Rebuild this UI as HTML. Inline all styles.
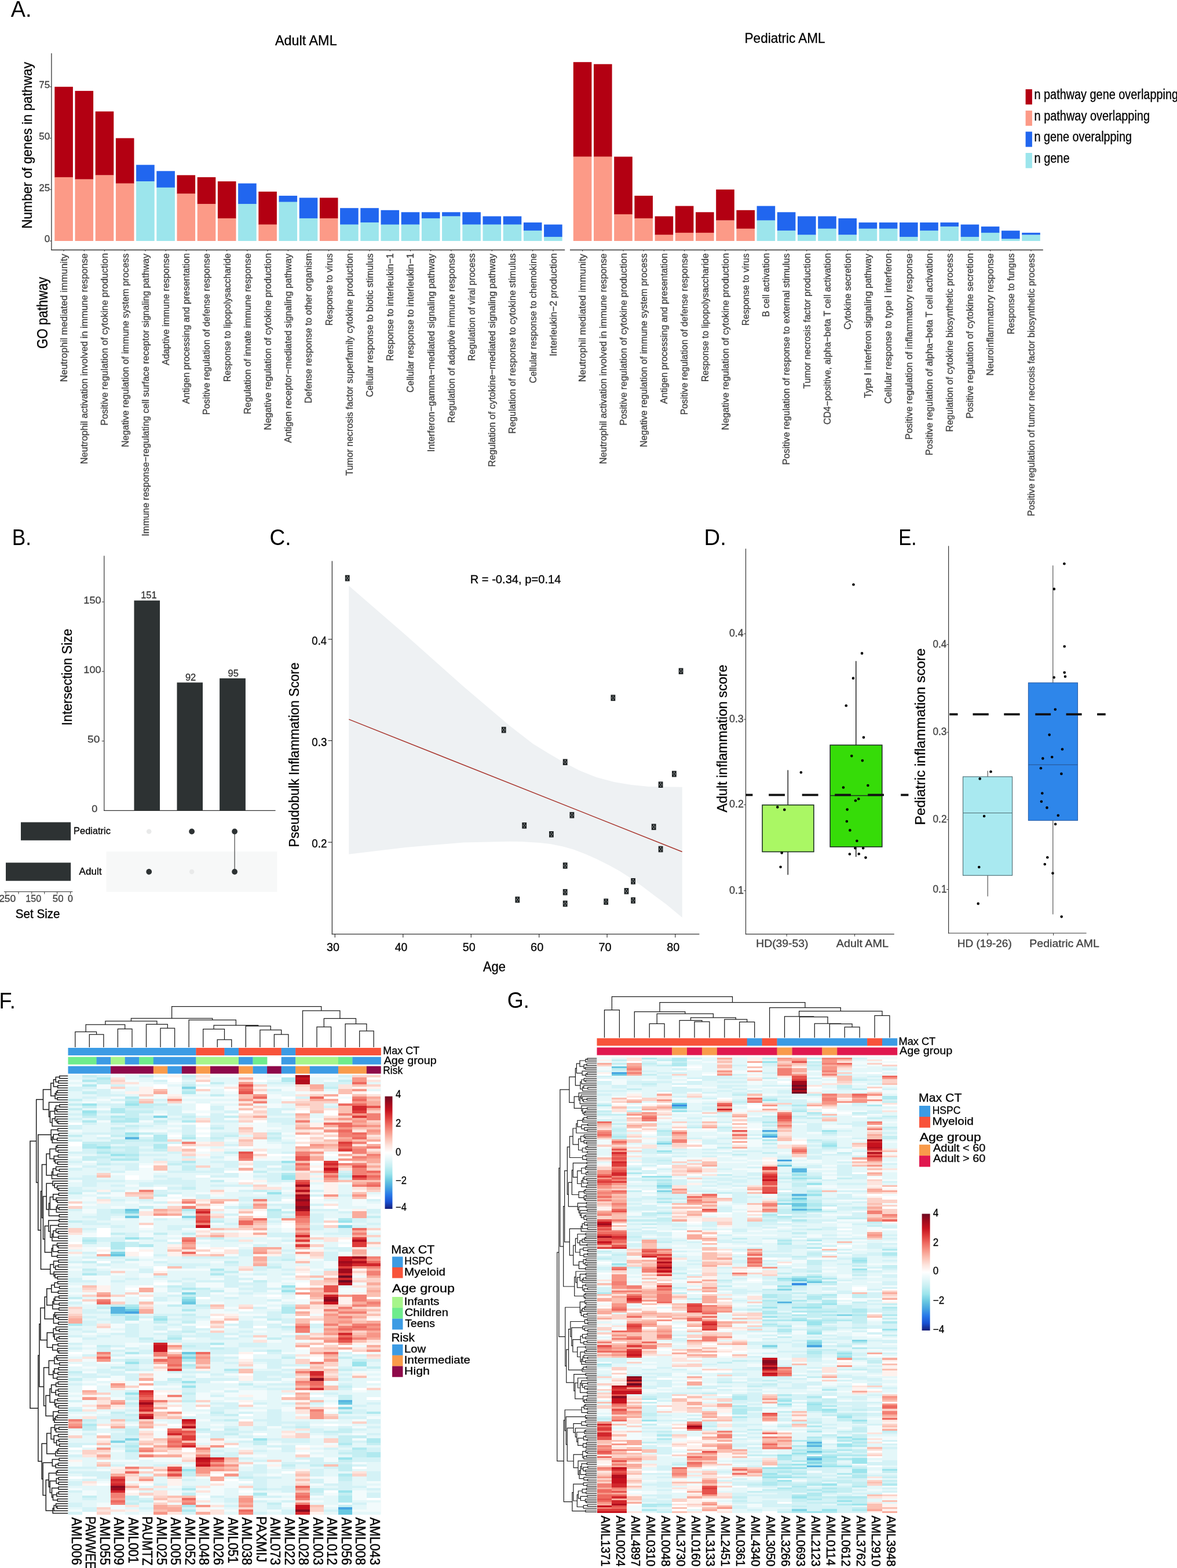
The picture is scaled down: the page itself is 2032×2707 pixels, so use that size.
<!DOCTYPE html>
<html lang="en"><head><meta charset="utf-8"><title>Figure</title>
<style>
html,body{margin:0;padding:0;background:#fff;}
body{width:2032px;height:2707px;overflow:hidden;}
svg{display:block;font-family:"Liberation Sans",sans-serif;}
</style></head><body>
<svg width="2032" height="2707" viewBox="0 0 2032 2707">
<rect x="0" y="0" width="2032" height="2707" fill="#fff"/>
<text x="18.70" y="29" font-size="38" fill="#000" textLength="35.69" lengthAdjust="spacingAndGlyphs">A.</text>
<text x="474.90" y="77.9" font-size="24" fill="#000" textLength="106.78" lengthAdjust="spacingAndGlyphs" stroke="#000" stroke-width="0.3">Adult AML</text>
<text x="1285.60" y="73.6" font-size="24" fill="#000" textLength="138.97" lengthAdjust="spacingAndGlyphs" stroke="#000" stroke-width="0.3">Pediatric AML</text>
<line x1="88.9" y1="91.9" x2="88.9" y2="432.1" stroke="#333333" stroke-width="1.3"/>
<line x1="88.3" y1="431.5" x2="975.2" y2="431.5" stroke="#333333" stroke-width="1.3"/>
<line x1="984" y1="431.5" x2="1800.8" y2="431.5" stroke="#333333" stroke-width="1.3"/>
<line x1="86" y1="149.8" x2="88.9" y2="149.8" stroke="#333333" stroke-width="1"/>
<text x="67.29" y="152.2" font-size="17" fill="#414141" stroke="#414141" stroke-width="0.3">75</text>
<line x1="86" y1="238.5" x2="88.9" y2="238.5" stroke="#333333" stroke-width="1"/>
<text x="67.29" y="240.9" font-size="17" fill="#414141" stroke="#414141" stroke-width="0.3">50</text>
<line x1="86" y1="327.2" x2="88.9" y2="327.2" stroke="#333333" stroke-width="1"/>
<text x="67.29" y="329.6" font-size="17" fill="#414141" stroke="#414141" stroke-width="0.3">25</text>
<line x1="86" y1="416" x2="88.9" y2="416" stroke="#333333" stroke-width="1"/>
<text x="76.75" y="418.4" font-size="17" fill="#414141" stroke="#414141" stroke-width="0.3">0</text>
<text transform="translate(55.1 393) rotate(-90)" x="-1.81" y="0" font-size="24" fill="#000" textLength="287.80" lengthAdjust="spacingAndGlyphs" stroke="#000" stroke-width="0.3">Number of genes in pathway</text>
<text transform="translate(82.1 601) rotate(-90)" x="-1.12" y="0" font-size="25" fill="#000" textLength="124.07" lengthAdjust="spacingAndGlyphs" stroke="#000" stroke-width="0.3">GO pathway</text>
<rect x="94.3" y="149.8" width="31.6" height="156.5" fill="#B30012"/>
<rect x="94.3" y="305.9" width="31.6" height="110.1" fill="#FC9A87"/>
<line x1="110.1" y1="431.5" x2="110.1" y2="433.9" stroke="#333333" stroke-width="1"/>
<text transform="translate(115.9 658.1) rotate(-90)" x="-1.34" y="0" font-size="16.5" fill="#414141" textLength="221.41" lengthAdjust="spacingAndGlyphs" stroke="#414141" stroke-width="0.3">Neutrophil mediated immunity</text>
<rect x="129.5" y="156.9" width="31.6" height="152.9" fill="#B30012"/>
<rect x="129.5" y="309.5" width="31.6" height="106.5" fill="#FC9A87"/>
<line x1="145.3" y1="431.5" x2="145.3" y2="433.9" stroke="#333333" stroke-width="1"/>
<text transform="translate(151.1 800) rotate(-90)" x="-1.31" y="0" font-size="16.5" fill="#414141" textLength="363.96" lengthAdjust="spacingAndGlyphs" stroke="#414141" stroke-width="0.3">Neutrophil activation involved in immune response</text>
<rect x="164.7" y="192.4" width="31.6" height="110.3" fill="#B30012"/>
<rect x="164.7" y="302.4" width="31.6" height="113.6" fill="#FC9A87"/>
<line x1="180.5" y1="431.5" x2="180.5" y2="433.9" stroke="#333333" stroke-width="1"/>
<text transform="translate(186.3 733.2) rotate(-90)" x="-1.31" y="0" font-size="16.5" fill="#414141" textLength="297.54" lengthAdjust="spacingAndGlyphs" stroke="#414141" stroke-width="0.3">Positive regulation of cytokine production</text>
<rect x="199.9" y="238.5" width="31.6" height="78.4" fill="#B30012"/>
<rect x="199.9" y="316.6" width="31.6" height="99.4" fill="#FC9A87"/>
<line x1="215.7" y1="431.5" x2="215.7" y2="433.9" stroke="#333333" stroke-width="1"/>
<text transform="translate(221.5 770.8) rotate(-90)" x="-1.29" y="0" font-size="16.5" fill="#414141" textLength="334.61" lengthAdjust="spacingAndGlyphs" stroke="#414141" stroke-width="0.3">Negative regulation of immune system process</text>
<rect x="235.1" y="284.6" width="31.6" height="28.7" fill="#2166EF"/>
<rect x="235.1" y="313.1" width="31.6" height="102.9" fill="#9CE5EC"/>
<line x1="250.9" y1="431.5" x2="250.9" y2="433.9" stroke="#333333" stroke-width="1"/>
<text transform="translate(256.7 924.2) rotate(-90)" x="-1.44" y="0" font-size="16.5" fill="#414141" textLength="487.64" lengthAdjust="spacingAndGlyphs" stroke="#414141" stroke-width="0.3">Immune response−regulating cell surface receptor signaling pathway</text>
<rect x="270.3" y="295.3" width="31.6" height="28.7" fill="#2166EF"/>
<rect x="270.3" y="323.7" width="31.6" height="92.3" fill="#9CE5EC"/>
<line x1="286.1" y1="431.5" x2="286.1" y2="433.9" stroke="#333333" stroke-width="1"/>
<text transform="translate(291.9 630.5) rotate(-90)" x="-0.00" y="0" font-size="16.5" fill="#414141" textLength="193.19" lengthAdjust="spacingAndGlyphs" stroke="#414141" stroke-width="0.3">Adaptive immune response</text>
<rect x="305.5" y="302.4" width="31.6" height="32.3" fill="#B30012"/>
<rect x="305.5" y="334.4" width="31.6" height="81.6" fill="#FC9A87"/>
<line x1="321.3" y1="431.5" x2="321.3" y2="433.9" stroke="#333333" stroke-width="1"/>
<text transform="translate(327.1 697.2) rotate(-90)" x="-0.00" y="0" font-size="16.5" fill="#414141" textLength="260.14" lengthAdjust="spacingAndGlyphs" stroke="#414141" stroke-width="0.3">Antigen processing and presentation</text>
<rect x="340.7" y="305.9" width="31.6" height="46.5" fill="#B30012"/>
<rect x="340.7" y="352.1" width="31.6" height="63.9" fill="#FC9A87"/>
<line x1="356.5" y1="431.5" x2="356.5" y2="433.9" stroke="#333333" stroke-width="1"/>
<text transform="translate(362.3 715.1) rotate(-90)" x="-1.27" y="0" font-size="16.5" fill="#414141" textLength="279.04" lengthAdjust="spacingAndGlyphs" stroke="#414141" stroke-width="0.3">Positive regulation of defense response</text>
<rect x="375.9" y="313.1" width="31.6" height="64.2" fill="#B30012"/>
<rect x="375.9" y="376.9" width="31.6" height="39.1" fill="#FC9A87"/>
<line x1="391.7" y1="431.5" x2="391.7" y2="433.9" stroke="#333333" stroke-width="1"/>
<text transform="translate(397.5 658.1) rotate(-90)" x="-1.26" y="0" font-size="16.5" fill="#414141" textLength="221.99" lengthAdjust="spacingAndGlyphs" stroke="#414141" stroke-width="0.3">Response to lipopolysaccharide</text>
<rect x="411.1" y="316.6" width="31.6" height="35.8" fill="#2166EF"/>
<rect x="411.1" y="352.1" width="31.6" height="63.9" fill="#9CE5EC"/>
<line x1="426.9" y1="431.5" x2="426.9" y2="433.9" stroke="#333333" stroke-width="1"/>
<text transform="translate(432.7 713.8) rotate(-90)" x="-1.30" y="0" font-size="16.5" fill="#414141" textLength="277.78" lengthAdjust="spacingAndGlyphs" stroke="#414141" stroke-width="0.3">Regulation of innate immune response</text>
<rect x="446.3" y="330.8" width="31.6" height="57.1" fill="#B30012"/>
<rect x="446.3" y="387.6" width="31.6" height="28.4" fill="#FC9A87"/>
<line x1="462.1" y1="431.5" x2="462.1" y2="433.9" stroke="#333333" stroke-width="1"/>
<text transform="translate(467.9 741.1) rotate(-90)" x="-1.31" y="0" font-size="16.5" fill="#414141" textLength="305.44" lengthAdjust="spacingAndGlyphs" stroke="#414141" stroke-width="0.3">Negative regulation of cytokine production</text>
<rect x="481.5" y="337.9" width="31.6" height="11" fill="#2166EF"/>
<rect x="481.5" y="348.6" width="31.6" height="67.4" fill="#9CE5EC"/>
<line x1="497.3" y1="431.5" x2="497.3" y2="433.9" stroke="#333333" stroke-width="1"/>
<text transform="translate(503.1 764.6) rotate(-90)" x="-0.00" y="0" font-size="16.5" fill="#414141" textLength="326.58" lengthAdjust="spacingAndGlyphs" stroke="#414141" stroke-width="0.3">Antigen receptor−mediated signaling pathway</text>
<rect x="516.7" y="341.4" width="31.6" height="35.8" fill="#2166EF"/>
<rect x="516.7" y="376.9" width="31.6" height="39.1" fill="#9CE5EC"/>
<line x1="532.5" y1="431.5" x2="532.5" y2="433.9" stroke="#333333" stroke-width="1"/>
<text transform="translate(538.3 695) rotate(-90)" x="-1.28" y="0" font-size="16.5" fill="#414141" textLength="259.26" lengthAdjust="spacingAndGlyphs" stroke="#414141" stroke-width="0.3">Defense response to other organism</text>
<rect x="551.9" y="341.4" width="31.6" height="35.8" fill="#B30012"/>
<rect x="551.9" y="376.9" width="31.6" height="39.1" fill="#FC9A87"/>
<line x1="567.7" y1="431.5" x2="567.7" y2="433.9" stroke="#333333" stroke-width="1"/>
<text transform="translate(573.5 560.9) rotate(-90)" x="-1.25" y="0" font-size="16.5" fill="#414141" textLength="124.68" lengthAdjust="spacingAndGlyphs" stroke="#414141" stroke-width="0.3">Response to virus</text>
<rect x="587.1" y="359.2" width="31.6" height="28.7" fill="#2166EF"/>
<rect x="587.1" y="387.6" width="31.6" height="28.4" fill="#9CE5EC"/>
<line x1="602.9" y1="431.5" x2="602.9" y2="433.9" stroke="#333333" stroke-width="1"/>
<text transform="translate(608.7 821) rotate(-90)" x="-0.32" y="0" font-size="16.5" fill="#414141" textLength="384.33" lengthAdjust="spacingAndGlyphs" stroke="#414141" stroke-width="0.3">Tumor necrosis factor superfamily cytokine production</text>
<rect x="622.3" y="359.2" width="31.6" height="25.2" fill="#2166EF"/>
<rect x="622.3" y="384.1" width="31.6" height="31.9" fill="#9CE5EC"/>
<line x1="638.1" y1="431.5" x2="638.1" y2="433.9" stroke="#333333" stroke-width="1"/>
<text transform="translate(643.9 684.7) rotate(-90)" x="-0.80" y="0" font-size="16.5" fill="#414141" textLength="248.09" lengthAdjust="spacingAndGlyphs" stroke="#414141" stroke-width="0.3">Cellular response to biotic stimulus</text>
<rect x="657.5" y="362.8" width="31.6" height="25.2" fill="#2166EF"/>
<rect x="657.5" y="387.6" width="31.6" height="28.4" fill="#9CE5EC"/>
<line x1="673.3" y1="431.5" x2="673.3" y2="433.9" stroke="#333333" stroke-width="1"/>
<text transform="translate(679.1 622) rotate(-90)" x="-1.28" y="0" font-size="16.5" fill="#414141" textLength="186.02" lengthAdjust="spacingAndGlyphs" stroke="#414141" stroke-width="0.3">Response to interleukin−1</text>
<rect x="692.7" y="366.3" width="31.6" height="21.6" fill="#2166EF"/>
<rect x="692.7" y="387.6" width="31.6" height="28.4" fill="#9CE5EC"/>
<line x1="708.5" y1="431.5" x2="708.5" y2="433.9" stroke="#333333" stroke-width="1"/>
<text transform="translate(714.3 676.9) rotate(-90)" x="-0.81" y="0" font-size="16.5" fill="#414141" textLength="240.44" lengthAdjust="spacingAndGlyphs" stroke="#414141" stroke-width="0.3">Cellular response to interleukin−1</text>
<rect x="727.9" y="366.3" width="31.6" height="10.9" fill="#2166EF"/>
<rect x="727.9" y="376.9" width="31.6" height="39.1" fill="#9CE5EC"/>
<line x1="743.7" y1="431.5" x2="743.7" y2="433.9" stroke="#333333" stroke-width="1"/>
<text transform="translate(749.5 778.7) rotate(-90)" x="-1.46" y="0" font-size="16.5" fill="#414141" textLength="342.15" lengthAdjust="spacingAndGlyphs" stroke="#414141" stroke-width="0.3">Interferon−gamma−mediated signaling pathway</text>
<rect x="763.1" y="366.3" width="31.6" height="7.4" fill="#2166EF"/>
<rect x="763.1" y="373.4" width="31.6" height="42.6" fill="#9CE5EC"/>
<line x1="778.9" y1="431.5" x2="778.9" y2="433.9" stroke="#333333" stroke-width="1"/>
<text transform="translate(784.7 728.6) rotate(-90)" x="-1.29" y="0" font-size="16.5" fill="#414141" textLength="292.58" lengthAdjust="spacingAndGlyphs" stroke="#414141" stroke-width="0.3">Regulation of adaptive immune response</text>
<rect x="798.3" y="366.3" width="31.6" height="21.6" fill="#2166EF"/>
<rect x="798.3" y="387.6" width="31.6" height="28.4" fill="#9CE5EC"/>
<line x1="814.1" y1="431.5" x2="814.1" y2="433.9" stroke="#333333" stroke-width="1"/>
<text transform="translate(819.9 622) rotate(-90)" x="-1.26" y="0" font-size="16.5" fill="#414141" textLength="185.80" lengthAdjust="spacingAndGlyphs" stroke="#414141" stroke-width="0.3">Regulation of viral process</text>
<rect x="833.5" y="373.4" width="31.6" height="14.5" fill="#2166EF"/>
<rect x="833.5" y="387.6" width="31.6" height="28.4" fill="#9CE5EC"/>
<line x1="849.3" y1="431.5" x2="849.3" y2="433.9" stroke="#333333" stroke-width="1"/>
<text transform="translate(855.1 804.7) rotate(-90)" x="-1.29" y="0" font-size="16.5" fill="#414141" textLength="368.00" lengthAdjust="spacingAndGlyphs" stroke="#414141" stroke-width="0.3">Regulation of cytokine−mediated signaling pathway</text>
<rect x="868.7" y="373.4" width="31.6" height="14.5" fill="#2166EF"/>
<rect x="868.7" y="387.6" width="31.6" height="28.4" fill="#9CE5EC"/>
<line x1="884.5" y1="431.5" x2="884.5" y2="433.9" stroke="#333333" stroke-width="1"/>
<text transform="translate(890.3 747.4) rotate(-90)" x="-1.29" y="0" font-size="16.5" fill="#414141" textLength="311.23" lengthAdjust="spacingAndGlyphs" stroke="#414141" stroke-width="0.3">Regulation of response to cytokine stimulus</text>
<rect x="903.9" y="384.1" width="31.6" height="14.5" fill="#2166EF"/>
<rect x="903.9" y="398.2" width="31.6" height="17.8" fill="#9CE5EC"/>
<line x1="919.7" y1="431.5" x2="919.7" y2="433.9" stroke="#333333" stroke-width="1"/>
<text transform="translate(925.5 660.6) rotate(-90)" x="-0.80" y="0" font-size="16.5" fill="#414141" textLength="224.08" lengthAdjust="spacingAndGlyphs" stroke="#414141" stroke-width="0.3">Cellular response to chemokine</text>
<rect x="939.1" y="387.6" width="31.6" height="21.6" fill="#2166EF"/>
<rect x="939.1" y="408.9" width="31.6" height="7.1" fill="#9CE5EC"/>
<line x1="954.9" y1="431.5" x2="954.9" y2="433.9" stroke="#333333" stroke-width="1"/>
<text transform="translate(960.7 613.6) rotate(-90)" x="-1.50" y="0" font-size="16.5" fill="#414141" textLength="178.13" lengthAdjust="spacingAndGlyphs" stroke="#414141" stroke-width="0.3">Interleukin−2 production</text>
<rect x="989.8" y="107.2" width="31.6" height="163.6" fill="#B30012"/>
<rect x="989.8" y="270.5" width="31.6" height="145.5" fill="#FC9A87"/>
<line x1="1005.6" y1="431.5" x2="1005.6" y2="433.9" stroke="#333333" stroke-width="1"/>
<text transform="translate(1011.4 658.1) rotate(-90)" x="-1.34" y="0" font-size="16.5" fill="#414141" textLength="221.41" lengthAdjust="spacingAndGlyphs" stroke="#414141" stroke-width="0.3">Neutrophil mediated immunity</text>
<rect x="1025" y="110.7" width="31.6" height="160.1" fill="#B30012"/>
<rect x="1025" y="270.5" width="31.6" height="145.5" fill="#FC9A87"/>
<line x1="1040.8" y1="431.5" x2="1040.8" y2="433.9" stroke="#333333" stroke-width="1"/>
<text transform="translate(1046.6 800) rotate(-90)" x="-1.31" y="0" font-size="16.5" fill="#414141" textLength="363.96" lengthAdjust="spacingAndGlyphs" stroke="#414141" stroke-width="0.3">Neutrophil activation involved in immune response</text>
<rect x="1060.2" y="270.5" width="31.6" height="99.7" fill="#B30012"/>
<rect x="1060.2" y="369.9" width="31.6" height="46.1" fill="#FC9A87"/>
<line x1="1076" y1="431.5" x2="1076" y2="433.9" stroke="#333333" stroke-width="1"/>
<text transform="translate(1081.8 733.2) rotate(-90)" x="-1.31" y="0" font-size="16.5" fill="#414141" textLength="297.54" lengthAdjust="spacingAndGlyphs" stroke="#414141" stroke-width="0.3">Positive regulation of cytokine production</text>
<rect x="1095.4" y="337.9" width="31.6" height="39.4" fill="#B30012"/>
<rect x="1095.4" y="376.9" width="31.6" height="39.1" fill="#FC9A87"/>
<line x1="1111.2" y1="431.5" x2="1111.2" y2="433.9" stroke="#333333" stroke-width="1"/>
<text transform="translate(1117 770.8) rotate(-90)" x="-1.29" y="0" font-size="16.5" fill="#414141" textLength="334.61" lengthAdjust="spacingAndGlyphs" stroke="#414141" stroke-width="0.3">Negative regulation of immune system process</text>
<rect x="1130.6" y="373.4" width="31.6" height="32.3" fill="#B30012"/>
<rect x="1130.6" y="405.4" width="31.6" height="10.6" fill="#FC9A87"/>
<line x1="1146.4" y1="431.5" x2="1146.4" y2="433.9" stroke="#333333" stroke-width="1"/>
<text transform="translate(1152.2 697.2) rotate(-90)" x="-0.00" y="0" font-size="16.5" fill="#414141" textLength="260.14" lengthAdjust="spacingAndGlyphs" stroke="#414141" stroke-width="0.3">Antigen processing and presentation</text>
<rect x="1165.8" y="355.6" width="31.6" height="46.5" fill="#B30012"/>
<rect x="1165.8" y="401.8" width="31.6" height="14.2" fill="#FC9A87"/>
<line x1="1181.6" y1="431.5" x2="1181.6" y2="433.9" stroke="#333333" stroke-width="1"/>
<text transform="translate(1187.4 715.1) rotate(-90)" x="-1.27" y="0" font-size="16.5" fill="#414141" textLength="279.04" lengthAdjust="spacingAndGlyphs" stroke="#414141" stroke-width="0.3">Positive regulation of defense response</text>
<rect x="1201" y="366.3" width="31.6" height="35.8" fill="#B30012"/>
<rect x="1201" y="401.8" width="31.6" height="14.2" fill="#FC9A87"/>
<line x1="1216.8" y1="431.5" x2="1216.8" y2="433.9" stroke="#333333" stroke-width="1"/>
<text transform="translate(1222.6 658.1) rotate(-90)" x="-1.26" y="0" font-size="16.5" fill="#414141" textLength="221.99" lengthAdjust="spacingAndGlyphs" stroke="#414141" stroke-width="0.3">Response to lipopolysaccharide</text>
<rect x="1236.2" y="327.2" width="31.6" height="53.5" fill="#B30012"/>
<rect x="1236.2" y="380.5" width="31.6" height="35.5" fill="#FC9A87"/>
<line x1="1252" y1="431.5" x2="1252" y2="433.9" stroke="#333333" stroke-width="1"/>
<text transform="translate(1257.8 741.1) rotate(-90)" x="-1.31" y="0" font-size="16.5" fill="#414141" textLength="305.44" lengthAdjust="spacingAndGlyphs" stroke="#414141" stroke-width="0.3">Negative regulation of cytokine production</text>
<rect x="1271.4" y="362.8" width="31.6" height="32.2" fill="#B30012"/>
<rect x="1271.4" y="394.7" width="31.6" height="21.3" fill="#FC9A87"/>
<line x1="1287.2" y1="431.5" x2="1287.2" y2="433.9" stroke="#333333" stroke-width="1"/>
<text transform="translate(1293 560.9) rotate(-90)" x="-1.25" y="0" font-size="16.5" fill="#414141" textLength="124.68" lengthAdjust="spacingAndGlyphs" stroke="#414141" stroke-width="0.3">Response to virus</text>
<rect x="1306.6" y="355.6" width="31.6" height="25.2" fill="#2166EF"/>
<rect x="1306.6" y="380.5" width="31.6" height="35.5" fill="#9CE5EC"/>
<line x1="1322.4" y1="431.5" x2="1322.4" y2="433.9" stroke="#333333" stroke-width="1"/>
<text transform="translate(1328.2 545.9) rotate(-90)" x="-1.27" y="0" font-size="16.5" fill="#414141" textLength="110.17" lengthAdjust="spacingAndGlyphs" stroke="#414141" stroke-width="0.3">B cell activation</text>
<rect x="1341.8" y="366.3" width="31.6" height="32.2" fill="#2166EF"/>
<rect x="1341.8" y="398.2" width="31.6" height="17.8" fill="#9CE5EC"/>
<line x1="1357.6" y1="431.5" x2="1357.6" y2="433.9" stroke="#333333" stroke-width="1"/>
<text transform="translate(1363.4 801.2) rotate(-90)" x="-1.29" y="0" font-size="16.5" fill="#414141" textLength="365.03" lengthAdjust="spacingAndGlyphs" stroke="#414141" stroke-width="0.3">Positive regulation of response to external stimulus</text>
<rect x="1377" y="373.4" width="31.6" height="32.3" fill="#2166EF"/>
<rect x="1377" y="405.4" width="31.6" height="10.6" fill="#9CE5EC"/>
<line x1="1392.8" y1="431.5" x2="1392.8" y2="433.9" stroke="#333333" stroke-width="1"/>
<text transform="translate(1398.6 670.6) rotate(-90)" x="-0.32" y="0" font-size="16.5" fill="#414141" textLength="233.89" lengthAdjust="spacingAndGlyphs" stroke="#414141" stroke-width="0.3">Tumor necrosis factor production</text>
<rect x="1412.2" y="373.4" width="31.6" height="21.6" fill="#2166EF"/>
<rect x="1412.2" y="394.7" width="31.6" height="21.3" fill="#9CE5EC"/>
<line x1="1428" y1="431.5" x2="1428" y2="433.9" stroke="#333333" stroke-width="1"/>
<text transform="translate(1433.8 732.3) rotate(-90)" x="-0.79" y="0" font-size="16.5" fill="#414141" textLength="296.07" lengthAdjust="spacingAndGlyphs" stroke="#414141" stroke-width="0.3">CD4−positive, alpha−beta T cell activation</text>
<rect x="1447.4" y="376.9" width="31.6" height="28.7" fill="#2166EF"/>
<rect x="1447.4" y="405.4" width="31.6" height="10.6" fill="#9CE5EC"/>
<line x1="1463.2" y1="431.5" x2="1463.2" y2="433.9" stroke="#333333" stroke-width="1"/>
<text transform="translate(1469 568.2) rotate(-90)" x="-0.80" y="0" font-size="16.5" fill="#414141" textLength="131.98" lengthAdjust="spacingAndGlyphs" stroke="#414141" stroke-width="0.3">Cytokine secretion</text>
<rect x="1482.6" y="384.1" width="31.6" height="10.9" fill="#2166EF"/>
<rect x="1482.6" y="394.7" width="31.6" height="21.3" fill="#9CE5EC"/>
<line x1="1498.4" y1="431.5" x2="1498.4" y2="433.9" stroke="#333333" stroke-width="1"/>
<text transform="translate(1504.2 686.9) rotate(-90)" x="-0.32" y="0" font-size="16.5" fill="#414141" textLength="249.21" lengthAdjust="spacingAndGlyphs" stroke="#414141" stroke-width="0.3">Type I interferon signaling pathway</text>
<rect x="1517.8" y="384.1" width="31.6" height="10.9" fill="#2166EF"/>
<rect x="1517.8" y="394.7" width="31.6" height="21.3" fill="#9CE5EC"/>
<line x1="1533.6" y1="431.5" x2="1533.6" y2="433.9" stroke="#333333" stroke-width="1"/>
<text transform="translate(1539.4 696.3) rotate(-90)" x="-0.81" y="0" font-size="16.5" fill="#414141" textLength="260.07" lengthAdjust="spacingAndGlyphs" stroke="#414141" stroke-width="0.3">Cellular response to type I interferon</text>
<rect x="1553" y="384.1" width="31.6" height="25.1" fill="#2166EF"/>
<rect x="1553" y="408.9" width="31.6" height="7.1" fill="#9CE5EC"/>
<line x1="1568.8" y1="431.5" x2="1568.8" y2="433.9" stroke="#333333" stroke-width="1"/>
<text transform="translate(1574.6 757.7) rotate(-90)" x="-1.31" y="0" font-size="16.5" fill="#414141" textLength="321.69" lengthAdjust="spacingAndGlyphs" stroke="#414141" stroke-width="0.3">Positive regulation of inflammatory response</text>
<rect x="1588.2" y="384.1" width="31.6" height="14.5" fill="#2166EF"/>
<rect x="1588.2" y="398.2" width="31.6" height="17.8" fill="#9CE5EC"/>
<line x1="1604" y1="431.5" x2="1604" y2="433.9" stroke="#333333" stroke-width="1"/>
<text transform="translate(1609.8 784.9) rotate(-90)" x="-1.29" y="0" font-size="16.5" fill="#414141" textLength="349.19" lengthAdjust="spacingAndGlyphs" stroke="#414141" stroke-width="0.3">Positive regulation of alpha−beta T cell activation</text>
<rect x="1623.4" y="384.1" width="31.6" height="7.4" fill="#2166EF"/>
<rect x="1623.4" y="391.1" width="31.6" height="24.9" fill="#9CE5EC"/>
<line x1="1639.2" y1="431.5" x2="1639.2" y2="433.9" stroke="#333333" stroke-width="1"/>
<text transform="translate(1645 744.2) rotate(-90)" x="-1.28" y="0" font-size="16.5" fill="#414141" textLength="308.01" lengthAdjust="spacingAndGlyphs" stroke="#414141" stroke-width="0.3">Regulation of cytokine biosynthetic process</text>
<rect x="1658.6" y="387.6" width="31.6" height="21.6" fill="#2166EF"/>
<rect x="1658.6" y="408.9" width="31.6" height="7.1" fill="#9CE5EC"/>
<line x1="1674.4" y1="431.5" x2="1674.4" y2="433.9" stroke="#333333" stroke-width="1"/>
<text transform="translate(1680.2 721.3) rotate(-90)" x="-1.30" y="0" font-size="16.5" fill="#414141" textLength="285.58" lengthAdjust="spacingAndGlyphs" stroke="#414141" stroke-width="0.3">Positive regulation of cytokine secretion</text>
<rect x="1693.8" y="391.1" width="31.6" height="11" fill="#2166EF"/>
<rect x="1693.8" y="401.8" width="31.6" height="14.2" fill="#9CE5EC"/>
<line x1="1709.6" y1="431.5" x2="1709.6" y2="433.9" stroke="#333333" stroke-width="1"/>
<text transform="translate(1715.4 647.1) rotate(-90)" x="-1.32" y="0" font-size="16.5" fill="#414141" textLength="211.06" lengthAdjust="spacingAndGlyphs" stroke="#414141" stroke-width="0.3">Neuroinflammatory response</text>
<rect x="1729" y="398.2" width="31.6" height="14.5" fill="#2166EF"/>
<rect x="1729" y="412.4" width="31.6" height="3.6" fill="#9CE5EC"/>
<line x1="1744.8" y1="431.5" x2="1744.8" y2="433.9" stroke="#333333" stroke-width="1"/>
<text transform="translate(1750.6 576) rotate(-90)" x="-1.26" y="0" font-size="16.5" fill="#414141" textLength="139.81" lengthAdjust="spacingAndGlyphs" stroke="#414141" stroke-width="0.3">Response to fungus</text>
<rect x="1764.2" y="401.8" width="31.6" height="3.9" fill="#2166EF"/>
<rect x="1764.2" y="405.4" width="31.6" height="10.6" fill="#9CE5EC"/>
<line x1="1780" y1="431.5" x2="1780" y2="433.9" stroke="#333333" stroke-width="1"/>
<text transform="translate(1785.8 889.9) rotate(-90)" x="-1.29" y="0" font-size="16.5" fill="#414141" textLength="453.76" lengthAdjust="spacingAndGlyphs" stroke="#414141" stroke-width="0.3">Positive regulation of tumor necrosis factor biosynthetic process</text>
<rect x="1770.6" y="154.1" width="11.3" height="26.3" fill="#B30012"/>
<text x="1785.51" y="171.3" font-size="23" fill="#000" textLength="248.48" lengthAdjust="spacingAndGlyphs" stroke="#000" stroke-width="0.3">n pathway gene overlapping</text>
<rect x="1770.6" y="190.9" width="11.3" height="26.3" fill="#FC9A87"/>
<text x="1785.50" y="207.8" font-size="23" fill="#000" textLength="199.53" lengthAdjust="spacingAndGlyphs" stroke="#000" stroke-width="0.3">n pathway overlapping</text>
<rect x="1770.6" y="227.3" width="11.3" height="26.3" fill="#2166EF"/>
<text x="1785.51" y="244.2" font-size="23" fill="#000" textLength="168.52" lengthAdjust="spacingAndGlyphs" stroke="#000" stroke-width="0.3">n gene overalpping</text>
<rect x="1770.6" y="264" width="11.3" height="26.3" fill="#9CE5EC"/>
<text x="1785.50" y="280.6" font-size="23" fill="#000" textLength="61.07" lengthAdjust="spacingAndGlyphs" stroke="#000" stroke-width="0.3">n gene</text>
<text x="20.68" y="940.9" font-size="38" fill="#000" textLength="33.28" lengthAdjust="spacingAndGlyphs">B.</text>
<rect x="183.6" y="1470.2" width="294.8" height="69.6" fill="#F7F8F8"/>
<line x1="179.8" y1="959.6" x2="179.8" y2="1400" stroke="#333333" stroke-width="1.2"/>
<line x1="179.2" y1="1399.4" x2="475.6" y2="1399.4" stroke="#333333" stroke-width="1.2"/>
<line x1="175.8" y1="1039.1" x2="179.8" y2="1039.1" stroke="#333333" stroke-width="1"/>
<text x="144.34" y="1041.7" font-size="16.5" fill="#414141" textLength="30.37" lengthAdjust="spacingAndGlyphs" stroke="#414141" stroke-width="0.3">150</text>
<line x1="175.8" y1="1159.2" x2="179.8" y2="1159.2" stroke="#333333" stroke-width="1"/>
<text x="144.34" y="1162.3" font-size="16.5" fill="#414141" textLength="30.37" lengthAdjust="spacingAndGlyphs" stroke="#414141" stroke-width="0.3">100</text>
<line x1="175.8" y1="1279.3" x2="179.8" y2="1279.3" stroke="#333333" stroke-width="1"/>
<text x="151.13" y="1282.3" font-size="16.5" fill="#414141" textLength="21.28" lengthAdjust="spacingAndGlyphs" stroke="#414141" stroke-width="0.3">50</text>
<text x="158.16" y="1402" font-size="16.5" fill="#414141" textLength="10.09" lengthAdjust="spacingAndGlyphs" stroke="#414141" stroke-width="0.3">0</text>
<text transform="translate(123.7 1250.4) rotate(-90)" x="-2.03" y="0" font-size="23" fill="#000" textLength="167.00" lengthAdjust="spacingAndGlyphs" stroke="#000" stroke-width="0.3">Intersection Size</text>
<rect x="231.5" y="1036.7" width="44.5" height="362.7" fill="#2D3233"/>
<text x="243.13" y="1032.6" font-size="16.5" fill="#333" stroke="#333" stroke-width="0.3">151</text>
<rect x="305.5" y="1178.3" width="44.5" height="221.1" fill="#2D3233"/>
<text x="319.92" y="1174.9" font-size="16.5" fill="#333" stroke="#333" stroke-width="0.3">92</text>
<rect x="379.1" y="1171.1" width="44.8" height="228.3" fill="#2D3233"/>
<text x="393.52" y="1167.7" font-size="16.5" fill="#333" stroke="#333" stroke-width="0.3">95</text>
<rect x="36" y="1419.5" width="86.2" height="31.3" fill="#2D3233"/>
<rect x="10" y="1489.3" width="112.2" height="31.4" fill="#2D3233"/>
<text x="127.09" y="1440.2" font-size="17" fill="#000" textLength="63.84" lengthAdjust="spacingAndGlyphs" stroke="#000" stroke-width="0.3">Pediatric</text>
<text x="136.60" y="1510" font-size="17" fill="#000" textLength="38.87" lengthAdjust="spacingAndGlyphs" stroke="#000" stroke-width="0.3">Adult</text>
<line x1="405.1" y1="1435.5" x2="405.1" y2="1505" stroke="#444" stroke-width="1.2"/>
<circle cx="257.2" cy="1435.5" r="4.3" fill="#E9EAEA"/>
<circle cx="257.2" cy="1505" r="4.9" fill="#2D3233"/>
<circle cx="331.1" cy="1435.5" r="4.9" fill="#2D3233"/>
<circle cx="331.1" cy="1505" r="4.3" fill="#E9EAEA"/>
<circle cx="405.1" cy="1435.5" r="4.9" fill="#2D3233"/>
<circle cx="405.1" cy="1505" r="4.9" fill="#2D3233"/>
<line x1="6.9" y1="1539.5" x2="125.3" y2="1539.5" stroke="#333333" stroke-width="1"/>
<line x1="10" y1="1539.5" x2="10" y2="1543.5" stroke="#333333" stroke-width="1"/>
<line x1="32" y1="1539.5" x2="32" y2="1543.5" stroke="#333333" stroke-width="1"/>
<line x1="54.8" y1="1539.5" x2="54.8" y2="1543.5" stroke="#333333" stroke-width="1"/>
<line x1="76.8" y1="1539.5" x2="76.8" y2="1543.5" stroke="#333333" stroke-width="1"/>
<line x1="98.7" y1="1539.5" x2="98.7" y2="1543.5" stroke="#333333" stroke-width="1"/>
<line x1="121.6" y1="1539.5" x2="121.6" y2="1543.5" stroke="#333333" stroke-width="1"/>
<text x="-1.87" y="1557" font-size="16.5" fill="#414141" textLength="29.15" lengthAdjust="spacingAndGlyphs" stroke="#414141" stroke-width="0.3">250</text>
<text x="44.19" y="1557" font-size="16.5" fill="#414141" textLength="26.93" lengthAdjust="spacingAndGlyphs" stroke="#414141" stroke-width="0.3">150</text>
<text x="90.82" y="1557" font-size="16.5" fill="#414141" textLength="18.81" lengthAdjust="spacingAndGlyphs" stroke="#414141" stroke-width="0.3">50</text>
<text x="116.94" y="1557" font-size="16.5" fill="#414141" textLength="8.94" lengthAdjust="spacingAndGlyphs" stroke="#414141" stroke-width="0.3">0</text>
<text x="26.67" y="1584.6" font-size="22.5" fill="#000" textLength="76.94" lengthAdjust="spacingAndGlyphs" stroke="#000" stroke-width="0.3">Set Size</text>
<text x="465.55" y="940.5" font-size="38" fill="#000" textLength="36.98" lengthAdjust="spacingAndGlyphs">C.</text>
<polygon points="602.3,1011.3 700,1096 800,1185 880,1253 920,1284 946,1300 975,1317 1000,1330 1030,1342 1060,1350 1090,1355 1120,1358 1177.7,1358.7 1177.7,1584 1150,1561 1131,1547 1110,1531 1091.5,1517.7 1070,1504 1052,1494 1030,1483 1012,1475 990,1466.5 972,1461.5 950,1457 932,1455 900,1453 880,1452.8 800,1454.5 700,1463 602.3,1474.8" fill="#EEF1F3"/>
<line x1="602.3" y1="1241.9" x2="1177.7" y2="1470.5" stroke="#A8352D" stroke-width="1.5"/>
<line x1="573.4" y1="968.4" x2="573.4" y2="1613.2" stroke="#333333" stroke-width="1.3"/>
<line x1="572.8" y1="1612.6" x2="1207.4" y2="1612.6" stroke="#333333" stroke-width="1.3"/>
<line x1="566.5" y1="1103.6" x2="573.4" y2="1103.6" stroke="#333333" stroke-width="1.2"/>
<text x="538.35" y="1112.6" font-size="20" fill="#000" textLength="25.71" lengthAdjust="spacingAndGlyphs" stroke="#000" stroke-width="0.3">0.4</text>
<line x1="566.5" y1="1278.6" x2="573.4" y2="1278.6" stroke="#333333" stroke-width="1.2"/>
<text x="538.35" y="1287.6" font-size="20" fill="#000" textLength="26.01" lengthAdjust="spacingAndGlyphs" stroke="#000" stroke-width="0.3">0.3</text>
<line x1="566.5" y1="1454.1" x2="573.4" y2="1454.1" stroke="#333333" stroke-width="1.2"/>
<text x="538.34" y="1463.1" font-size="20" fill="#000" textLength="26.11" lengthAdjust="spacingAndGlyphs" stroke="#000" stroke-width="0.3">0.2</text>
<line x1="578.3" y1="1612.6" x2="578.3" y2="1618.6" stroke="#333333" stroke-width="1.2"/>
<text x="563.96" y="1641.7" font-size="20" fill="#000" textLength="21.93" lengthAdjust="spacingAndGlyphs" stroke="#000" stroke-width="0.3">30</text>
<line x1="695.8" y1="1612.6" x2="695.8" y2="1618.6" stroke="#333333" stroke-width="1.2"/>
<text x="681.76" y="1641.7" font-size="20" fill="#000" textLength="21.61" lengthAdjust="spacingAndGlyphs" stroke="#000" stroke-width="0.3">40</text>
<line x1="813.3" y1="1612.6" x2="813.3" y2="1618.6" stroke="#333333" stroke-width="1.2"/>
<text x="798.86" y="1641.7" font-size="20" fill="#000" textLength="22.03" lengthAdjust="spacingAndGlyphs" stroke="#000" stroke-width="0.3">50</text>
<line x1="930.7" y1="1612.6" x2="930.7" y2="1618.6" stroke="#333333" stroke-width="1.2"/>
<text x="916.05" y="1641.7" font-size="20" fill="#000" textLength="22.25" lengthAdjust="spacingAndGlyphs" stroke="#000" stroke-width="0.3">60</text>
<line x1="1048.1" y1="1612.6" x2="1048.1" y2="1618.6" stroke="#333333" stroke-width="1.2"/>
<text x="1033.45" y="1641.7" font-size="20" fill="#000" textLength="22.25" lengthAdjust="spacingAndGlyphs" stroke="#000" stroke-width="0.3">70</text>
<line x1="1165.8" y1="1612.6" x2="1165.8" y2="1618.6" stroke="#333333" stroke-width="1.2"/>
<text x="1151.36" y="1641.7" font-size="20" fill="#000" textLength="22.03" lengthAdjust="spacingAndGlyphs" stroke="#000" stroke-width="0.3">80</text>
<text x="834.00" y="1677.4" font-size="23" fill="#000" textLength="38.96" lengthAdjust="spacingAndGlyphs" stroke="#000" stroke-width="0.3">Age</text>
<text transform="translate(515.7 1460.7) rotate(-90)" x="-1.81" y="0" font-size="23" fill="#000" textLength="318.69" lengthAdjust="spacingAndGlyphs" stroke="#000" stroke-width="0.3">Pseudobulk Inflammation Score</text>
<text x="811.69" y="1007.3" font-size="20" fill="#000" textLength="156.68" lengthAdjust="spacingAndGlyphs" stroke="#000" stroke-width="0.3">R = -0.34, p=0.14</text>
<g transform="translate(599.7 998.1)"><rect x="-3.9" y="-5.3" width="7.8" height="10.6" fill="#1f2425"/><path d="M-1.1 -3.4h2.2l-1.1 1.7zM-1.1 3.4h2.2l-1.1 -1.7zM-2.3 -1.3v2.6l1.3 -1.3zM2.3 -1.3v2.6l-1.3 -1.3z" fill="#d9dcdc"/></g>
<g transform="translate(1058.4 1204.8)"><rect x="-3.9" y="-5.3" width="7.8" height="10.6" fill="#1f2425"/><path d="M-1.1 -3.4h2.2l-1.1 1.7zM-1.1 3.4h2.2l-1.1 -1.7zM-2.3 -1.3v2.6l1.3 -1.3zM2.3 -1.3v2.6l-1.3 -1.3z" fill="#d9dcdc"/></g>
<g transform="translate(1175.6 1158.7)"><rect x="-3.9" y="-5.3" width="7.8" height="10.6" fill="#1f2425"/><path d="M-1.1 -3.4h2.2l-1.1 1.7zM-1.1 3.4h2.2l-1.1 -1.7zM-2.3 -1.3v2.6l1.3 -1.3zM2.3 -1.3v2.6l-1.3 -1.3z" fill="#d9dcdc"/></g>
<g transform="translate(869.7 1260.1)"><rect x="-3.9" y="-5.3" width="7.8" height="10.6" fill="#1f2425"/><path d="M-1.1 -3.4h2.2l-1.1 1.7zM-1.1 3.4h2.2l-1.1 -1.7zM-2.3 -1.3v2.6l1.3 -1.3zM2.3 -1.3v2.6l-1.3 -1.3z" fill="#d9dcdc"/></g>
<g transform="translate(975.7 1315.7)"><rect x="-3.9" y="-5.3" width="7.8" height="10.6" fill="#1f2425"/><path d="M-1.1 -3.4h2.2l-1.1 1.7zM-1.1 3.4h2.2l-1.1 -1.7zM-2.3 -1.3v2.6l1.3 -1.3zM2.3 -1.3v2.6l-1.3 -1.3z" fill="#d9dcdc"/></g>
<g transform="translate(1163.9 1336.1)"><rect x="-3.9" y="-5.3" width="7.8" height="10.6" fill="#1f2425"/><path d="M-1.1 -3.4h2.2l-1.1 1.7zM-1.1 3.4h2.2l-1.1 -1.7zM-2.3 -1.3v2.6l1.3 -1.3zM2.3 -1.3v2.6l-1.3 -1.3z" fill="#d9dcdc"/></g>
<g transform="translate(1140.6 1354.7)"><rect x="-3.9" y="-5.3" width="7.8" height="10.6" fill="#1f2425"/><path d="M-1.1 -3.4h2.2l-1.1 1.7zM-1.1 3.4h2.2l-1.1 -1.7zM-2.3 -1.3v2.6l1.3 -1.3zM2.3 -1.3v2.6l-1.3 -1.3z" fill="#d9dcdc"/></g>
<g transform="translate(987.4 1407.2)"><rect x="-3.9" y="-5.3" width="7.8" height="10.6" fill="#1f2425"/><path d="M-1.1 -3.4h2.2l-1.1 1.7zM-1.1 3.4h2.2l-1.1 -1.7zM-2.3 -1.3v2.6l1.3 -1.3zM2.3 -1.3v2.6l-1.3 -1.3z" fill="#d9dcdc"/></g>
<g transform="translate(905.2 1425.2)"><rect x="-3.9" y="-5.3" width="7.8" height="10.6" fill="#1f2425"/><path d="M-1.1 -3.4h2.2l-1.1 1.7zM-1.1 3.4h2.2l-1.1 -1.7zM-2.3 -1.3v2.6l1.3 -1.3zM2.3 -1.3v2.6l-1.3 -1.3z" fill="#d9dcdc"/></g>
<g transform="translate(1128.7 1427.6)"><rect x="-3.9" y="-5.3" width="7.8" height="10.6" fill="#1f2425"/><path d="M-1.1 -3.4h2.2l-1.1 1.7zM-1.1 3.4h2.2l-1.1 -1.7zM-2.3 -1.3v2.6l1.3 -1.3zM2.3 -1.3v2.6l-1.3 -1.3z" fill="#d9dcdc"/></g>
<g transform="translate(951.9 1440.3)"><rect x="-3.9" y="-5.3" width="7.8" height="10.6" fill="#1f2425"/><path d="M-1.1 -3.4h2.2l-1.1 1.7zM-1.1 3.4h2.2l-1.1 -1.7zM-2.3 -1.3v2.6l1.3 -1.3zM2.3 -1.3v2.6l-1.3 -1.3z" fill="#d9dcdc"/></g>
<g transform="translate(1140.6 1466)"><rect x="-3.9" y="-5.3" width="7.8" height="10.6" fill="#1f2425"/><path d="M-1.1 -3.4h2.2l-1.1 1.7zM-1.1 3.4h2.2l-1.1 -1.7zM-2.3 -1.3v2.6l1.3 -1.3zM2.3 -1.3v2.6l-1.3 -1.3z" fill="#d9dcdc"/></g>
<g transform="translate(975.7 1494.4)"><rect x="-3.9" y="-5.3" width="7.8" height="10.6" fill="#1f2425"/><path d="M-1.1 -3.4h2.2l-1.1 1.7zM-1.1 3.4h2.2l-1.1 -1.7zM-2.3 -1.3v2.6l1.3 -1.3zM2.3 -1.3v2.6l-1.3 -1.3z" fill="#d9dcdc"/></g>
<g transform="translate(1093.1 1521.4)"><rect x="-3.9" y="-5.3" width="7.8" height="10.6" fill="#1f2425"/><path d="M-1.1 -3.4h2.2l-1.1 1.7zM-1.1 3.4h2.2l-1.1 -1.7zM-2.3 -1.3v2.6l1.3 -1.3zM2.3 -1.3v2.6l-1.3 -1.3z" fill="#d9dcdc"/></g>
<g transform="translate(1081.5 1538.4)"><rect x="-3.9" y="-5.3" width="7.8" height="10.6" fill="#1f2425"/><path d="M-1.1 -3.4h2.2l-1.1 1.7zM-1.1 3.4h2.2l-1.1 -1.7zM-2.3 -1.3v2.6l1.3 -1.3zM2.3 -1.3v2.6l-1.3 -1.3z" fill="#d9dcdc"/></g>
<g transform="translate(975.7 1540.2)"><rect x="-3.9" y="-5.3" width="7.8" height="10.6" fill="#1f2425"/><path d="M-1.1 -3.4h2.2l-1.1 1.7zM-1.1 3.4h2.2l-1.1 -1.7zM-2.3 -1.3v2.6l1.3 -1.3zM2.3 -1.3v2.6l-1.3 -1.3z" fill="#d9dcdc"/></g>
<g transform="translate(893.3 1553.2)"><rect x="-3.9" y="-5.3" width="7.8" height="10.6" fill="#1f2425"/><path d="M-1.1 -3.4h2.2l-1.1 1.7zM-1.1 3.4h2.2l-1.1 -1.7zM-2.3 -1.3v2.6l1.3 -1.3zM2.3 -1.3v2.6l-1.3 -1.3z" fill="#d9dcdc"/></g>
<g transform="translate(1093.1 1554.5)"><rect x="-3.9" y="-5.3" width="7.8" height="10.6" fill="#1f2425"/><path d="M-1.1 -3.4h2.2l-1.1 1.7zM-1.1 3.4h2.2l-1.1 -1.7zM-2.3 -1.3v2.6l1.3 -1.3zM2.3 -1.3v2.6l-1.3 -1.3z" fill="#d9dcdc"/></g>
<g transform="translate(1046.2 1556.7)"><rect x="-3.9" y="-5.3" width="7.8" height="10.6" fill="#1f2425"/><path d="M-1.1 -3.4h2.2l-1.1 1.7zM-1.1 3.4h2.2l-1.1 -1.7zM-2.3 -1.3v2.6l1.3 -1.3zM2.3 -1.3v2.6l-1.3 -1.3z" fill="#d9dcdc"/></g>
<g transform="translate(975.7 1560.1)"><rect x="-3.9" y="-5.3" width="7.8" height="10.6" fill="#1f2425"/><path d="M-1.1 -3.4h2.2l-1.1 1.7zM-1.1 3.4h2.2l-1.1 -1.7zM-2.3 -1.3v2.6l1.3 -1.3zM2.3 -1.3v2.6l-1.3 -1.3z" fill="#d9dcdc"/></g>
<text x="1215.53" y="940.5" font-size="38" fill="#000" textLength="38.31" lengthAdjust="spacingAndGlyphs">D.</text>
<text x="1551.15" y="940.5" font-size="38" fill="#000" textLength="31.33" lengthAdjust="spacingAndGlyphs">E.</text>
<line x1="1287.5" y1="947.2" x2="1287.5" y2="1613.2" stroke="#333333" stroke-width="1.2"/>
<line x1="1286.9" y1="1612.6" x2="1543.8" y2="1612.6" stroke="#333333" stroke-width="1.2"/>
<line x1="1284" y1="1094.1" x2="1287.5" y2="1094.1" stroke="#333333" stroke-width="1"/>
<text x="1258.98" y="1099.3" font-size="17.5" fill="#414141" textLength="24.56" lengthAdjust="spacingAndGlyphs" stroke="#414141" stroke-width="0.3">0.4</text>
<line x1="1284" y1="1242" x2="1287.5" y2="1242" stroke="#333333" stroke-width="1"/>
<text x="1258.97" y="1247.2" font-size="17.5" fill="#414141" textLength="24.84" lengthAdjust="spacingAndGlyphs" stroke="#414141" stroke-width="0.3">0.3</text>
<line x1="1284" y1="1389.2" x2="1287.5" y2="1389.2" stroke="#333333" stroke-width="1"/>
<text x="1258.97" y="1394.4" font-size="17.5" fill="#414141" textLength="24.94" lengthAdjust="spacingAndGlyphs" stroke="#414141" stroke-width="0.3">0.2</text>
<line x1="1284" y1="1537.7" x2="1287.5" y2="1537.7" stroke="#333333" stroke-width="1"/>
<text x="1258.97" y="1542.9" font-size="17.5" fill="#414141" textLength="24.94" lengthAdjust="spacingAndGlyphs" stroke="#414141" stroke-width="0.3">0.1</text>
<line x1="1358.2" y1="1612.6" x2="1358.2" y2="1616.6" stroke="#333333" stroke-width="1"/>
<line x1="1475.6" y1="1612.6" x2="1475.6" y2="1616.6" stroke="#333333" stroke-width="1"/>
<text x="1305.25" y="1634.8" font-size="17.5" fill="#414141" textLength="90.17" lengthAdjust="spacingAndGlyphs" stroke="#414141" stroke-width="0.3">HD(39-53)</text>
<text x="1443.80" y="1634.8" font-size="17.5" fill="#414141" textLength="90.26" lengthAdjust="spacingAndGlyphs" stroke="#414141" stroke-width="0.3">Adult AML</text>
<text transform="translate(1254.9 1402.4) rotate(-90)" x="-0.00" y="0" font-size="23" fill="#000" textLength="254.92" lengthAdjust="spacingAndGlyphs" stroke="#000" stroke-width="0.3">Adult inflammation score</text>
<line x1="1360.3" y1="1329.5" x2="1360.3" y2="1510.3" stroke="#222" stroke-width="1.5"/>
<rect x="1316.1" y="1389.7" width="88.8" height="80.8" fill="#AAF764" stroke="#1c3320" stroke-width="1.6"/>
<line x1="1477.8" y1="1141.2" x2="1477.8" y2="1479.3" stroke="#222" stroke-width="1.5"/>
<rect x="1433.2" y="1286.3" width="89.6" height="175.7" fill="#36DC08" stroke="#1c3320" stroke-width="1.6"/>
<line x1="1433.2" y1="1373.4" x2="1522.8" y2="1373.4" stroke="#1c3320" stroke-width="1.5"/>
<line x1="1287.5" y1="1372.4" x2="1299.4" y2="1372.4" stroke="#111" stroke-width="3.8"/>
<line x1="1327.2" y1="1372.4" x2="1355" y2="1372.4" stroke="#111" stroke-width="3.8"/>
<line x1="1384.7" y1="1372.4" x2="1412.6" y2="1372.4" stroke="#111" stroke-width="3.8"/>
<line x1="1441.2" y1="1372.4" x2="1469" y2="1372.4" stroke="#111" stroke-width="3.8"/>
<line x1="1498.2" y1="1372.4" x2="1526" y2="1372.4" stroke="#111" stroke-width="3.8"/>
<line x1="1555.2" y1="1372.4" x2="1568.4" y2="1372.4" stroke="#111" stroke-width="3.8"/>
<circle cx="1382.9" cy="1333.5" r="2.3" fill="#000"/>
<circle cx="1342.3" cy="1393.4" r="2.3" fill="#000"/>
<circle cx="1354.3" cy="1397.9" r="2.3" fill="#000"/>
<circle cx="1349.7" cy="1472.4" r="2.3" fill="#000"/>
<circle cx="1347.6" cy="1496.8" r="2.3" fill="#000"/>
<circle cx="1491" cy="1273.1" r="2.3" fill="#000"/>
<circle cx="1470.3" cy="1305.1" r="2.3" fill="#000"/>
<circle cx="1488.9" cy="1313.1" r="2.3" fill="#000"/>
<circle cx="1456" cy="1359.5" r="2.3" fill="#000"/>
<circle cx="1498.4" cy="1356" r="2.3" fill="#000"/>
<circle cx="1482.3" cy="1379.3" r="2.3" fill="#000"/>
<circle cx="1477" cy="1382.3" r="2.3" fill="#000"/>
<circle cx="1462.7" cy="1397.6" r="2.3" fill="#000"/>
<circle cx="1461.9" cy="1418" r="2.3" fill="#000"/>
<circle cx="1467.4" cy="1433.4" r="2.3" fill="#000"/>
<circle cx="1479.4" cy="1451.7" r="2.3" fill="#000"/>
<circle cx="1476.4" cy="1464.2" r="2.3" fill="#000"/>
<circle cx="1490.2" cy="1464.2" r="2.3" fill="#000"/>
<circle cx="1466.9" cy="1474.5" r="2.3" fill="#000"/>
<circle cx="1482.8" cy="1474.2" r="2.3" fill="#000"/>
<circle cx="1494.5" cy="1480.6" r="2.3" fill="#000"/>
<circle cx="1473.5" cy="1009.2" r="2.3" fill="#000"/>
<circle cx="1488.1" cy="1127.9" r="2.3" fill="#000"/>
<circle cx="1473" cy="1170.9" r="2.3" fill="#000"/>
<circle cx="1460.8" cy="1218.3" r="2.3" fill="#000"/>
<line x1="1637.6" y1="942.4" x2="1637.6" y2="1611.6" stroke="#333333" stroke-width="1.2"/>
<line x1="1637" y1="1611" x2="1875.6" y2="1611" stroke="#333333" stroke-width="1.2"/>
<line x1="1634.2" y1="1112.7" x2="1637.6" y2="1112.7" stroke="#333333" stroke-width="1"/>
<text x="1610.51" y="1117.9" font-size="17.5" fill="#414141" textLength="23.62" lengthAdjust="spacingAndGlyphs" stroke="#414141" stroke-width="0.3">0.4</text>
<line x1="1634.2" y1="1264.2" x2="1637.6" y2="1264.2" stroke="#333333" stroke-width="1"/>
<text x="1610.50" y="1269.4" font-size="17.5" fill="#414141" textLength="23.89" lengthAdjust="spacingAndGlyphs" stroke="#414141" stroke-width="0.3">0.3</text>
<line x1="1634.2" y1="1415" x2="1637.6" y2="1415" stroke="#333333" stroke-width="1"/>
<text x="1610.50" y="1420.2" font-size="17.5" fill="#414141" textLength="23.98" lengthAdjust="spacingAndGlyphs" stroke="#414141" stroke-width="0.3">0.2</text>
<line x1="1634.2" y1="1535.6" x2="1637.6" y2="1535.6" stroke="#333333" stroke-width="1"/>
<text x="1610.50" y="1540.8" font-size="17.5" fill="#414141" textLength="23.98" lengthAdjust="spacingAndGlyphs" stroke="#414141" stroke-width="0.3">0.1</text>
<line x1="1705.2" y1="1611" x2="1705.2" y2="1615" stroke="#333333" stroke-width="1"/>
<line x1="1818.6" y1="1611" x2="1818.6" y2="1615" stroke="#333333" stroke-width="1"/>
<text x="1652.78" y="1634.8" font-size="17.5" fill="#414141" textLength="93.98" lengthAdjust="spacingAndGlyphs" stroke="#414141" stroke-width="0.3">HD (19-26)</text>
<text x="1777.34" y="1634.8" font-size="17.5" fill="#414141" textLength="120.54" lengthAdjust="spacingAndGlyphs" stroke="#414141" stroke-width="0.3">Pediatric AML</text>
<text transform="translate(1596.8 1422.3) rotate(-90)" x="-1.94" y="0" font-size="23" fill="#000" textLength="304.94" lengthAdjust="spacingAndGlyphs" stroke="#000" stroke-width="0.3">Pediatric inflammation score</text>
<line x1="1705.2" y1="1330.8" x2="1705.2" y2="1547.6" stroke="#444" stroke-width="1.1"/>
<rect x="1662.5" y="1340.9" width="85.1" height="170.4" fill="#A9E9F0" stroke="#4d6c72" stroke-width="1.1"/>
<line x1="1662.5" y1="1403.5" x2="1747.6" y2="1403.5" stroke="#4d6c72" stroke-width="1.1"/>
<line x1="1817.8" y1="976.3" x2="1817.8" y2="1578.6" stroke="#444" stroke-width="1.1"/>
<rect x="1775.4" y="1178.8" width="85.1" height="237.6" fill="#2E86EA" stroke="#2a5fa8" stroke-width="1.1"/>
<line x1="1775.4" y1="1320.2" x2="1860.5" y2="1320.2" stroke="#27508c" stroke-width="1.1"/>
<line x1="1639.2" y1="1233.2" x2="1653.5" y2="1233.2" stroke="#111" stroke-width="3.8"/>
<line x1="1679.5" y1="1233.2" x2="1706.8" y2="1233.2" stroke="#111" stroke-width="3.8"/>
<line x1="1733.3" y1="1233.2" x2="1760.6" y2="1233.2" stroke="#111" stroke-width="3.8"/>
<line x1="1787.3" y1="1233.2" x2="1814.1" y2="1233.2" stroke="#111" stroke-width="3.8"/>
<line x1="1840.6" y1="1233.2" x2="1867.6" y2="1233.2" stroke="#111" stroke-width="3.8"/>
<line x1="1894.1" y1="1233.2" x2="1908.7" y2="1233.2" stroke="#111" stroke-width="3.8"/>
<circle cx="1837.4" cy="973.2" r="2.3" fill="#000"/>
<circle cx="1819.9" cy="1016.9" r="2.3" fill="#000"/>
<circle cx="1837.7" cy="1116" r="2.3" fill="#000"/>
<circle cx="1837.7" cy="1161.1" r="2.3" fill="#000"/>
<circle cx="1839" cy="1168" r="2.3" fill="#000"/>
<circle cx="1819.7" cy="1169.5" r="2.3" fill="#000"/>
<circle cx="1821.8" cy="1224.7" r="2.3" fill="#000"/>
<circle cx="1710.5" cy="1332.2" r="2.3" fill="#000"/>
<circle cx="1691.7" cy="1344.4" r="2.3" fill="#000"/>
<circle cx="1699.1" cy="1409" r="2.3" fill="#000"/>
<circle cx="1690.3" cy="1497" r="2.3" fill="#000"/>
<circle cx="1688.7" cy="1560.1" r="2.3" fill="#000"/>
<circle cx="1811.7" cy="1268.6" r="2.3" fill="#000"/>
<circle cx="1834" cy="1293.5" r="2.3" fill="#000"/>
<circle cx="1816.2" cy="1307" r="2.3" fill="#000"/>
<circle cx="1800.3" cy="1309.4" r="2.3" fill="#000"/>
<circle cx="1796.9" cy="1326.3" r="2.3" fill="#000"/>
<circle cx="1832.4" cy="1335.9" r="2.3" fill="#000"/>
<circle cx="1799.3" cy="1369.5" r="2.3" fill="#000"/>
<circle cx="1797.9" cy="1383.8" r="2.3" fill="#000"/>
<circle cx="1807.5" cy="1394.4" r="2.3" fill="#000"/>
<circle cx="1826.8" cy="1407.7" r="2.3" fill="#000"/>
<circle cx="1822.1" cy="1422.8" r="2.3" fill="#000"/>
<circle cx="1808.3" cy="1480.3" r="2.3" fill="#000"/>
<circle cx="1803.8" cy="1492" r="2.3" fill="#000"/>
<circle cx="1817.5" cy="1507.6" r="2.3" fill="#000"/>
<circle cx="1832.7" cy="1582.6" r="2.3" fill="#000"/>
<text x="-1.39" y="1741.2" font-size="38" fill="#000" textLength="28.05" lengthAdjust="spacingAndGlyphs">F.</text>
<path d="M154.3 1808V1785.8H178.9V1808M129.8 1808V1781.3H166.6V1785.8M203.4 1808V1776.4H228V1808M148.2 1781.3V1768.9H215.7V1776.4M277 1808V1775.2H301.6V1808M252.5 1808V1768.3H289.3V1775.2M181.9 1768.9V1762.9H270.9V1768.3M375.2 1808V1794.8H399.8V1808M350.7 1808V1776.7H387.5V1794.8M473.4 1808V1785.8H497.9V1808M448.9 1808V1778H485.7V1785.8M424.3 1808V1771.3H467.3V1778M369.1 1776.7V1770.1H445.8V1771.3M326.1 1808V1760.8H407.4V1770.1M226.4 1762.9V1758.1H366.8V1760.8M547 1808V1772.8H571.6V1808M620.7 1808V1779.8H645.2V1808M596.1 1808V1767.7H632.9V1779.8M559.3 1772.8V1758.4H614.5V1767.7M522.5 1808V1744.8H586.9V1758.4M296.6 1758.1V1737.6H554.7V1744.8" fill="none" stroke="#1c1c1c" stroke-width="1.25"/>
<path d="M117.5 1857.6H102.8V1861.7H117.5M117.5 1865.8H100.8V1869.9H117.5M102.8 1859.6H96.3V1867.9H100.8M117.5 1874.1H99.7V1878.2H117.5M96.3 1863.8H92.5V1876.1H99.7M117.5 1882.3H99.1V1886.4H117.5M99.1 1884.4H97.1V1890.6H117.5M117.5 1894.7H99.1V1898.8H117.5M97.1 1887.5H95.1V1896.8H99.1M92.5 1869.9H87.8V1892.1H95.1M117.5 1907.1H102.8V1911.2H117.5M117.5 1915.3H98.5V1919.4H117.5M102.8 1909.1H96.5V1917.4H98.5M96.5 1913.2H94.5V1923.6H117.5M117.5 1935.9H100.2V1940.1H117.5M117.5 1931.8H98.1V1938H100.2M117.5 1927.7H95.2V1934.9H98.1M95.2 1931.3H90.1V1944.2H117.5M94.5 1918.4H86.5V1937.7H90.1M117.5 1902.9H84.5V1928.1H86.5M87.8 1881H74.5V1915.5H84.5M117.5 1948.3H99.8V1952.4H117.5M117.5 1956.6H101.5V1960.7H117.5M117.5 1964.8H98.8V1968.9H117.5M101.5 1958.6H92.2V1966.9H98.8M92.2 1962.8H90.2V1973.1H117.5M99.8 1950.4H88.2V1967.9H90.2M117.5 1977.2H98.6V1981.3H117.5M117.5 1985.4H100.2V1989.6H117.5M98.6 1979.2H96.6V1987.5H100.2M117.5 1993.7H100.4V1997.8H117.5M117.5 2006.1H99.4V2010.2H117.5M117.5 2001.9H95.3V2008.1H99.4M100.4 1995.8H93.3V2005H95.3M96.6 1983.4H86V2000.4H93.3M117.5 2018.4H102.4V2022.6H117.5M117.5 2014.3H96.7V2020.5H102.4M117.5 2026.7H99V2030.8H117.5M96.7 2017.4H91.5V2028.8H99M91.5 2023.1H89.5V2034.9H117.5M86 1991.9H80.1V2029H89.5M117.5 2051.4H101V2055.6H117.5M117.5 2047.3H98.7V2053.5H101M117.5 2043.2H94.2V2050.4H98.7M117.5 2039.1H91.1V2046.8H94.2M117.5 2059.7H101.4V2063.8H117.5M117.5 2072.1H99V2076.2H117.5M117.5 2067.9H97V2074.1H99M101.4 2061.8H91.7V2071H97M117.5 2084.4H101.8V2088.6H117.5M117.5 2080.3H99.3V2086.5H101.8M99.3 2083.4H97.3V2092.7H117.5M91.7 2066.4H86.4V2088H97.3M117.5 2096.8H102.3V2100.9H117.5M86.4 2077.2H84.4V2098.9H102.3M91.1 2042.9H80.2V2088H84.4M117.5 2105.1H102V2109.2H117.5M117.5 2113.3H101.1V2117.4H117.5M117.5 2125.7H100.4V2129.8H117.5M117.5 2121.6H96.7V2127.8H100.4M117.5 2133.9H100.8V2138.1H117.5M96.7 2124.7H92V2136H100.8M92 2130.3H90V2142.2H117.5M101.1 2115.4H86.9V2136.3H90M102 2107.1H83.8V2125.8H86.9M117.5 2150.4H100.6V2154.6H117.5M117.5 2146.3H98.6V2152.5H100.6M117.5 2158.7H100.4V2162.8H117.5M98.6 2149.4H91.3V2160.8H100.4M117.5 2166.9H98.8V2171.1H117.5M91.3 2155.1H89.3V2169H98.8M83.8 2116.5H77.4V2162H89.3M80.2 2065.5H74.5V2139.3H77.4M80.1 2010.4H72.5V2102.4H74.5M117.5 2175.2H100.9V2179.3H117.5M117.5 2183.4H100.5V2187.6H117.5M100.5 2185.5H95.7V2191.7H117.5M100.9 2177.2H92.6V2188.6H95.7M117.5 2204.1H99.1V2208.2H117.5M117.5 2199.9H95V2206.1H99.1M117.5 2195.8H93V2203H95M92.6 2182.9H86.8V2199.4H93M72.5 2056.4H70.5V2191.2H86.8M88.2 1959.1H65.8V2123.8H70.5M74.5 1898.3H62.7V2041.5H65.8M117.5 2212.3H99.7V2216.4H117.5M117.5 2220.6H102.7V2224.7H117.5M99.7 2214.4H94.2V2222.6H102.7M117.5 2228.8H100.5V2232.9H117.5M94.2 2218.5H88.8V2230.9H100.5M117.5 2237.1H101.8V2241.2H117.5M101.8 2239.1H94.9V2245.3H117.5M117.5 2249.4H102.2V2253.6H117.5M94.9 2242.2H92.9V2251.5H102.2M117.5 2257.7H101.7V2261.8H117.5M92.9 2246.9H90.9V2259.8H101.7M88.8 2224.7H80.8V2253.3H90.9M117.5 2274.2H100.6V2278.3H117.5M117.5 2270.1H96.5V2276.2H100.6M117.5 2265.9H94.5V2273.2H96.5M117.5 2282.4H100.7V2286.6H117.5M94.5 2269.5H92.5V2284.5H100.7M80.8 2239H77.2V2277H92.5M117.5 2294.8H102.2V2298.9H117.5M117.5 2290.7H96.5V2296.9H102.2M117.5 2307.2H101.9V2311.3H117.5M101.9 2309.2H98.1V2315.4H117.5M117.5 2303.1H94.2V2312.3H98.1M96.5 2293.8H92.2V2307.7H94.2M117.5 2319.6H100.2V2323.7H117.5M117.5 2331.9H101.4V2336.1H117.5M117.5 2327.8H99.4V2334H101.4M100.2 2321.6H90.8V2330.9H99.4M92.2 2300.7H81.3V2326.3H90.8M77.2 2258H69.9V2313.5H81.3M117.5 2344.3H99.3V2348.4H117.5M117.5 2340.2H97.3V2346.4H99.3M117.5 2352.6H102.7V2356.7H117.5M97.3 2343.3H93.9V2354.6H102.7M117.5 2360.8H101.1V2364.9H117.5M117.5 2369.1H100V2373.2H117.5M101.1 2362.9H93.8V2371.1H100M117.5 2377.3H98.6V2381.4H117.5M93.8 2367H91.8V2379.4H98.6M93.9 2349H84.4V2373.2H91.8M117.5 2385.6H100.4V2389.7H117.5M100.4 2387.6H96.6V2393.8H117.5M117.5 2397.9H100.5V2402.1H117.5M117.5 2406.2H101.2V2410.3H117.5M100.5 2400H96.2V2408.2H101.2M96.6 2390.7H88.7V2404.1H96.2M117.5 2414.4H99.4V2418.6H117.5M117.5 2426.8H101V2430.9H117.5M117.5 2422.7H96.5V2428.9H101M99.4 2416.5H94.5V2425.8H96.5M88.7 2397.4H86.1V2421.1H94.5M117.5 2435.1H100.9V2439.2H117.5M117.5 2443.3H98.6V2447.4H117.5M98.6 2445.4H95.8V2451.6H117.5M95.8 2448.5H93.8V2455.7H117.5M100.9 2437.1H91.8V2452.1H93.8M86.1 2409.3H79.1V2444.6H91.8M84.4 2361.1H75.6V2426.9H79.1M69.9 2285.8H67.9V2394H75.6M117.5 2463.9H101.6V2468.1H117.5M101.6 2466H96.5V2472.2H117.5M117.5 2459.8H94.5V2469.1H96.5M117.5 2476.3H100.6V2480.4H117.5M117.5 2484.6H101.6V2488.7H117.5M117.5 2492.8H102.7V2496.9H117.5M101.6 2486.6H97.6V2494.9H102.7M100.6 2478.4H93.2V2490.8H97.6M94.5 2464.5H88.1V2484.6H93.2M117.5 2501.1H100.7V2505.2H117.5M100.7 2503.1H98.7V2509.3H117.5M98.7 2506.2H95.9V2513.4H117.5M88.1 2474.5H80.8V2509.8H95.9M117.5 2517.6H102.1V2521.7H117.5M117.5 2525.8H100.4V2529.9H117.5M100.4 2527.9H96.2V2534.1H117.5M102.1 2519.6H90.3V2531H96.2M117.5 2538.2H99.2V2542.3H117.5M99.2 2540.2H97.2V2546.4H117.5M117.5 2550.6H101.2V2554.7H117.5M117.5 2558.8H101.2V2562.9H117.5M101.2 2552.6H97.2V2560.9H101.2M117.5 2567.1H100.9V2571.2H117.5M117.5 2575.3H101.2V2579.4H117.5M101.2 2577.4H98V2583.6H117.5M117.5 2587.7H99.3V2591.8H117.5M98 2580.5H91.5V2589.8H99.3M100.9 2569.1H89.5V2585.1H91.5M97.2 2556.8H86.3V2577.1H89.5M97.2 2543.3H84.3V2566.9H86.3M117.5 2600.1H98.6V2604.2H117.5M117.5 2595.9H96.6V2602.1H98.6M96.6 2599H93.2V2608.3H117.5M93.2 2603.7H91.2V2612.4H117.5M84.3 2555.1H79.3V2608.1H91.2M90.3 2525.3H74.2V2581.6H79.3M80.8 2492.2H72.2V2553.4H74.2M67.9 2339.9H65.9V2522.8H72.2M62.7 1969.9H52V2431.3H65.9" fill="none" stroke="#1c1c1c" stroke-width="1.5"/>
<rect x="117.5" y="1809" width="221.2" height="13" fill="#3C9BE4"/>
<rect x="338.4" y="1809" width="49.4" height="13" fill="#F8533A"/>
<rect x="387.5" y="1809" width="24.8" height="13" fill="#3C9BE4"/>
<rect x="412" y="1809" width="73.9" height="13" fill="#F8533A"/>
<rect x="485.7" y="1809" width="24.8" height="13" fill="#3C9BE4"/>
<rect x="510.2" y="1809" width="147.6" height="13" fill="#F8533A"/>
<rect x="117.5" y="1824.7" width="49.4" height="13" fill="#6EEC8C"/>
<rect x="166.6" y="1824.7" width="24.8" height="13" fill="#3C9BE4"/>
<rect x="191.1" y="1824.7" width="24.8" height="13" fill="#A6F58A"/>
<rect x="215.7" y="1824.7" width="24.8" height="13" fill="#3C9BE4"/>
<rect x="240.2" y="1824.7" width="24.8" height="13" fill="#6EEC8C"/>
<rect x="264.8" y="1824.7" width="73.9" height="13" fill="#3C9BE4"/>
<rect x="338.4" y="1824.7" width="73.9" height="13" fill="#A6F58A"/>
<rect x="412" y="1824.7" width="24.8" height="13" fill="#3C9BE4"/>
<rect x="436.6" y="1824.7" width="24.8" height="13" fill="#6EEC8C"/>
<rect x="485.7" y="1824.7" width="24.8" height="13" fill="#3C9BE4"/>
<rect x="510.2" y="1824.7" width="73.9" height="13" fill="#A6F58A"/>
<rect x="583.9" y="1824.7" width="24.8" height="13" fill="#6EEC8C"/>
<rect x="608.4" y="1824.7" width="49.4" height="13" fill="#3C9BE4"/>
<rect x="117.5" y="1840.6" width="73.9" height="13" fill="#3C9BE4"/>
<rect x="191.1" y="1840.6" width="73.9" height="13" fill="#8E0A4A"/>
<rect x="264.8" y="1840.6" width="24.8" height="13" fill="#F99B4B"/>
<rect x="289.3" y="1840.6" width="24.8" height="13" fill="#3C9BE4"/>
<rect x="313.9" y="1840.6" width="24.8" height="13" fill="#8E0A4A"/>
<rect x="338.4" y="1840.6" width="24.8" height="13" fill="#F99B4B"/>
<rect x="363" y="1840.6" width="49.4" height="13" fill="#8E0A4A"/>
<rect x="412" y="1840.6" width="24.8" height="13" fill="#F99B4B"/>
<rect x="436.6" y="1840.6" width="24.8" height="13" fill="#3C9BE4"/>
<rect x="461.1" y="1840.6" width="24.8" height="13" fill="#8E0A4A"/>
<rect x="485.7" y="1840.6" width="24.8" height="13" fill="#3C9BE4"/>
<rect x="510.2" y="1840.6" width="24.8" height="13" fill="#F99B4B"/>
<rect x="534.8" y="1840.6" width="49.4" height="13" fill="#3C9BE4"/>
<rect x="583.9" y="1840.6" width="49.4" height="13" fill="#F99B4B"/>
<rect x="632.9" y="1840.6" width="24.8" height="13" fill="#8E0A4A"/>
<text x="661.26" y="1820.1" font-size="18.5" fill="#000" textLength="62.90" lengthAdjust="spacingAndGlyphs" stroke="#000" stroke-width="0.3">Max CT</text>
<text x="662.70" y="1837" font-size="18.5" fill="#000" textLength="91.09" lengthAdjust="spacingAndGlyphs" stroke="#000" stroke-width="0.3">Age group</text>
<text x="661.31" y="1854.2" font-size="18.5" fill="#000" textLength="33.79" lengthAdjust="spacingAndGlyphs" stroke="#000" stroke-width="0.3">Risk</text>
<rect x="117.5" y="1855.5" width="540" height="759" fill="#E6F4F6"/>
<g transform="translate(117.5 1855.5) scale(24.5450 4.1250)" shape-rendering="crispEdges">
<path fill="#46A5E1" d="M4 99h1v1h-1zM19 181h1v1h-1z"/>
<path fill="#58B6E1" d="M3 97h1v3h-1zM4 26h1v1h-1zM19 136h1v1h-1z"/>
<path fill="#69C8E1" d="M3 75h1v1h-1zM4 56h1v1h-1zM4 59h1v1h-1zM4 98h1v1h-1zM8 95h1v1h-1zM8 116h1v1h-1zM19 137h1v1h-1zM19 182h1v2h-1z"/>
<path fill="#82D6E6" d="M3 74h1v1h-1zM3 153h1v1h-1zM4 57h1v1h-1zM4 152h1v1h-1zM6 17h1v1h-1zM8 5h1v1h-1zM8 59h1v1h-1zM8 91h1v1h-1zM8 94h1v1h-1zM8 118h1v1h-1zM19 63h1v1h-1zM19 139h1v1h-1z"/>
<path fill="#9BE4EC" d="M1 12h1v1h-1zM1 15h1v1h-1zM2 30h1v1h-1zM3 33h1v1h-1zM4 12h1v1h-1zM4 24h1v1h-1zM4 68h1v1h-1zM4 97h1v1h-1zM4 120h1v1h-1zM4 133h1v1h-1zM6 102h1v1h-1zM8 93h1v1h-1zM8 128h1v1h-1zM8 130h1v1h-1zM8 165h1v1h-1zM13 152h1v1h-1zM14 49h1v1h-1zM15 36h1v1h-1zM15 42h1v2h-1zM15 88h1v1h-1zM15 90h1v1h-1zM19 61h1v1h-1zM19 160h1v1h-1zM19 174h1v1h-1zM20 120h1v2h-1z"/>
<path fill="#B0E9EF" d="M0 104h1v1h-1zM1 2h1v1h-1zM1 4h1v1h-1zM1 16h1v1h-1zM1 19h1v1h-1zM1 29h1v2h-1zM1 69h1v1h-1zM1 83h1v1h-1zM1 146h1v1h-1zM2 1h1v1h-1zM2 32h1v1h-1zM3 14h1v2h-1zM3 17h1v1h-1zM3 19h1v1h-1zM3 35h1v1h-1zM3 70h1v3h-1zM3 100h1v1h-1zM4 9h1v1h-1zM4 11h1v1h-1zM4 18h1v2h-1zM4 25h1v1h-1zM4 33h1v1h-1zM4 35h1v1h-1zM4 96h1v1h-1zM4 101h1v2h-1zM4 116h1v1h-1zM4 155h1v1h-1zM4 157h1v1h-1zM5 71h1v1h-1zM6 25h1v3h-1zM6 29h1v2h-1zM6 101h1v1h-1zM7 110h1v1h-1zM8 7h1v1h-1zM8 19h1v1h-1zM8 26h1v1h-1zM8 36h1v1h-1zM8 56h1v1h-1zM8 89h1v1h-1zM8 98h1v1h-1zM8 117h1v1h-1zM8 119h1v1h-1zM8 121h1v1h-1zM8 173h1v1h-1zM8 180h1v1h-1zM8 182h1v1h-1zM10 81h1v1h-1zM10 83h1v1h-1zM10 112h1v1h-1zM11 123h1v1h-1zM13 175h1v1h-1zM14 56h1v1h-1zM15 1h1v2h-1zM15 41h1v1h-1zM15 97h1v3h-1zM19 42h1v1h-1zM19 60h1v1h-1zM19 141h1v1h-1zM19 154h1v1h-1zM19 167h1v1h-1zM19 176h1v3h-1zM20 156h1v1h-1zM21 141h1v1h-1zM21 152h1v2h-1zM21 158h1v2h-1z"/>
<path fill="#C4EEF2" d="M0 10h1v1h-1zM0 12h1v1h-1zM0 14h1v1h-1zM0 25h1v1h-1zM0 49h1v1h-1zM0 61h1v1h-1zM0 93h1v1h-1zM0 124h1v1h-1zM0 127h1v1h-1zM0 140h1v1h-1zM1 0h1v1h-1zM1 7h1v1h-1zM1 13h1v1h-1zM1 17h1v1h-1zM1 28h1v1h-1zM1 34h1v2h-1zM1 68h1v1h-1zM1 70h1v1h-1zM1 78h1v1h-1zM1 81h1v1h-1zM1 144h1v1h-1zM1 147h1v2h-1zM1 176h1v1h-1zM2 2h1v2h-1zM2 28h1v2h-1zM2 31h1v1h-1zM2 34h1v1h-1zM2 37h1v1h-1zM2 97h1v1h-1zM2 113h1v1h-1zM3 18h1v1h-1zM3 22h1v1h-1zM3 25h1v1h-1zM3 27h1v2h-1zM3 30h1v1h-1zM3 32h1v1h-1zM3 56h1v2h-1zM3 66h1v1h-1zM3 96h1v1h-1zM3 122h1v1h-1zM3 141h1v1h-1zM4 10h1v1h-1zM4 13h1v1h-1zM4 15h1v3h-1zM4 21h1v1h-1zM4 27h1v1h-1zM4 30h1v3h-1zM4 34h1v1h-1zM4 58h1v1h-1zM4 70h1v2h-1zM4 77h1v1h-1zM4 100h1v1h-1zM4 119h1v1h-1zM4 123h1v1h-1zM4 135h1v1h-1zM4 137h1v1h-1zM4 142h1v1h-1zM4 144h1v1h-1zM4 148h1v3h-1zM4 154h1v1h-1zM4 156h1v1h-1zM4 176h1v2h-1zM4 179h1v1h-1zM5 0h1v1h-1zM5 12h1v2h-1zM5 15h1v1h-1zM5 24h1v1h-1zM5 27h1v1h-1zM5 55h1v1h-1zM5 68h1v1h-1zM5 110h1v1h-1zM5 178h1v1h-1zM6 12h1v1h-1zM6 19h1v1h-1zM6 31h1v1h-1zM6 50h1v1h-1zM6 66h1v1h-1zM6 103h1v1h-1zM6 111h1v1h-1zM7 37h1v1h-1zM7 88h1v1h-1zM7 96h1v1h-1zM7 109h1v1h-1zM7 127h1v1h-1zM8 0h1v1h-1zM8 4h1v1h-1zM8 6h1v1h-1zM8 17h1v1h-1zM8 25h1v1h-1zM8 38h1v2h-1zM8 47h1v1h-1zM8 66h1v1h-1zM8 92h1v1h-1zM8 100h1v1h-1zM8 103h1v1h-1zM8 107h1v1h-1zM8 113h1v1h-1zM8 122h1v1h-1zM8 133h1v1h-1zM8 136h1v1h-1zM8 166h1v2h-1zM8 175h1v1h-1zM9 89h1v1h-1zM9 96h1v1h-1zM9 148h1v1h-1zM10 3h1v1h-1zM10 8h1v1h-1zM10 22h1v1h-1zM10 26h1v1h-1zM10 44h1v1h-1zM10 61h1v1h-1zM10 68h1v1h-1zM10 90h1v1h-1zM10 114h1v1h-1zM10 141h1v1h-1zM11 17h1v1h-1zM11 25h1v1h-1zM11 32h1v1h-1zM11 78h1v1h-1zM11 82h1v1h-1zM11 142h1v1h-1zM11 144h1v1h-1zM11 148h1v1h-1zM11 150h1v1h-1zM12 55h1v1h-1zM12 129h1v1h-1zM12 168h1v1h-1zM13 40h1v1h-1zM13 48h1v1h-1zM13 86h1v1h-1zM13 153h1v2h-1zM13 173h1v1h-1zM14 24h1v1h-1zM14 26h1v1h-1zM14 57h1v3h-1zM14 80h1v1h-1zM14 102h1v1h-1zM14 110h1v1h-1zM14 115h1v1h-1zM14 179h1v1h-1zM15 38h1v2h-1zM15 57h1v1h-1zM15 77h1v1h-1zM15 89h1v1h-1zM15 96h1v1h-1zM15 105h1v1h-1zM15 118h1v1h-1zM15 163h1v1h-1zM16 147h1v1h-1zM17 163h1v1h-1zM17 173h1v2h-1zM18 5h1v1h-1zM18 149h1v1h-1zM19 2h1v1h-1zM19 41h1v1h-1zM19 118h1v1h-1zM19 123h1v1h-1zM19 130h1v1h-1zM19 134h1v2h-1zM19 148h1v2h-1zM19 151h1v3h-1zM19 158h1v1h-1zM19 161h1v1h-1zM19 163h1v3h-1zM19 168h1v2h-1zM19 175h1v1h-1zM19 180h1v1h-1zM20 119h1v1h-1zM20 151h1v1h-1zM20 157h1v3h-1zM21 59h1v1h-1zM21 122h1v1h-1zM21 154h1v1h-1z"/>
<path fill="#D4F2F6" d="M0 5h1v2h-1zM0 16h1v1h-1zM0 18h1v1h-1zM0 21h1v2h-1zM0 27h1v1h-1zM0 32h1v1h-1zM0 36h1v1h-1zM0 39h1v1h-1zM0 43h1v1h-1zM0 47h1v2h-1zM0 56h1v1h-1zM0 78h1v1h-1zM0 85h1v2h-1zM0 95h1v1h-1zM0 106h1v1h-1zM0 109h1v1h-1zM0 112h1v1h-1zM0 114h1v1h-1zM0 125h1v1h-1zM0 129h1v1h-1zM0 136h1v1h-1zM0 139h1v1h-1zM0 154h1v2h-1zM0 159h1v1h-1zM0 164h1v1h-1zM0 166h1v1h-1zM0 170h1v2h-1zM0 174h1v1h-1zM0 179h1v2h-1zM0 183h1v1h-1zM1 1h1v1h-1zM1 5h1v1h-1zM1 9h1v1h-1zM1 20h1v1h-1zM1 24h1v1h-1zM1 31h1v2h-1zM1 38h1v1h-1zM1 42h1v5h-1zM1 48h1v1h-1zM1 59h1v1h-1zM1 61h1v2h-1zM1 64h1v1h-1zM1 74h1v1h-1zM1 76h1v1h-1zM1 82h1v1h-1zM1 86h1v1h-1zM1 98h1v2h-1zM1 101h1v1h-1zM1 103h1v2h-1zM1 107h1v1h-1zM1 110h1v1h-1zM1 117h1v1h-1zM1 125h1v2h-1zM1 145h1v1h-1zM1 150h1v1h-1zM1 154h1v1h-1zM1 164h1v1h-1zM1 166h1v2h-1zM1 169h1v1h-1zM1 177h1v1h-1zM1 181h1v2h-1zM2 0h1v1h-1zM2 6h1v3h-1zM2 12h1v1h-1zM2 15h1v1h-1zM2 17h1v2h-1zM2 24h1v1h-1zM2 26h1v1h-1zM2 33h1v1h-1zM2 35h1v2h-1zM2 39h1v1h-1zM2 44h1v1h-1zM2 49h1v1h-1zM2 51h1v1h-1zM2 56h1v5h-1zM2 62h1v1h-1zM2 68h1v2h-1zM2 76h1v1h-1zM2 79h1v1h-1zM2 82h1v2h-1zM2 96h1v1h-1zM2 99h1v1h-1zM2 102h1v1h-1zM2 109h1v1h-1zM2 114h1v2h-1zM2 123h1v2h-1zM2 126h1v1h-1zM2 143h1v1h-1zM2 166h1v3h-1zM3 4h1v1h-1zM3 8h1v1h-1zM3 10h1v1h-1zM3 12h1v2h-1zM3 20h1v1h-1zM3 23h1v2h-1zM3 31h1v1h-1zM3 34h1v1h-1zM3 37h1v1h-1zM3 40h1v1h-1zM3 44h1v1h-1zM3 46h1v1h-1zM3 48h1v1h-1zM3 52h1v1h-1zM3 58h1v1h-1zM3 63h1v1h-1zM3 68h1v2h-1zM3 73h1v1h-1zM3 76h1v1h-1zM3 78h1v1h-1zM3 86h1v1h-1zM3 101h1v3h-1zM3 108h1v1h-1zM3 113h1v1h-1zM3 115h1v1h-1zM3 117h1v1h-1zM3 119h1v1h-1zM3 124h1v2h-1zM3 142h1v2h-1zM3 148h1v1h-1zM3 150h1v3h-1zM3 155h1v1h-1zM3 163h1v1h-1zM4 14h1v1h-1zM4 22h1v1h-1zM4 28h1v2h-1zM4 37h1v3h-1zM4 66h1v2h-1zM4 85h1v1h-1zM4 104h1v6h-1zM4 114h1v1h-1zM4 121h1v2h-1zM4 125h1v3h-1zM4 132h1v1h-1zM4 134h1v1h-1zM4 138h1v1h-1zM4 140h1v1h-1zM4 143h1v1h-1zM4 147h1v1h-1zM4 151h1v1h-1zM4 153h1v1h-1zM4 158h1v3h-1zM4 178h1v1h-1zM5 14h1v1h-1zM5 17h1v2h-1zM5 21h1v1h-1zM5 26h1v1h-1zM5 28h1v2h-1zM5 31h1v1h-1zM5 33h1v1h-1zM5 45h1v2h-1zM5 52h1v1h-1zM5 81h1v2h-1zM5 101h1v1h-1zM5 111h1v1h-1zM5 115h1v2h-1zM5 119h1v2h-1zM5 123h1v1h-1zM5 177h1v1h-1zM5 181h1v1h-1zM6 2h1v1h-1zM6 10h1v1h-1zM6 13h1v2h-1zM6 20h1v1h-1zM6 24h1v1h-1zM6 28h1v1h-1zM6 33h1v1h-1zM6 35h1v1h-1zM6 42h1v1h-1zM6 44h1v2h-1zM6 48h1v2h-1zM6 53h1v1h-1zM6 60h1v1h-1zM6 69h1v1h-1zM6 75h1v1h-1zM6 78h1v1h-1zM6 84h1v1h-1zM6 93h1v2h-1zM6 100h1v1h-1zM6 105h1v2h-1zM6 108h1v1h-1zM6 128h1v2h-1zM6 163h1v1h-1zM6 171h1v1h-1zM7 13h1v4h-1zM7 18h1v1h-1zM7 28h1v1h-1zM7 32h1v1h-1zM7 36h1v1h-1zM7 40h1v1h-1zM7 43h1v3h-1zM7 47h1v1h-1zM7 49h1v1h-1zM7 63h1v2h-1zM7 70h1v1h-1zM7 79h1v1h-1zM7 86h1v1h-1zM7 89h1v2h-1zM7 92h1v1h-1zM7 100h1v1h-1zM7 102h1v1h-1zM7 104h1v1h-1zM7 107h1v2h-1zM7 111h1v1h-1zM7 124h1v1h-1zM7 128h1v1h-1zM8 1h1v1h-1zM8 3h1v1h-1zM8 16h1v1h-1zM8 18h1v1h-1zM8 21h1v4h-1zM8 34h1v1h-1zM8 37h1v1h-1zM8 40h1v1h-1zM8 44h1v3h-1zM8 57h1v1h-1zM8 60h1v1h-1zM8 63h1v1h-1zM8 76h1v1h-1zM8 79h1v2h-1zM8 85h1v1h-1zM8 87h1v2h-1zM8 96h1v2h-1zM8 101h1v2h-1zM8 105h1v2h-1zM8 109h1v1h-1zM8 112h1v1h-1zM8 114h1v1h-1zM8 124h1v1h-1zM8 126h1v1h-1zM8 129h1v1h-1zM8 131h1v2h-1zM8 134h1v2h-1zM8 143h1v1h-1zM8 164h1v1h-1zM8 169h1v1h-1zM8 172h1v1h-1zM8 181h1v1h-1zM8 183h1v1h-1zM9 40h1v1h-1zM9 50h1v2h-1zM9 68h1v1h-1zM9 76h1v1h-1zM9 79h1v1h-1zM9 86h1v1h-1zM9 90h1v3h-1zM9 97h1v1h-1zM9 101h1v1h-1zM9 106h1v1h-1zM9 108h1v2h-1zM9 112h1v3h-1zM9 124h1v1h-1zM9 127h1v2h-1zM9 149h1v1h-1zM10 13h1v2h-1zM10 16h1v4h-1zM10 21h1v1h-1zM10 24h1v2h-1zM10 27h1v1h-1zM10 34h1v1h-1zM10 36h1v1h-1zM10 39h1v2h-1zM10 42h1v1h-1zM10 46h1v1h-1zM10 60h1v1h-1zM10 76h1v1h-1zM10 82h1v1h-1zM10 86h1v1h-1zM10 108h1v3h-1zM10 115h1v2h-1zM10 118h1v2h-1zM10 125h1v1h-1zM10 127h1v1h-1zM10 134h1v1h-1zM10 137h1v1h-1zM10 139h1v2h-1zM10 142h1v1h-1zM10 144h1v1h-1zM10 149h1v3h-1zM10 157h1v1h-1zM10 159h1v1h-1zM10 176h1v1h-1zM11 15h1v1h-1zM11 19h1v1h-1zM11 24h1v1h-1zM11 29h1v1h-1zM11 36h1v3h-1zM11 41h1v2h-1zM11 46h1v1h-1zM11 55h1v1h-1zM11 58h1v1h-1zM11 62h1v1h-1zM11 69h1v1h-1zM11 76h1v1h-1zM11 79h1v1h-1zM11 84h1v5h-1zM11 93h1v1h-1zM11 104h1v1h-1zM11 108h1v1h-1zM11 110h1v1h-1zM11 114h1v3h-1zM11 118h1v1h-1zM11 120h1v1h-1zM11 124h1v1h-1zM11 127h1v1h-1zM11 132h1v1h-1zM11 137h1v3h-1zM11 147h1v1h-1zM11 149h1v1h-1zM11 158h1v2h-1zM11 177h1v2h-1zM11 180h1v1h-1zM12 46h1v1h-1zM12 48h1v1h-1zM12 51h1v2h-1zM12 54h1v1h-1zM12 73h1v3h-1zM12 85h1v1h-1zM12 87h1v1h-1zM12 89h1v1h-1zM12 91h1v1h-1zM12 103h1v3h-1zM12 107h1v1h-1zM12 109h1v1h-1zM12 112h1v2h-1zM12 141h1v1h-1zM12 149h1v1h-1zM12 151h1v1h-1zM12 153h1v1h-1zM12 160h1v1h-1zM12 166h1v2h-1zM13 36h1v3h-1zM13 42h1v1h-1zM13 51h1v1h-1zM13 71h1v1h-1zM13 80h1v2h-1zM13 83h1v1h-1zM13 87h1v4h-1zM13 97h1v1h-1zM13 101h1v1h-1zM13 112h1v2h-1zM13 115h1v1h-1zM13 119h1v1h-1zM13 124h1v4h-1zM13 130h1v1h-1zM13 137h1v1h-1zM13 144h1v1h-1zM13 147h1v2h-1zM13 157h1v1h-1zM13 161h1v1h-1zM13 163h1v4h-1zM13 168h1v5h-1zM13 176h1v1h-1zM13 178h1v1h-1zM13 183h1v1h-1zM14 3h1v1h-1zM14 6h1v1h-1zM14 14h1v3h-1zM14 18h1v2h-1zM14 25h1v1h-1zM14 27h1v1h-1zM14 36h1v2h-1zM14 39h1v1h-1zM14 41h1v4h-1zM14 48h1v1h-1zM14 50h1v3h-1zM14 54h1v1h-1zM14 61h1v1h-1zM14 66h1v2h-1zM14 76h1v2h-1zM14 79h1v1h-1zM14 89h1v1h-1zM14 94h1v1h-1zM14 99h1v3h-1zM14 104h1v2h-1zM14 116h1v1h-1zM14 119h1v4h-1zM14 124h1v2h-1zM14 127h1v1h-1zM14 129h1v1h-1zM14 131h1v1h-1zM14 140h1v7h-1zM14 152h1v1h-1zM14 155h1v1h-1zM14 168h1v1h-1zM14 173h1v1h-1zM14 176h1v1h-1zM14 180h1v2h-1zM15 3h1v1h-1zM15 14h1v1h-1zM15 16h1v1h-1zM15 18h1v3h-1zM15 28h1v1h-1zM15 32h1v1h-1zM15 37h1v1h-1zM15 44h1v1h-1zM15 50h1v1h-1zM15 54h1v2h-1zM15 59h1v1h-1zM15 66h1v2h-1zM15 69h1v1h-1zM15 73h1v1h-1zM15 75h1v2h-1zM15 81h1v1h-1zM15 83h1v1h-1zM15 91h1v1h-1zM15 102h1v2h-1zM15 106h1v1h-1zM15 109h1v1h-1zM15 117h1v1h-1zM15 121h1v1h-1zM15 123h1v1h-1zM15 125h1v2h-1zM15 129h1v1h-1zM15 131h1v1h-1zM15 137h1v1h-1zM15 145h1v1h-1zM15 147h1v1h-1zM15 152h1v2h-1zM15 155h1v3h-1zM15 162h1v1h-1zM15 164h1v1h-1zM15 172h1v3h-1zM15 178h1v1h-1zM15 182h1v2h-1zM16 9h1v1h-1zM16 121h1v1h-1zM16 145h1v2h-1zM16 152h1v2h-1zM16 160h1v1h-1zM16 162h1v1h-1zM17 48h1v1h-1zM17 50h1v1h-1zM17 54h1v1h-1zM17 56h1v1h-1zM17 58h1v4h-1zM17 63h1v2h-1zM17 104h1v2h-1zM17 137h1v1h-1zM17 148h1v2h-1zM17 160h1v3h-1zM17 165h1v3h-1zM17 169h1v2h-1zM17 175h1v1h-1zM18 3h1v2h-1zM18 13h1v1h-1zM18 56h1v1h-1zM18 66h1v1h-1zM18 72h1v1h-1zM18 74h1v4h-1zM18 81h1v1h-1zM18 133h1v1h-1zM18 150h1v1h-1zM18 156h1v1h-1zM18 162h1v1h-1zM18 164h1v1h-1zM18 171h1v1h-1zM18 173h1v1h-1zM18 182h1v1h-1zM19 0h1v1h-1zM19 3h1v1h-1zM19 40h1v1h-1zM19 43h1v1h-1zM19 50h1v1h-1zM19 57h1v1h-1zM19 64h1v3h-1zM19 72h1v2h-1zM19 116h1v1h-1zM19 122h1v1h-1zM19 125h1v1h-1zM19 127h1v1h-1zM19 129h1v1h-1zM19 131h1v1h-1zM19 140h1v1h-1zM19 143h1v1h-1zM19 147h1v1h-1zM19 155h1v1h-1zM19 157h1v1h-1zM19 162h1v1h-1zM19 170h1v4h-1zM20 60h1v2h-1zM20 63h1v1h-1zM20 117h1v1h-1zM20 123h1v1h-1zM20 138h1v1h-1zM20 140h1v2h-1zM20 143h1v1h-1zM20 148h1v1h-1zM20 153h1v1h-1zM20 160h1v2h-1zM20 163h1v1h-1zM20 172h1v1h-1zM20 179h1v1h-1zM21 52h1v1h-1zM21 56h1v2h-1zM21 62h1v1h-1zM21 119h1v1h-1zM21 137h1v1h-1zM21 144h1v2h-1zM21 147h1v1h-1zM21 150h1v1h-1zM21 156h1v2h-1zM21 160h1v2h-1zM21 166h1v4h-1zM21 173h1v1h-1zM21 175h1v2h-1z"/>
<path fill="#E4F7F9" d="M0 0h1v2h-1zM0 3h1v1h-1zM0 7h1v3h-1zM0 11h1v1h-1zM0 13h1v1h-1zM0 15h1v1h-1zM0 17h1v1h-1zM0 19h1v1h-1zM0 24h1v1h-1zM0 26h1v1h-1zM0 33h1v1h-1zM0 35h1v1h-1zM0 37h1v1h-1zM0 40h1v3h-1zM0 45h1v2h-1zM0 50h1v2h-1zM0 57h1v4h-1zM0 62h1v2h-1zM0 73h1v1h-1zM0 76h1v2h-1zM0 80h1v1h-1zM0 82h1v3h-1zM0 87h1v1h-1zM0 89h1v2h-1zM0 92h1v1h-1zM0 96h1v1h-1zM0 105h1v1h-1zM0 107h1v2h-1zM0 113h1v1h-1zM0 115h1v1h-1zM0 118h1v1h-1zM0 120h1v1h-1zM0 122h1v2h-1zM0 126h1v1h-1zM0 128h1v1h-1zM0 130h1v3h-1zM0 134h1v1h-1zM0 141h1v1h-1zM0 143h1v1h-1zM0 148h1v1h-1zM0 152h1v2h-1zM0 157h1v1h-1zM0 160h1v1h-1zM0 165h1v1h-1zM0 167h1v1h-1zM0 169h1v1h-1zM0 172h1v1h-1zM0 175h1v4h-1zM0 181h1v1h-1zM1 3h1v1h-1zM1 6h1v1h-1zM1 8h1v1h-1zM1 10h1v1h-1zM1 14h1v1h-1zM1 18h1v1h-1zM1 21h1v3h-1zM1 25h1v3h-1zM1 33h1v1h-1zM1 37h1v1h-1zM1 39h1v3h-1zM1 47h1v1h-1zM1 50h1v1h-1zM1 53h1v1h-1zM1 55h1v1h-1zM1 58h1v1h-1zM1 60h1v1h-1zM1 63h1v1h-1zM1 65h1v1h-1zM1 71h1v1h-1zM1 75h1v1h-1zM1 79h1v2h-1zM1 87h1v1h-1zM1 93h1v1h-1zM1 96h1v2h-1zM1 100h1v1h-1zM1 102h1v1h-1zM1 105h1v2h-1zM1 109h1v1h-1zM1 111h1v2h-1zM1 114h1v1h-1zM1 120h1v2h-1zM1 123h1v1h-1zM1 127h1v1h-1zM1 129h1v1h-1zM1 141h1v1h-1zM1 149h1v1h-1zM1 151h1v3h-1zM1 156h1v1h-1zM1 160h1v4h-1zM1 165h1v1h-1zM1 172h1v2h-1zM1 178h1v3h-1zM2 9h1v1h-1zM2 11h1v1h-1zM2 13h1v1h-1zM2 16h1v1h-1zM2 20h1v4h-1zM2 27h1v1h-1zM2 38h1v1h-1zM2 40h1v1h-1zM2 43h1v1h-1zM2 45h1v3h-1zM2 54h1v2h-1zM2 61h1v1h-1zM2 63h1v1h-1zM2 70h1v2h-1zM2 77h1v1h-1zM2 81h1v1h-1zM2 98h1v1h-1zM2 100h1v2h-1zM2 103h1v1h-1zM2 108h1v1h-1zM2 110h1v3h-1zM2 121h1v2h-1zM2 125h1v1h-1zM2 128h1v1h-1zM2 130h1v3h-1zM2 140h1v1h-1zM2 142h1v1h-1zM2 144h1v2h-1zM2 148h1v2h-1zM2 164h1v1h-1zM2 169h1v1h-1zM2 172h1v7h-1zM3 7h1v1h-1zM3 16h1v1h-1zM3 21h1v1h-1zM3 26h1v1h-1zM3 29h1v1h-1zM3 36h1v1h-1zM3 38h1v2h-1zM3 42h1v2h-1zM3 45h1v1h-1zM3 47h1v1h-1zM3 51h1v1h-1zM3 53h1v2h-1zM3 59h1v1h-1zM3 61h1v2h-1zM3 64h1v2h-1zM3 67h1v1h-1zM3 77h1v1h-1zM3 79h1v2h-1zM3 84h1v2h-1zM3 87h1v5h-1zM3 106h1v1h-1zM3 109h1v4h-1zM3 116h1v1h-1zM3 121h1v1h-1zM3 123h1v1h-1zM3 132h1v3h-1zM3 140h1v1h-1zM3 149h1v1h-1zM3 154h1v1h-1zM3 156h1v1h-1zM3 158h1v3h-1zM3 162h1v1h-1zM4 0h1v2h-1zM4 5h1v2h-1zM4 8h1v1h-1zM4 20h1v1h-1zM4 23h1v1h-1zM4 36h1v1h-1zM4 44h1v2h-1zM4 47h1v1h-1zM4 51h1v2h-1zM4 54h1v2h-1zM4 60h1v6h-1zM4 76h1v1h-1zM4 79h1v2h-1zM4 82h1v3h-1zM4 86h1v2h-1zM4 93h1v3h-1zM4 110h1v2h-1zM4 115h1v1h-1zM4 118h1v1h-1zM4 136h1v1h-1zM4 139h1v1h-1zM4 141h1v1h-1zM4 145h1v1h-1zM4 162h1v1h-1zM4 181h1v1h-1zM4 183h1v1h-1zM5 1h1v2h-1zM5 16h1v1h-1zM5 20h1v1h-1zM5 22h1v1h-1zM5 30h1v1h-1zM5 32h1v1h-1zM5 34h1v3h-1zM5 44h1v1h-1zM5 53h1v1h-1zM5 65h1v1h-1zM5 69h1v2h-1zM5 77h1v1h-1zM5 80h1v1h-1zM5 85h1v3h-1zM5 100h1v1h-1zM5 103h1v7h-1zM5 113h1v2h-1zM5 118h1v1h-1zM5 121h1v2h-1zM5 161h1v3h-1zM5 167h1v1h-1zM5 172h1v1h-1zM5 174h1v1h-1zM5 179h1v2h-1zM5 182h1v1h-1zM6 0h1v1h-1zM6 3h1v1h-1zM6 11h1v1h-1zM6 15h1v1h-1zM6 18h1v1h-1zM6 21h1v2h-1zM6 32h1v1h-1zM6 34h1v1h-1zM6 41h1v1h-1zM6 43h1v1h-1zM6 46h1v1h-1zM6 55h1v1h-1zM6 61h1v5h-1zM6 67h1v2h-1zM6 70h1v5h-1zM6 76h1v1h-1zM6 79h1v1h-1zM6 85h1v1h-1zM6 88h1v1h-1zM6 91h1v2h-1zM6 96h1v4h-1zM6 104h1v1h-1zM6 109h1v2h-1zM6 131h1v1h-1zM6 144h1v1h-1zM6 162h1v1h-1zM6 168h1v3h-1zM6 173h1v1h-1zM7 4h1v1h-1zM7 12h1v1h-1zM7 17h1v1h-1zM7 19h1v1h-1zM7 21h1v1h-1zM7 23h1v1h-1zM7 33h1v3h-1zM7 38h1v2h-1zM7 41h1v2h-1zM7 46h1v1h-1zM7 48h1v1h-1zM7 60h1v3h-1zM7 65h1v2h-1zM7 68h1v1h-1zM7 76h1v3h-1zM7 82h1v4h-1zM7 93h1v2h-1zM7 97h1v3h-1zM7 101h1v1h-1zM7 103h1v1h-1zM7 105h1v1h-1zM7 129h1v1h-1zM7 131h1v1h-1zM7 144h1v2h-1zM7 162h1v1h-1zM7 173h1v1h-1zM8 2h1v1h-1zM8 8h1v1h-1zM8 10h1v1h-1zM8 12h1v3h-1zM8 27h1v1h-1zM8 41h1v3h-1zM8 48h1v3h-1zM8 58h1v1h-1zM8 61h1v2h-1zM8 65h1v1h-1zM8 67h1v1h-1zM8 77h1v2h-1zM8 82h1v3h-1zM8 86h1v1h-1zM8 90h1v1h-1zM8 99h1v1h-1zM8 108h1v1h-1zM8 111h1v1h-1zM8 115h1v1h-1zM8 120h1v1h-1zM8 123h1v1h-1zM8 125h1v1h-1zM8 127h1v1h-1zM8 137h1v4h-1zM8 162h1v1h-1zM8 168h1v1h-1zM8 170h1v2h-1zM8 174h1v1h-1zM9 4h1v1h-1zM9 8h1v1h-1zM9 10h1v2h-1zM9 17h1v1h-1zM9 26h1v2h-1zM9 35h1v3h-1zM9 39h1v1h-1zM9 41h1v1h-1zM9 43h1v6h-1zM9 70h1v1h-1zM9 77h1v2h-1zM9 80h1v1h-1zM9 82h1v4h-1zM9 94h1v2h-1zM9 98h1v3h-1zM9 102h1v1h-1zM9 107h1v1h-1zM9 110h1v2h-1zM9 115h1v1h-1zM9 129h1v4h-1zM9 140h1v1h-1zM9 142h1v2h-1zM9 145h1v3h-1zM9 151h1v1h-1zM9 154h1v1h-1zM9 169h1v3h-1zM10 1h1v2h-1zM10 4h1v1h-1zM10 6h1v2h-1zM10 10h1v1h-1zM10 12h1v1h-1zM10 15h1v1h-1zM10 20h1v1h-1zM10 23h1v1h-1zM10 30h1v1h-1zM10 32h1v2h-1zM10 35h1v1h-1zM10 37h1v2h-1zM10 41h1v1h-1zM10 45h1v1h-1zM10 47h1v1h-1zM10 51h1v1h-1zM10 57h1v1h-1zM10 63h1v1h-1zM10 69h1v3h-1zM10 77h1v1h-1zM10 79h1v2h-1zM10 84h1v1h-1zM10 89h1v1h-1zM10 92h1v3h-1zM10 111h1v1h-1zM10 117h1v1h-1zM10 120h1v5h-1zM10 126h1v1h-1zM10 129h1v3h-1zM10 133h1v1h-1zM10 136h1v1h-1zM10 138h1v1h-1zM10 143h1v1h-1zM10 145h1v1h-1zM10 147h1v1h-1zM10 156h1v1h-1zM10 158h1v1h-1zM10 177h1v2h-1zM11 1h1v3h-1zM11 8h1v1h-1zM11 10h1v1h-1zM11 12h1v1h-1zM11 20h1v4h-1zM11 26h1v1h-1zM11 28h1v1h-1zM11 31h1v1h-1zM11 33h1v1h-1zM11 39h1v1h-1zM11 45h1v1h-1zM11 49h1v3h-1zM11 60h1v2h-1zM11 63h1v1h-1zM11 68h1v1h-1zM11 70h1v2h-1zM11 77h1v1h-1zM11 80h1v2h-1zM11 83h1v1h-1zM11 91h1v1h-1zM11 94h1v3h-1zM11 98h1v1h-1zM11 106h1v2h-1zM11 111h1v3h-1zM11 119h1v1h-1zM11 121h1v2h-1zM11 126h1v1h-1zM11 129h1v2h-1zM11 135h1v1h-1zM11 140h1v2h-1zM11 143h1v1h-1zM11 145h1v2h-1zM11 151h1v1h-1zM11 153h1v1h-1zM11 156h1v2h-1zM11 168h1v1h-1zM11 173h1v4h-1zM11 179h1v1h-1zM11 181h1v1h-1zM11 183h1v1h-1zM12 25h1v1h-1zM12 31h1v1h-1zM12 49h1v2h-1zM12 53h1v1h-1zM12 68h1v1h-1zM12 70h1v1h-1zM12 72h1v1h-1zM12 76h1v4h-1zM12 83h1v1h-1zM12 88h1v1h-1zM12 90h1v1h-1zM12 92h1v4h-1zM12 99h1v1h-1zM12 101h1v2h-1zM12 106h1v1h-1zM12 108h1v1h-1zM12 110h1v2h-1zM12 114h1v2h-1zM12 122h1v1h-1zM12 128h1v1h-1zM12 130h1v2h-1zM12 135h1v1h-1zM12 139h1v1h-1zM12 143h1v1h-1zM12 147h1v2h-1zM12 150h1v1h-1zM12 154h1v2h-1zM12 161h1v1h-1zM12 164h1v2h-1zM12 169h1v1h-1zM12 171h1v1h-1zM13 3h1v1h-1zM13 39h1v1h-1zM13 41h1v1h-1zM13 43h1v1h-1zM13 50h1v1h-1zM13 68h1v2h-1zM13 82h1v1h-1zM13 91h1v1h-1zM13 93h1v3h-1zM13 98h1v2h-1zM13 103h1v2h-1zM13 106h1v1h-1zM13 108h1v1h-1zM13 114h1v1h-1zM13 117h1v2h-1zM13 120h1v1h-1zM13 123h1v1h-1zM13 129h1v1h-1zM13 131h1v1h-1zM13 136h1v1h-1zM13 139h1v1h-1zM13 141h1v3h-1zM13 145h1v2h-1zM13 149h1v1h-1zM13 151h1v1h-1zM13 155h1v2h-1zM13 158h1v1h-1zM13 160h1v1h-1zM13 167h1v1h-1zM13 174h1v1h-1zM13 179h1v4h-1zM14 0h1v1h-1zM14 2h1v1h-1zM14 4h1v1h-1zM14 7h1v1h-1zM14 10h1v2h-1zM14 17h1v1h-1zM14 20h1v2h-1zM14 23h1v1h-1zM14 28h1v1h-1zM14 31h1v2h-1zM14 40h1v1h-1zM14 45h1v1h-1zM14 55h1v1h-1zM14 60h1v1h-1zM14 62h1v1h-1zM14 64h1v2h-1zM14 69h1v3h-1zM14 78h1v1h-1zM14 81h1v6h-1zM14 91h1v1h-1zM14 96h1v1h-1zM14 98h1v1h-1zM14 106h1v4h-1zM14 112h1v3h-1zM14 117h1v2h-1zM14 123h1v1h-1zM14 126h1v1h-1zM14 130h1v1h-1zM14 132h1v8h-1zM14 148h1v4h-1zM14 153h1v1h-1zM14 157h1v4h-1zM14 165h1v2h-1zM14 169h1v4h-1zM14 174h1v1h-1zM14 178h1v1h-1zM14 183h1v1h-1zM15 4h1v1h-1zM15 7h1v2h-1zM15 12h1v2h-1zM15 17h1v1h-1zM15 21h1v3h-1zM15 25h1v1h-1zM15 27h1v1h-1zM15 29h1v3h-1zM15 34h1v1h-1zM15 40h1v1h-1zM15 47h1v1h-1zM15 49h1v1h-1zM15 51h1v1h-1zM15 58h1v1h-1zM15 68h1v1h-1zM15 71h1v2h-1zM15 74h1v1h-1zM15 78h1v3h-1zM15 82h1v1h-1zM15 85h1v1h-1zM15 87h1v1h-1zM15 92h1v2h-1zM15 95h1v1h-1zM15 100h1v2h-1zM15 107h1v1h-1zM15 110h1v6h-1zM15 119h1v2h-1zM15 124h1v1h-1zM15 128h1v1h-1zM15 130h1v1h-1zM15 133h1v1h-1zM15 138h1v1h-1zM15 141h1v4h-1zM15 146h1v1h-1zM15 148h1v1h-1zM15 154h1v1h-1zM15 158h1v4h-1zM15 165h1v1h-1zM15 167h1v5h-1zM15 176h1v1h-1zM15 181h1v1h-1zM16 79h1v1h-1zM16 108h1v1h-1zM16 144h1v1h-1zM16 149h1v1h-1zM16 154h1v1h-1zM16 163h1v2h-1zM17 1h1v3h-1zM17 16h1v2h-1zM17 19h1v1h-1zM17 41h1v1h-1zM17 43h1v1h-1zM17 45h1v1h-1zM17 57h1v1h-1zM17 62h1v1h-1zM17 65h1v2h-1zM17 69h1v1h-1zM17 78h1v3h-1zM17 82h1v2h-1zM17 85h1v1h-1zM17 106h1v2h-1zM17 133h1v1h-1zM17 135h1v1h-1zM17 138h1v1h-1zM17 144h1v2h-1zM17 147h1v1h-1zM17 150h1v1h-1zM17 152h1v3h-1zM17 156h1v1h-1zM17 158h1v1h-1zM17 164h1v1h-1zM17 172h1v1h-1zM17 177h1v1h-1zM17 179h1v1h-1zM18 1h1v1h-1zM18 6h1v1h-1zM18 12h1v1h-1zM18 52h1v1h-1zM18 57h1v3h-1zM18 64h1v2h-1zM18 67h1v1h-1zM18 70h1v2h-1zM18 73h1v1h-1zM18 132h1v1h-1zM18 134h1v1h-1zM18 136h1v1h-1zM18 145h1v1h-1zM18 147h1v2h-1zM18 151h1v1h-1zM18 157h1v3h-1zM18 165h1v3h-1zM18 172h1v1h-1zM18 176h1v4h-1zM18 181h1v1h-1zM18 183h1v1h-1zM19 1h1v1h-1zM19 46h1v4h-1zM19 51h1v5h-1zM19 58h1v2h-1zM19 67h1v1h-1zM19 88h1v1h-1zM19 117h1v1h-1zM19 119h1v3h-1zM19 124h1v1h-1zM19 126h1v1h-1zM19 128h1v1h-1zM19 132h1v2h-1zM19 138h1v1h-1zM19 142h1v1h-1zM19 144h1v2h-1zM19 150h1v1h-1zM19 156h1v1h-1zM19 159h1v1h-1zM19 166h1v1h-1zM20 55h1v1h-1zM20 62h1v1h-1zM20 118h1v1h-1zM20 122h1v1h-1zM20 127h1v4h-1zM20 133h1v5h-1zM20 139h1v1h-1zM20 142h1v1h-1zM20 146h1v1h-1zM20 149h1v1h-1zM20 154h1v2h-1zM20 165h1v1h-1zM20 168h1v4h-1zM20 173h1v1h-1zM20 178h1v1h-1zM20 180h1v2h-1zM20 183h1v1h-1zM21 3h1v1h-1zM21 6h1v1h-1zM21 49h1v1h-1zM21 53h1v1h-1zM21 58h1v1h-1zM21 60h1v2h-1zM21 63h1v1h-1zM21 66h1v1h-1zM21 68h1v2h-1zM21 72h1v1h-1zM21 120h1v2h-1zM21 123h1v1h-1zM21 125h1v1h-1zM21 127h1v1h-1zM21 129h1v1h-1zM21 132h1v3h-1zM21 136h1v1h-1zM21 138h1v3h-1zM21 142h1v1h-1zM21 146h1v1h-1zM21 148h1v2h-1zM21 151h1v1h-1zM21 155h1v1h-1zM21 162h1v4h-1zM21 171h1v1h-1zM21 174h1v1h-1zM21 178h1v1h-1zM21 183h1v1h-1z"/>
<path fill="#F2FBFC" d="M0 2h1v1h-1zM0 4h1v1h-1zM0 23h1v1h-1zM0 30h1v2h-1zM0 34h1v1h-1zM0 38h1v1h-1zM0 44h1v1h-1zM0 52h1v1h-1zM0 67h1v3h-1zM0 75h1v1h-1zM0 79h1v1h-1zM0 81h1v1h-1zM0 88h1v1h-1zM0 91h1v1h-1zM0 94h1v1h-1zM0 110h1v2h-1zM0 117h1v1h-1zM0 133h1v1h-1zM0 135h1v1h-1zM0 137h1v2h-1zM0 142h1v1h-1zM0 149h1v2h-1zM0 158h1v1h-1zM0 162h1v2h-1zM0 173h1v1h-1zM0 182h1v1h-1zM1 11h1v1h-1zM1 36h1v1h-1zM1 49h1v1h-1zM1 51h1v2h-1zM1 54h1v1h-1zM1 56h1v2h-1zM1 66h1v2h-1zM1 72h1v2h-1zM1 77h1v1h-1zM1 84h1v2h-1zM1 91h1v1h-1zM1 95h1v1h-1zM1 108h1v1h-1zM1 113h1v1h-1zM1 115h1v2h-1zM1 119h1v1h-1zM1 122h1v1h-1zM1 124h1v1h-1zM1 128h1v1h-1zM1 136h1v2h-1zM1 139h1v1h-1zM1 142h1v1h-1zM1 168h1v1h-1zM1 174h1v2h-1zM2 4h1v2h-1zM2 10h1v1h-1zM2 14h1v1h-1zM2 19h1v1h-1zM2 25h1v1h-1zM2 50h1v1h-1zM2 80h1v1h-1zM2 84h1v4h-1zM2 106h1v2h-1zM2 120h1v1h-1zM2 129h1v1h-1zM2 134h1v1h-1zM2 141h1v1h-1zM2 155h1v1h-1zM2 161h1v1h-1zM2 165h1v1h-1zM2 170h1v1h-1zM2 179h1v2h-1zM3 0h1v1h-1zM3 6h1v1h-1zM3 9h1v1h-1zM3 11h1v1h-1zM3 41h1v1h-1zM3 49h1v2h-1zM3 55h1v1h-1zM3 60h1v1h-1zM3 81h1v1h-1zM3 83h1v1h-1zM3 93h1v2h-1zM3 104h1v2h-1zM3 107h1v1h-1zM3 114h1v1h-1zM3 118h1v1h-1zM3 120h1v1h-1zM3 126h1v2h-1zM3 135h1v1h-1zM3 157h1v1h-1zM3 161h1v1h-1zM3 180h1v2h-1zM3 183h1v1h-1zM4 2h1v1h-1zM4 4h1v1h-1zM4 40h1v2h-1zM4 46h1v1h-1zM4 48h1v1h-1zM4 53h1v1h-1zM4 69h1v1h-1zM4 78h1v1h-1zM4 81h1v1h-1zM4 88h1v1h-1zM4 90h1v1h-1zM4 92h1v1h-1zM4 103h1v1h-1zM4 112h1v2h-1zM4 117h1v1h-1zM4 124h1v1h-1zM4 128h1v2h-1zM4 131h1v1h-1zM4 146h1v1h-1zM4 161h1v1h-1zM4 163h1v1h-1zM4 170h1v1h-1zM5 3h1v2h-1zM5 9h1v1h-1zM5 19h1v1h-1zM5 23h1v1h-1zM5 25h1v1h-1zM5 37h1v1h-1zM5 39h1v5h-1zM5 47h1v1h-1zM5 54h1v1h-1zM5 56h1v1h-1zM5 59h1v3h-1zM5 64h1v1h-1zM5 66h1v2h-1zM5 72h1v1h-1zM5 76h1v1h-1zM5 78h1v2h-1zM5 83h1v2h-1zM5 91h1v1h-1zM5 94h1v1h-1zM5 102h1v1h-1zM5 112h1v1h-1zM5 117h1v1h-1zM5 124h1v1h-1zM5 148h1v1h-1zM5 165h1v1h-1zM5 176h1v1h-1zM5 183h1v1h-1zM6 8h1v2h-1zM6 16h1v1h-1zM6 23h1v1h-1zM6 40h1v1h-1zM6 51h1v2h-1zM6 54h1v1h-1zM6 77h1v1h-1zM6 86h1v1h-1zM6 89h1v2h-1zM6 95h1v1h-1zM6 107h1v1h-1zM6 124h1v4h-1zM6 130h1v1h-1zM6 145h1v1h-1zM6 147h1v1h-1zM6 149h1v3h-1zM6 160h1v2h-1zM7 3h1v1h-1zM7 5h1v3h-1zM7 20h1v1h-1zM7 22h1v1h-1zM7 24h1v1h-1zM7 26h1v1h-1zM7 51h1v1h-1zM7 54h1v1h-1zM7 67h1v1h-1zM7 81h1v1h-1zM7 87h1v1h-1zM7 91h1v1h-1zM7 95h1v1h-1zM7 106h1v1h-1zM7 125h1v2h-1zM7 130h1v1h-1zM7 133h1v1h-1zM7 137h1v1h-1zM7 147h1v1h-1zM7 160h1v2h-1zM7 172h1v1h-1zM7 174h1v2h-1zM7 179h1v1h-1zM8 9h1v1h-1zM8 11h1v1h-1zM8 15h1v1h-1zM8 20h1v1h-1zM8 51h1v1h-1zM8 64h1v1h-1zM8 81h1v1h-1zM8 104h1v1h-1zM8 110h1v1h-1zM8 141h1v1h-1zM8 163h1v1h-1zM9 7h1v1h-1zM9 9h1v1h-1zM9 15h1v1h-1zM9 22h1v1h-1zM9 24h1v1h-1zM9 30h1v1h-1zM9 32h1v1h-1zM9 34h1v1h-1zM9 49h1v1h-1zM9 69h1v1h-1zM9 71h1v1h-1zM9 81h1v1h-1zM9 87h1v2h-1zM9 103h1v2h-1zM9 125h1v2h-1zM9 133h1v3h-1zM9 137h1v1h-1zM9 141h1v1h-1zM9 144h1v1h-1zM9 150h1v1h-1zM9 152h1v2h-1zM9 168h1v1h-1zM9 173h1v1h-1zM9 175h1v1h-1zM9 177h1v1h-1zM9 179h1v1h-1zM10 0h1v1h-1zM10 5h1v1h-1zM10 9h1v1h-1zM10 11h1v1h-1zM10 43h1v1h-1zM10 50h1v1h-1zM10 62h1v1h-1zM10 65h1v1h-1zM10 78h1v1h-1zM10 85h1v1h-1zM10 87h1v2h-1zM10 91h1v1h-1zM10 95h1v1h-1zM10 98h1v2h-1zM10 106h1v1h-1zM10 113h1v1h-1zM10 128h1v1h-1zM10 132h1v1h-1zM10 135h1v1h-1zM10 146h1v1h-1zM10 148h1v1h-1zM10 172h1v4h-1zM10 179h1v1h-1zM10 181h1v1h-1zM11 0h1v1h-1zM11 4h1v1h-1zM11 7h1v1h-1zM11 9h1v1h-1zM11 11h1v1h-1zM11 13h1v2h-1zM11 16h1v1h-1zM11 18h1v1h-1zM11 27h1v1h-1zM11 30h1v1h-1zM11 34h1v2h-1zM11 43h1v2h-1zM11 47h1v2h-1zM11 54h1v1h-1zM11 56h1v2h-1zM11 59h1v1h-1zM11 65h1v1h-1zM11 75h1v1h-1zM11 89h1v2h-1zM11 92h1v1h-1zM11 97h1v1h-1zM11 99h1v1h-1zM11 105h1v1h-1zM11 109h1v1h-1zM11 117h1v1h-1zM11 125h1v1h-1zM11 131h1v1h-1zM11 133h1v2h-1zM11 136h1v1h-1zM11 152h1v1h-1zM11 170h1v3h-1zM11 182h1v1h-1zM12 20h1v1h-1zM12 41h1v3h-1zM12 47h1v1h-1zM12 71h1v1h-1zM12 82h1v1h-1zM12 84h1v1h-1zM12 86h1v1h-1zM12 100h1v1h-1zM12 132h1v2h-1zM12 140h1v1h-1zM12 152h1v1h-1zM12 156h1v1h-1zM12 159h1v1h-1zM12 163h1v1h-1zM12 173h1v1h-1zM12 175h1v1h-1zM13 0h1v2h-1zM13 12h1v1h-1zM13 20h1v4h-1zM13 27h1v4h-1zM13 35h1v1h-1zM13 45h1v1h-1zM13 49h1v1h-1zM13 70h1v1h-1zM13 84h1v2h-1zM13 92h1v1h-1zM13 96h1v1h-1zM13 100h1v1h-1zM13 102h1v1h-1zM13 107h1v1h-1zM13 110h1v1h-1zM13 121h1v2h-1zM13 128h1v1h-1zM13 132h1v4h-1zM13 138h1v1h-1zM13 140h1v1h-1zM13 159h1v1h-1zM13 162h1v1h-1zM13 177h1v1h-1zM14 1h1v1h-1zM14 5h1v1h-1zM14 8h1v2h-1zM14 12h1v2h-1zM14 22h1v1h-1zM14 29h1v2h-1zM14 34h1v2h-1zM14 38h1v1h-1zM14 46h1v1h-1zM14 53h1v1h-1zM14 63h1v1h-1zM14 68h1v1h-1zM14 87h1v2h-1zM14 90h1v1h-1zM14 93h1v1h-1zM14 95h1v1h-1zM14 97h1v1h-1zM14 103h1v1h-1zM14 111h1v1h-1zM14 128h1v1h-1zM14 147h1v1h-1zM14 154h1v1h-1zM14 156h1v1h-1zM14 162h1v1h-1zM14 164h1v1h-1zM14 167h1v1h-1zM14 175h1v1h-1zM14 177h1v1h-1zM14 182h1v1h-1zM15 5h1v2h-1zM15 10h1v1h-1zM15 15h1v1h-1zM15 24h1v1h-1zM15 26h1v1h-1zM15 35h1v1h-1zM15 45h1v2h-1zM15 48h1v1h-1zM15 53h1v1h-1zM15 56h1v1h-1zM15 64h1v2h-1zM15 70h1v1h-1zM15 84h1v1h-1zM15 86h1v1h-1zM15 94h1v1h-1zM15 104h1v1h-1zM15 108h1v1h-1zM15 116h1v1h-1zM15 122h1v1h-1zM15 127h1v1h-1zM15 136h1v1h-1zM15 139h1v2h-1zM15 175h1v1h-1zM15 177h1v1h-1zM15 179h1v2h-1zM16 7h1v1h-1zM16 76h1v1h-1zM16 86h1v1h-1zM16 94h1v2h-1zM16 111h1v1h-1zM16 115h1v2h-1zM16 118h1v1h-1zM16 122h1v1h-1zM16 142h1v1h-1zM16 157h1v1h-1zM16 161h1v1h-1zM17 0h1v1h-1zM17 18h1v1h-1zM17 37h1v1h-1zM17 46h1v2h-1zM17 49h1v1h-1zM17 52h1v2h-1zM17 55h1v1h-1zM17 67h1v1h-1zM17 70h1v1h-1zM17 72h1v1h-1zM17 77h1v1h-1zM17 81h1v1h-1zM17 100h1v1h-1zM17 146h1v1h-1zM17 151h1v1h-1zM17 155h1v1h-1zM17 157h1v1h-1zM17 159h1v1h-1zM17 168h1v1h-1zM17 171h1v1h-1zM17 176h1v1h-1zM17 178h1v1h-1zM18 0h1v1h-1zM18 2h1v1h-1zM18 7h1v1h-1zM18 32h1v1h-1zM18 34h1v2h-1zM18 53h1v1h-1zM18 60h1v1h-1zM18 78h1v3h-1zM18 128h1v2h-1zM18 135h1v1h-1zM18 137h1v1h-1zM18 141h1v1h-1zM18 144h1v1h-1zM18 154h1v1h-1zM18 160h1v2h-1zM18 168h1v3h-1zM18 175h1v1h-1zM18 180h1v1h-1zM19 9h1v1h-1zM19 45h1v1h-1zM19 56h1v1h-1zM19 62h1v1h-1zM19 70h1v1h-1zM19 74h1v2h-1zM19 89h1v3h-1zM19 146h1v1h-1zM19 179h1v1h-1zM20 52h1v3h-1zM20 84h1v1h-1zM20 87h1v1h-1zM20 89h1v2h-1zM20 113h1v1h-1zM20 124h1v1h-1zM20 132h1v1h-1zM20 144h1v1h-1zM20 147h1v1h-1zM20 150h1v1h-1zM20 152h1v1h-1zM20 162h1v1h-1zM20 174h1v4h-1zM20 182h1v1h-1zM21 50h1v1h-1zM21 54h1v2h-1zM21 65h1v1h-1zM21 73h1v3h-1zM21 116h1v1h-1zM21 124h1v1h-1zM21 126h1v1h-1zM21 130h1v1h-1zM21 143h1v1h-1zM21 170h1v1h-1zM21 172h1v1h-1zM21 179h1v4h-1z"/>
<path fill="#FFFFFF" d="M0 20h1v1h-1zM0 28h1v2h-1zM0 54h1v1h-1zM0 70h1v1h-1zM0 116h1v1h-1zM0 121h1v1h-1zM0 156h1v1h-1zM0 168h1v1h-1zM1 130h1v2h-1zM1 155h1v1h-1zM1 183h1v1h-1zM2 64h1v4h-1zM2 72h1v1h-1zM2 74h1v1h-1zM2 78h1v1h-1zM2 127h1v1h-1zM2 147h1v1h-1zM2 150h1v1h-1zM2 171h1v1h-1zM4 42h1v2h-1zM4 72h1v2h-1zM4 89h1v1h-1zM4 174h1v1h-1zM5 38h1v1h-1zM5 63h1v1h-1zM5 74h1v2h-1zM5 88h1v1h-1zM5 93h1v1h-1zM5 128h1v1h-1zM5 130h1v2h-1zM5 160h1v1h-1zM5 171h1v1h-1zM6 1h1v1h-1zM6 4h1v2h-1zM6 47h1v1h-1zM6 59h1v1h-1zM6 80h1v2h-1zM6 87h1v1h-1zM6 133h1v1h-1zM6 140h1v1h-1zM6 148h1v1h-1zM6 158h1v1h-1zM7 1h1v2h-1zM7 25h1v1h-1zM7 29h1v1h-1zM7 50h1v1h-1zM7 52h1v1h-1zM7 59h1v1h-1zM7 69h1v1h-1zM7 115h1v1h-1zM7 139h1v2h-1zM7 146h1v1h-1zM8 30h1v1h-1zM8 142h1v1h-1zM8 156h1v2h-1zM9 3h1v1h-1zM9 5h1v1h-1zM9 12h1v3h-1zM9 16h1v1h-1zM9 20h1v2h-1zM9 23h1v1h-1zM9 25h1v1h-1zM9 31h1v1h-1zM9 42h1v1h-1zM9 64h1v1h-1zM9 72h1v1h-1zM9 74h1v1h-1zM9 93h1v1h-1zM9 105h1v1h-1zM9 139h1v1h-1zM9 176h1v1h-1zM10 55h1v1h-1zM10 73h1v1h-1zM10 101h1v1h-1zM10 167h1v1h-1zM10 170h1v1h-1zM11 6h1v1h-1zM11 40h1v1h-1zM11 53h1v1h-1zM11 72h1v1h-1zM11 103h1v1h-1zM11 128h1v1h-1zM11 155h1v1h-1zM11 169h1v1h-1zM12 15h1v1h-1zM12 30h1v1h-1zM12 38h1v1h-1zM12 40h1v1h-1zM12 44h1v1h-1zM12 58h1v1h-1zM12 65h1v1h-1zM12 98h1v1h-1zM12 117h1v2h-1zM12 125h1v1h-1zM12 137h1v1h-1zM12 142h1v1h-1zM12 144h1v1h-1zM12 170h1v1h-1zM12 174h1v1h-1zM13 2h1v1h-1zM13 19h1v1h-1zM13 32h1v1h-1zM13 57h1v2h-1zM13 105h1v1h-1zM13 116h1v1h-1zM13 150h1v1h-1zM14 33h1v1h-1zM14 92h1v1h-1zM15 0h1v1h-1zM15 9h1v1h-1zM15 33h1v1h-1zM15 52h1v1h-1zM15 62h1v2h-1zM15 134h1v1h-1zM15 166h1v1h-1zM16 15h1v1h-1zM16 25h1v1h-1zM16 27h1v1h-1zM16 29h1v1h-1zM16 73h1v1h-1zM16 83h1v1h-1zM16 87h1v2h-1zM16 90h1v1h-1zM16 92h1v2h-1zM16 101h1v1h-1zM16 114h1v1h-1zM16 132h1v1h-1zM16 155h1v1h-1zM16 158h1v1h-1zM17 36h1v1h-1zM17 39h1v1h-1zM17 51h1v1h-1zM17 103h1v1h-1zM17 113h1v1h-1zM17 118h1v2h-1zM17 134h1v1h-1zM18 9h1v1h-1zM18 15h1v2h-1zM18 26h1v1h-1zM18 33h1v1h-1zM18 55h1v1h-1zM18 62h1v1h-1zM18 138h1v1h-1zM18 140h1v1h-1zM18 146h1v1h-1zM18 174h1v1h-1zM19 8h1v1h-1zM19 10h1v2h-1zM19 32h1v1h-1zM19 36h1v1h-1zM19 69h1v1h-1zM19 71h1v1h-1zM19 113h1v1h-1zM19 115h1v1h-1zM20 116h1v1h-1zM20 131h1v1h-1zM20 164h1v1h-1zM21 1h1v1h-1zM21 7h1v1h-1zM21 28h1v1h-1zM21 51h1v1h-1zM21 93h1v1h-1zM21 102h1v1h-1zM21 128h1v1h-1zM21 135h1v1h-1zM21 177h1v1h-1z"/>
<path fill="#FEF2EE" d="M0 72h1v1h-1zM0 161h1v1h-1zM1 134h1v1h-1zM1 171h1v1h-1zM2 48h1v1h-1zM2 53h1v1h-1zM2 73h1v1h-1zM2 88h1v3h-1zM2 152h1v1h-1zM3 128h1v1h-1zM3 139h1v1h-1zM3 164h1v1h-1zM4 7h1v1h-1zM4 74h1v2h-1zM4 175h1v1h-1zM4 182h1v1h-1zM5 5h1v3h-1zM5 73h1v1h-1zM5 152h1v1h-1zM5 155h1v1h-1zM5 170h1v1h-1zM6 37h1v1h-1zM6 82h1v1h-1zM6 121h1v1h-1zM6 123h1v1h-1zM6 132h1v1h-1zM6 134h1v2h-1zM6 166h1v1h-1zM6 178h1v1h-1zM7 0h1v1h-1zM7 8h1v1h-1zM7 71h1v1h-1zM7 74h1v2h-1zM7 112h1v1h-1zM7 132h1v1h-1zM7 135h1v1h-1zM7 169h1v3h-1zM8 54h1v1h-1zM8 159h1v1h-1zM9 1h1v1h-1zM9 28h1v1h-1zM9 33h1v1h-1zM9 53h1v1h-1zM9 66h1v1h-1zM9 123h1v1h-1zM9 181h1v2h-1zM10 31h1v1h-1zM10 49h1v1h-1zM10 54h1v1h-1zM10 72h1v1h-1zM10 74h1v1h-1zM10 102h1v1h-1zM10 153h1v2h-1zM10 166h1v1h-1zM11 100h1v1h-1zM11 166h1v1h-1zM12 0h1v1h-1zM12 13h1v1h-1zM12 21h1v1h-1zM12 36h1v1h-1zM12 66h1v2h-1zM12 116h1v1h-1zM12 119h1v1h-1zM12 126h1v2h-1zM12 134h1v1h-1zM12 136h1v1h-1zM13 5h1v1h-1zM13 7h1v1h-1zM13 14h1v1h-1zM13 34h1v1h-1zM13 44h1v1h-1zM13 56h1v1h-1zM13 59h1v1h-1zM13 65h1v1h-1zM13 67h1v1h-1zM13 75h1v1h-1zM14 75h1v1h-1zM14 163h1v1h-1zM15 61h1v1h-1zM15 150h1v1h-1zM16 14h1v1h-1zM16 26h1v1h-1zM16 75h1v1h-1zM16 77h1v1h-1zM16 80h1v1h-1zM16 82h1v1h-1zM16 98h1v1h-1zM16 136h1v1h-1zM16 156h1v1h-1zM16 165h1v1h-1zM17 7h1v1h-1zM17 20h1v2h-1zM17 23h1v1h-1zM17 25h1v1h-1zM17 38h1v1h-1zM17 42h1v1h-1zM17 44h1v1h-1zM17 73h1v1h-1zM17 88h1v1h-1zM17 98h1v2h-1zM17 111h1v1h-1zM17 117h1v1h-1zM17 132h1v1h-1zM17 183h1v1h-1zM18 24h1v1h-1zM18 45h1v5h-1zM18 84h1v1h-1zM18 112h1v1h-1zM18 122h1v1h-1zM18 155h1v1h-1zM19 34h1v1h-1zM19 68h1v1h-1zM19 93h1v3h-1zM20 5h1v1h-1zM20 7h1v1h-1zM20 48h1v1h-1zM20 56h1v1h-1zM20 81h1v1h-1zM20 83h1v1h-1zM20 91h1v1h-1zM20 112h1v1h-1zM20 125h1v1h-1zM21 5h1v1h-1zM21 71h1v1h-1zM21 101h1v1h-1zM21 112h1v1h-1z"/>
<path fill="#FDE4DD" d="M0 66h1v1h-1zM0 71h1v1h-1zM0 74h1v1h-1zM0 98h1v2h-1zM0 119h1v1h-1zM1 90h1v1h-1zM1 118h1v1h-1zM1 138h1v1h-1zM1 140h1v1h-1zM1 143h1v1h-1zM1 159h1v1h-1zM1 170h1v1h-1zM2 52h1v1h-1zM2 93h1v1h-1zM2 104h1v1h-1zM2 136h1v2h-1zM2 146h1v1h-1zM2 153h1v1h-1zM2 158h1v1h-1zM2 182h1v1h-1zM3 1h1v1h-1zM3 3h1v1h-1zM3 131h1v1h-1zM3 138h1v1h-1zM3 145h1v1h-1zM3 165h1v2h-1zM3 182h1v1h-1zM4 3h1v1h-1zM4 168h1v2h-1zM4 171h1v1h-1zM4 173h1v1h-1zM4 180h1v1h-1zM5 57h1v2h-1zM5 92h1v1h-1zM5 96h1v1h-1zM5 126h1v1h-1zM5 149h1v1h-1zM5 151h1v1h-1zM5 158h1v1h-1zM6 36h1v1h-1zM6 138h1v1h-1zM6 146h1v1h-1zM6 154h1v1h-1zM6 164h1v1h-1zM6 172h1v1h-1zM6 174h1v2h-1zM7 9h1v1h-1zM7 30h1v2h-1zM7 53h1v1h-1zM7 72h1v1h-1zM7 138h1v1h-1zM7 142h1v1h-1zM7 157h1v2h-1zM7 163h1v1h-1zM7 177h1v1h-1zM7 183h1v1h-1zM8 32h1v1h-1zM8 35h1v1h-1zM8 73h1v1h-1zM8 158h1v1h-1zM8 160h1v1h-1zM9 0h1v1h-1zM9 18h1v1h-1zM9 29h1v1h-1zM9 52h1v1h-1zM9 55h1v1h-1zM9 65h1v1h-1zM9 155h1v1h-1zM9 172h1v1h-1zM9 174h1v1h-1zM9 178h1v1h-1zM10 28h1v2h-1zM10 56h1v1h-1zM10 58h1v1h-1zM10 100h1v1h-1zM10 104h1v1h-1zM10 171h1v1h-1zM10 180h1v1h-1zM10 182h1v2h-1zM11 5h1v1h-1zM11 66h1v2h-1zM11 73h1v2h-1zM11 101h1v1h-1zM12 2h1v1h-1zM12 11h1v1h-1zM12 16h1v1h-1zM12 18h1v1h-1zM12 24h1v1h-1zM12 26h1v1h-1zM12 37h1v1h-1zM12 45h1v1h-1zM12 56h1v1h-1zM12 69h1v1h-1zM12 80h1v1h-1zM12 96h1v1h-1zM12 120h1v1h-1zM12 157h1v1h-1zM13 16h1v1h-1zM13 18h1v1h-1zM13 31h1v1h-1zM13 47h1v1h-1zM13 111h1v1h-1zM14 47h1v1h-1zM14 73h1v1h-1zM15 132h1v1h-1zM15 149h1v1h-1zM15 151h1v1h-1zM16 5h1v2h-1zM16 8h1v1h-1zM16 10h1v1h-1zM16 13h1v1h-1zM16 23h1v1h-1zM16 28h1v1h-1zM16 40h1v1h-1zM16 81h1v1h-1zM16 85h1v1h-1zM16 117h1v1h-1zM16 126h1v1h-1zM16 138h1v1h-1zM16 140h1v2h-1zM16 143h1v1h-1zM16 148h1v1h-1zM16 168h1v1h-1zM16 170h1v1h-1zM17 27h1v1h-1zM17 31h1v1h-1zM17 76h1v1h-1zM17 94h1v1h-1zM17 96h1v2h-1zM17 101h1v1h-1zM17 109h1v1h-1zM18 14h1v1h-1zM18 17h1v1h-1zM18 19h1v1h-1zM18 22h1v1h-1zM18 51h1v1h-1zM18 54h1v1h-1zM18 68h1v2h-1zM18 125h1v1h-1zM18 139h1v1h-1zM19 4h1v2h-1zM19 39h1v1h-1zM20 23h1v1h-1zM20 29h1v1h-1zM20 47h1v1h-1zM20 72h1v1h-1zM20 85h1v1h-1zM20 88h1v1h-1zM20 114h1v1h-1zM20 166h1v1h-1zM21 2h1v1h-1zM21 8h1v1h-1zM21 25h1v1h-1zM21 31h1v1h-1zM21 97h1v1h-1zM21 99h1v1h-1zM21 111h1v1h-1zM21 118h1v1h-1z"/>
<path fill="#FCD2C8" d="M0 53h1v1h-1zM0 55h1v1h-1zM0 64h1v2h-1zM0 97h1v1h-1zM0 100h1v1h-1zM0 151h1v1h-1zM1 89h1v1h-1zM1 92h1v1h-1zM1 94h1v1h-1zM1 157h1v2h-1zM2 41h1v1h-1zM2 105h1v1h-1zM2 133h1v1h-1zM2 135h1v1h-1zM2 157h1v1h-1zM2 160h1v1h-1zM2 162h1v1h-1zM2 181h1v1h-1zM2 183h1v1h-1zM3 2h1v1h-1zM3 5h1v1h-1zM3 82h1v1h-1zM3 92h1v1h-1zM3 95h1v1h-1zM3 146h1v1h-1zM4 50h1v1h-1zM4 91h1v1h-1zM4 130h1v1h-1zM4 165h1v1h-1zM4 167h1v1h-1zM5 8h1v1h-1zM5 10h1v1h-1zM5 50h1v1h-1zM5 62h1v1h-1zM5 97h1v1h-1zM5 125h1v1h-1zM5 144h1v1h-1zM5 150h1v1h-1zM5 153h1v1h-1zM5 166h1v1h-1zM5 173h1v1h-1zM5 175h1v1h-1zM6 118h1v1h-1zM6 122h1v1h-1zM6 137h1v1h-1zM6 143h1v1h-1zM6 153h1v1h-1zM6 156h1v1h-1zM6 176h1v1h-1zM6 179h1v1h-1zM7 11h1v1h-1zM7 27h1v1h-1zM7 55h1v1h-1zM7 57h1v1h-1zM7 116h1v1h-1zM7 136h1v1h-1zM7 178h1v1h-1zM8 29h1v1h-1zM8 33h1v1h-1zM8 75h1v1h-1zM8 161h1v1h-1zM9 2h1v1h-1zM9 6h1v1h-1zM9 19h1v1h-1zM9 38h1v1h-1zM9 67h1v1h-1zM9 73h1v1h-1zM9 75h1v1h-1zM9 121h1v1h-1zM9 136h1v1h-1zM9 138h1v1h-1zM10 48h1v1h-1zM10 59h1v1h-1zM10 66h1v1h-1zM10 97h1v1h-1zM10 105h1v1h-1zM10 107h1v1h-1zM11 64h1v1h-1zM11 154h1v1h-1zM11 162h1v1h-1zM12 17h1v1h-1zM12 19h1v1h-1zM12 23h1v1h-1zM12 28h1v2h-1zM12 64h1v1h-1zM12 81h1v1h-1zM12 97h1v1h-1zM12 121h1v1h-1zM12 138h1v1h-1zM12 145h1v2h-1zM12 158h1v1h-1zM12 162h1v1h-1zM12 172h1v1h-1zM12 181h1v1h-1zM13 4h1v1h-1zM13 6h1v1h-1zM13 10h1v1h-1zM13 13h1v1h-1zM13 15h1v1h-1zM13 24h1v2h-1zM13 33h1v1h-1zM13 46h1v1h-1zM13 53h1v1h-1zM13 63h1v1h-1zM13 109h1v1h-1zM14 74h1v1h-1zM14 161h1v1h-1zM15 11h1v1h-1zM16 4h1v1h-1zM16 11h1v1h-1zM16 18h1v1h-1zM16 20h1v1h-1zM16 41h1v3h-1zM16 84h1v1h-1zM16 112h1v1h-1zM16 119h1v2h-1zM16 150h1v2h-1zM16 159h1v1h-1zM16 166h1v1h-1zM16 171h1v1h-1zM16 178h1v1h-1zM17 8h1v1h-1zM17 11h1v4h-1zM17 24h1v1h-1zM17 26h1v1h-1zM17 28h1v1h-1zM17 33h1v1h-1zM17 40h1v1h-1zM17 68h1v1h-1zM17 71h1v1h-1zM17 74h1v2h-1zM17 86h1v2h-1zM17 102h1v1h-1zM17 108h1v1h-1zM17 114h1v2h-1zM17 121h1v1h-1zM17 123h1v1h-1zM17 139h1v1h-1zM17 181h1v2h-1zM18 11h1v1h-1zM18 25h1v1h-1zM18 28h1v1h-1zM18 31h1v1h-1zM18 61h1v1h-1zM18 63h1v1h-1zM18 82h1v2h-1zM18 87h1v1h-1zM18 97h1v1h-1zM18 109h1v1h-1zM18 113h1v1h-1zM18 115h1v1h-1zM18 120h1v2h-1zM18 124h1v1h-1zM18 126h1v1h-1zM18 142h1v1h-1zM18 152h1v2h-1zM19 17h1v1h-1zM19 19h1v1h-1zM19 96h1v1h-1zM20 0h1v1h-1zM20 33h1v1h-1zM20 36h1v1h-1zM20 82h1v1h-1zM20 86h1v1h-1zM20 97h1v1h-1zM20 102h1v1h-1zM20 107h1v1h-1zM20 115h1v1h-1zM20 145h1v1h-1zM20 167h1v1h-1zM21 0h1v1h-1zM21 4h1v1h-1zM21 15h1v1h-1zM21 19h1v1h-1zM21 26h1v1h-1zM21 37h1v1h-1zM21 39h1v1h-1zM21 48h1v1h-1zM21 64h1v1h-1zM21 67h1v1h-1zM21 85h1v2h-1zM21 88h1v1h-1zM21 114h1v1h-1zM21 117h1v1h-1zM21 131h1v1h-1z"/>
<path fill="#FBC0B2" d="M0 101h1v1h-1zM1 88h1v1h-1zM1 133h1v1h-1zM2 42h1v1h-1zM2 139h1v1h-1zM2 151h1v1h-1zM2 154h1v1h-1zM2 163h1v1h-1zM3 144h1v1h-1zM4 49h1v1h-1zM5 11h1v1h-1zM5 49h1v1h-1zM5 51h1v1h-1zM5 95h1v1h-1zM5 146h1v1h-1zM5 154h1v1h-1zM5 164h1v1h-1zM5 168h1v1h-1zM6 6h1v1h-1zM6 38h1v2h-1zM6 57h1v1h-1zM6 83h1v1h-1zM6 141h1v2h-1zM6 152h1v1h-1zM6 157h1v1h-1zM6 165h1v1h-1zM6 167h1v1h-1zM6 177h1v1h-1zM6 182h1v1h-1zM7 56h1v1h-1zM7 73h1v1h-1zM7 80h1v1h-1zM7 114h1v1h-1zM7 143h1v1h-1zM7 156h1v1h-1zM7 168h1v1h-1zM7 176h1v1h-1zM7 180h1v1h-1zM8 31h1v1h-1zM8 153h1v1h-1zM8 176h1v1h-1zM9 54h1v1h-1zM9 158h1v1h-1zM9 167h1v1h-1zM10 52h1v1h-1zM10 64h1v1h-1zM10 75h1v1h-1zM10 96h1v1h-1zM10 103h1v1h-1zM10 152h1v1h-1zM11 52h1v1h-1zM11 102h1v1h-1zM11 161h1v1h-1zM11 164h1v1h-1zM12 8h1v2h-1zM12 14h1v1h-1zM12 22h1v1h-1zM12 27h1v1h-1zM12 57h1v1h-1zM12 59h1v1h-1zM12 63h1v1h-1zM12 123h1v2h-1zM13 26h1v1h-1zM13 62h1v1h-1zM13 78h1v1h-1zM15 135h1v1h-1zM16 12h1v1h-1zM16 17h1v1h-1zM16 21h1v1h-1zM16 31h1v1h-1zM16 36h1v1h-1zM16 70h1v1h-1zM16 78h1v1h-1zM16 89h1v1h-1zM16 96h1v1h-1zM16 100h1v1h-1zM16 102h1v2h-1zM16 109h1v2h-1zM16 123h1v1h-1zM16 125h1v1h-1zM16 127h1v1h-1zM16 130h1v1h-1zM16 134h1v1h-1zM16 137h1v1h-1zM16 167h1v1h-1zM16 169h1v1h-1zM16 174h1v1h-1zM17 6h1v1h-1zM17 15h1v1h-1zM17 84h1v1h-1zM17 90h1v1h-1zM17 93h1v1h-1zM17 112h1v1h-1zM17 122h1v1h-1zM17 136h1v1h-1zM17 180h1v1h-1zM18 18h1v1h-1zM18 27h1v1h-1zM18 30h1v1h-1zM18 86h1v1h-1zM18 96h1v1h-1zM18 99h1v1h-1zM18 105h1v1h-1zM18 114h1v1h-1zM18 118h1v1h-1zM18 123h1v1h-1zM18 130h1v2h-1zM18 143h1v1h-1zM18 163h1v1h-1zM19 6h1v2h-1zM19 13h1v3h-1zM19 38h1v1h-1zM19 44h1v1h-1zM19 100h1v1h-1zM19 104h1v1h-1zM20 4h1v1h-1zM20 8h1v1h-1zM20 22h1v1h-1zM20 27h1v1h-1zM20 44h1v1h-1zM20 49h1v1h-1zM20 51h1v1h-1zM20 75h1v1h-1zM20 100h1v1h-1zM20 103h1v1h-1zM20 108h1v1h-1zM20 111h1v1h-1zM20 126h1v1h-1zM21 10h1v1h-1zM21 20h1v1h-1zM21 22h1v1h-1zM21 32h1v1h-1zM21 44h1v1h-1zM21 47h1v1h-1zM21 70h1v1h-1zM21 89h1v1h-1zM21 91h1v2h-1zM21 98h1v1h-1zM21 100h1v1h-1z"/>
<path fill="#F9AB9C" d="M0 102h1v2h-1zM0 145h1v1h-1zM1 132h1v1h-1zM2 75h1v1h-1zM2 91h1v1h-1zM2 117h1v1h-1zM2 138h1v1h-1zM2 159h1v1h-1zM3 130h1v1h-1zM3 136h1v1h-1zM3 147h1v1h-1zM3 167h1v1h-1zM4 172h1v1h-1zM5 89h1v2h-1zM5 98h1v2h-1zM5 127h1v1h-1zM5 129h1v1h-1zM5 145h1v1h-1zM5 147h1v1h-1zM6 7h1v1h-1zM6 56h1v1h-1zM6 120h1v1h-1zM6 139h1v1h-1zM6 155h1v1h-1zM6 159h1v1h-1zM6 180h1v2h-1zM7 58h1v1h-1zM7 151h1v1h-1zM7 159h1v1h-1zM7 181h1v2h-1zM8 52h1v1h-1zM8 71h1v1h-1zM8 148h1v1h-1zM9 117h1v1h-1zM9 119h1v2h-1zM9 122h1v1h-1zM9 157h1v1h-1zM9 183h1v1h-1zM10 53h1v1h-1zM10 67h1v1h-1zM10 164h1v1h-1zM10 168h1v2h-1zM11 160h1v1h-1zM11 165h1v1h-1zM12 1h1v1h-1zM12 12h1v1h-1zM12 39h1v1h-1zM12 60h1v1h-1zM12 176h1v1h-1zM12 179h1v1h-1zM13 17h1v1h-1zM13 55h1v1h-1zM13 61h1v1h-1zM13 64h1v1h-1zM13 66h1v1h-1zM13 72h1v2h-1zM13 76h1v2h-1zM13 79h1v1h-1zM14 72h1v1h-1zM16 16h1v1h-1zM16 22h1v1h-1zM16 24h1v1h-1zM16 30h1v1h-1zM16 63h1v1h-1zM16 65h1v1h-1zM16 72h1v1h-1zM16 97h1v1h-1zM16 99h1v1h-1zM16 113h1v1h-1zM16 133h1v1h-1zM16 135h1v1h-1zM16 139h1v1h-1zM17 4h1v2h-1zM17 10h1v1h-1zM17 22h1v1h-1zM17 30h1v1h-1zM17 34h1v2h-1zM17 89h1v1h-1zM17 91h1v2h-1zM17 95h1v1h-1zM17 110h1v1h-1zM17 116h1v1h-1zM18 8h1v1h-1zM18 10h1v1h-1zM18 21h1v1h-1zM18 29h1v1h-1zM18 44h1v1h-1zM18 85h1v1h-1zM18 91h1v1h-1zM18 101h1v3h-1zM18 107h1v1h-1zM18 110h1v1h-1zM18 117h1v1h-1zM18 127h1v1h-1zM19 26h1v1h-1zM19 33h1v1h-1zM19 98h1v1h-1zM19 102h1v1h-1zM19 112h1v1h-1zM19 114h1v1h-1zM20 18h1v1h-1zM20 20h1v1h-1zM20 45h1v1h-1zM20 57h1v3h-1zM20 65h1v1h-1zM20 67h1v1h-1zM20 73h1v2h-1zM20 95h1v1h-1zM20 98h1v1h-1zM20 101h1v1h-1zM20 109h1v1h-1zM21 9h1v1h-1zM21 11h1v2h-1zM21 14h1v1h-1zM21 24h1v1h-1zM21 27h1v1h-1zM21 29h1v1h-1zM21 35h1v2h-1zM21 38h1v1h-1zM21 81h1v1h-1zM21 84h1v1h-1zM21 87h1v1h-1zM21 90h1v1h-1zM21 94h1v1h-1zM21 103h1v1h-1zM21 107h1v1h-1zM21 110h1v1h-1zM21 113h1v1h-1z"/>
<path fill="#F79687" d="M0 146h1v1h-1zM1 135h1v1h-1zM2 92h1v1h-1zM2 119h1v1h-1zM2 156h1v1h-1zM3 129h1v1h-1zM3 137h1v1h-1zM3 177h1v1h-1zM5 141h1v1h-1zM5 156h1v1h-1zM5 169h1v1h-1zM6 58h1v1h-1zM6 183h1v1h-1zM7 10h1v1h-1zM7 113h1v1h-1zM7 117h1v1h-1zM7 122h1v1h-1zM7 141h1v1h-1zM7 166h1v1h-1zM8 70h1v1h-1zM8 72h1v1h-1zM8 178h1v1h-1zM9 118h1v1h-1zM9 164h1v3h-1zM9 180h1v1h-1zM10 155h1v1h-1zM10 162h1v1h-1zM10 165h1v1h-1zM11 163h1v1h-1zM11 167h1v1h-1zM12 3h1v1h-1zM12 10h1v1h-1zM12 177h1v2h-1zM12 180h1v1h-1zM13 8h1v1h-1zM13 54h1v1h-1zM13 74h1v1h-1zM15 60h1v1h-1zM16 38h1v1h-1zM16 62h1v1h-1zM16 68h1v1h-1zM16 74h1v1h-1zM16 91h1v1h-1zM16 104h1v1h-1zM16 129h1v1h-1zM16 173h1v1h-1zM17 29h1v1h-1zM17 32h1v1h-1zM17 141h1v3h-1zM18 23h1v1h-1zM18 41h1v1h-1zM18 43h1v1h-1zM18 50h1v1h-1zM18 100h1v1h-1zM18 106h1v1h-1zM18 108h1v1h-1zM18 111h1v1h-1zM18 119h1v1h-1zM19 18h1v1h-1zM19 22h1v1h-1zM19 27h1v1h-1zM19 35h1v1h-1zM19 92h1v1h-1zM19 103h1v1h-1zM19 107h1v1h-1zM20 1h1v2h-1zM20 6h1v1h-1zM20 11h1v1h-1zM20 16h1v1h-1zM20 19h1v1h-1zM20 30h1v1h-1zM20 35h1v1h-1zM20 50h1v1h-1zM20 80h1v1h-1zM21 21h1v1h-1zM21 23h1v1h-1zM21 34h1v1h-1zM21 41h1v1h-1zM21 77h1v1h-1zM21 96h1v1h-1zM21 105h1v1h-1zM21 108h1v2h-1zM21 115h1v1h-1z"/>
<path fill="#F28074" d="M0 144h1v1h-1zM0 147h1v1h-1zM2 94h1v1h-1zM2 116h1v1h-1zM3 175h1v2h-1zM3 179h1v1h-1zM4 164h1v1h-1zM5 48h1v1h-1zM5 157h1v1h-1zM5 159h1v1h-1zM6 116h1v2h-1zM6 136h1v1h-1zM7 119h1v2h-1zM7 134h1v1h-1zM7 152h1v1h-1zM7 154h1v1h-1zM8 28h1v1h-1zM8 53h1v1h-1zM8 55h1v1h-1zM8 68h1v1h-1zM8 179h1v1h-1zM9 58h1v1h-1zM9 62h1v1h-1zM9 156h1v1h-1zM9 159h1v1h-1zM12 5h1v1h-1zM12 35h1v1h-1zM12 183h1v1h-1zM13 11h1v1h-1zM13 52h1v1h-1zM16 19h1v1h-1zM16 32h1v2h-1zM16 39h1v1h-1zM16 60h1v2h-1zM16 64h1v1h-1zM16 66h1v1h-1zM16 106h1v2h-1zM16 124h1v1h-1zM16 128h1v1h-1zM16 131h1v1h-1zM16 175h1v1h-1zM16 177h1v1h-1zM16 179h1v1h-1zM17 120h1v1h-1zM17 130h1v1h-1zM17 140h1v1h-1zM18 98h1v1h-1zM18 104h1v1h-1zM19 16h1v1h-1zM19 24h1v2h-1zM19 37h1v1h-1zM19 97h1v1h-1zM19 99h1v1h-1zM19 101h1v1h-1zM19 105h1v1h-1zM20 9h1v1h-1zM20 21h1v1h-1zM20 25h1v1h-1zM20 28h1v1h-1zM20 31h1v2h-1zM20 34h1v1h-1zM20 37h1v1h-1zM20 39h1v3h-1zM20 46h1v1h-1zM20 66h1v1h-1zM20 92h1v3h-1zM20 96h1v1h-1zM20 99h1v1h-1zM20 104h1v1h-1zM20 106h1v1h-1zM20 110h1v1h-1zM21 16h1v3h-1zM21 30h1v1h-1zM21 33h1v1h-1zM21 43h1v1h-1zM21 45h1v1h-1zM21 76h1v1h-1zM21 80h1v1h-1zM21 82h1v2h-1zM21 95h1v1h-1zM21 104h1v1h-1zM21 106h1v1h-1z"/>
<path fill="#EE6A60" d="M2 95h1v1h-1zM2 118h1v1h-1zM3 178h1v1h-1zM4 166h1v1h-1zM5 135h1v1h-1zM6 119h1v1h-1zM7 118h1v1h-1zM7 121h1v1h-1zM7 148h1v1h-1zM7 153h1v1h-1zM7 155h1v1h-1zM8 69h1v1h-1zM8 74h1v1h-1zM8 150h1v1h-1zM8 177h1v1h-1zM9 116h1v1h-1zM10 163h1v1h-1zM12 6h1v1h-1zM12 33h1v2h-1zM12 61h1v2h-1zM12 182h1v1h-1zM13 9h1v1h-1zM13 60h1v1h-1zM16 37h1v1h-1zM16 49h1v1h-1zM16 59h1v1h-1zM16 105h1v1h-1zM16 172h1v1h-1zM16 176h1v1h-1zM17 9h1v1h-1zM17 128h1v2h-1zM18 20h1v1h-1zM18 42h1v1h-1zM18 116h1v1h-1zM19 12h1v1h-1zM19 20h1v2h-1zM19 23h1v1h-1zM19 30h1v1h-1zM19 106h1v1h-1zM19 109h1v1h-1zM20 3h1v1h-1zM20 10h1v1h-1zM20 12h1v1h-1zM20 24h1v1h-1zM20 26h1v1h-1zM20 64h1v1h-1zM20 105h1v1h-1zM21 40h1v1h-1zM21 42h1v1h-1zM21 46h1v1h-1zM21 78h1v1h-1z"/>
<path fill="#E6534D" d="M3 168h1v1h-1zM5 134h1v1h-1zM7 149h1v1h-1zM7 164h1v1h-1zM7 167h1v1h-1zM8 146h1v1h-1zM8 149h1v1h-1zM8 154h1v1h-1zM9 56h1v1h-1zM9 59h1v2h-1zM10 161h1v1h-1zM12 4h1v1h-1zM12 7h1v1h-1zM12 32h1v1h-1zM16 34h1v2h-1zM16 44h1v1h-1zM16 47h1v1h-1zM17 126h1v1h-1zM18 38h1v1h-1zM18 88h1v3h-1zM19 29h1v1h-1zM19 111h1v1h-1zM20 38h1v1h-1zM20 43h1v1h-1zM21 13h1v1h-1z"/>
<path fill="#DE3C3A" d="M3 170h1v1h-1zM5 133h1v1h-1zM5 139h1v1h-1zM7 123h1v1h-1zM7 165h1v1h-1zM8 151h1v2h-1zM9 61h1v1h-1zM16 45h1v1h-1zM16 57h1v2h-1zM16 69h1v1h-1zM16 71h1v1h-1zM18 36h1v1h-1zM18 40h1v1h-1zM19 28h1v1h-1zM19 31h1v1h-1zM19 80h1v1h-1zM19 110h1v1h-1zM20 15h1v1h-1zM20 17h1v1h-1zM20 68h1v1h-1zM20 70h1v2h-1zM20 77h1v1h-1z"/>
<path fill="#D2272C" d="M3 169h1v1h-1zM3 171h1v1h-1zM3 174h1v1h-1zM5 132h1v1h-1zM5 136h1v1h-1zM5 138h1v1h-1zM5 140h1v1h-1zM5 142h1v1h-1zM6 112h1v1h-1zM7 150h1v1h-1zM8 145h1v1h-1zM8 155h1v1h-1zM9 57h1v1h-1zM9 162h1v1h-1zM10 160h1v1h-1zM16 67h1v1h-1zM16 183h1v1h-1zM17 124h1v2h-1zM17 131h1v1h-1zM18 37h1v1h-1zM18 92h1v1h-1zM19 83h1v1h-1zM19 85h1v1h-1zM19 108h1v1h-1zM20 13h1v2h-1zM20 42h1v1h-1zM20 79h1v1h-1zM21 79h1v1h-1z"/>
<path fill="#C6121E" d="M6 113h1v3h-1zM8 144h1v1h-1zM9 63h1v1h-1zM9 161h1v1h-1zM9 163h1v1h-1zM16 1h1v1h-1zM16 180h1v2h-1zM18 39h1v1h-1zM18 95h1v1h-1zM19 76h1v2h-1z"/>
<path fill="#B30E1D" d="M5 143h1v1h-1zM8 147h1v1h-1zM9 160h1v1h-1zM16 2h1v2h-1zM16 48h1v1h-1zM16 51h1v1h-1zM16 53h1v2h-1zM19 79h1v1h-1zM19 87h1v1h-1zM20 69h1v1h-1zM20 78h1v1h-1z"/>
<path fill="#A00A1C" d="M3 173h1v1h-1zM5 137h1v1h-1zM16 0h1v1h-1zM16 46h1v1h-1zM16 50h1v1h-1zM16 56h1v1h-1zM18 93h1v1h-1zM19 78h1v1h-1zM19 81h1v2h-1zM20 76h1v1h-1z"/>
<path fill="#870A1F" d="M3 172h1v1h-1zM16 52h1v1h-1zM16 55h1v1h-1zM16 182h1v1h-1zM17 127h1v1h-1zM18 94h1v1h-1z"/>
<path fill="#6E0A22" d="M19 86h1v1h-1z"/>
<path fill="#6E0A22" d="M19 84h1v1h-1z"/>
</g>
<text transform="translate(123.5 2619.6) rotate(90)" x="-0.00" y="0" font-size="24.4" fill="#000" textLength="82.38" lengthAdjust="spacingAndGlyphs" stroke="#000" stroke-width="0.5">AML006</text>
<text transform="translate(148 2619.6) rotate(90)" x="-1.64" y="0" font-size="24.4" fill="#000" textLength="91.15" lengthAdjust="spacingAndGlyphs" stroke="#000" stroke-width="0.5">PAWWEE</text>
<text transform="translate(172.6 2619.6) rotate(90)" x="-0.00" y="0" font-size="24.4" fill="#000" textLength="82.38" lengthAdjust="spacingAndGlyphs" stroke="#000" stroke-width="0.5">AML055</text>
<text transform="translate(197.1 2619.6) rotate(90)" x="-0.00" y="0" font-size="24.4" fill="#000" textLength="82.49" lengthAdjust="spacingAndGlyphs" stroke="#000" stroke-width="0.5">AML009</text>
<text transform="translate(221.7 2619.6) rotate(90)" x="-0.00" y="0" font-size="24.4" fill="#000" textLength="79.35" lengthAdjust="spacingAndGlyphs" stroke="#000" stroke-width="0.5">AML001</text>
<text transform="translate(246.2 2619.6) rotate(90)" x="-1.68" y="0" font-size="24.4" fill="#000" textLength="84.64" lengthAdjust="spacingAndGlyphs" stroke="#000" stroke-width="0.5">PAUMTZ</text>
<text transform="translate(270.8 2619.6) rotate(90)" x="-0.00" y="0" font-size="24.4" fill="#000" textLength="82.38" lengthAdjust="spacingAndGlyphs" stroke="#000" stroke-width="0.5">AML025</text>
<text transform="translate(295.3 2619.6) rotate(90)" x="-0.00" y="0" font-size="24.4" fill="#000" textLength="82.38" lengthAdjust="spacingAndGlyphs" stroke="#000" stroke-width="0.5">AML005</text>
<text transform="translate(319.9 2619.6) rotate(90)" x="-0.00" y="0" font-size="24.4" fill="#000" textLength="82.49" lengthAdjust="spacingAndGlyphs" stroke="#000" stroke-width="0.5">AML052</text>
<text transform="translate(344.4 2619.6) rotate(90)" x="-0.00" y="0" font-size="24.4" fill="#000" textLength="82.38" lengthAdjust="spacingAndGlyphs" stroke="#000" stroke-width="0.5">AML048</text>
<text transform="translate(369 2619.6) rotate(90)" x="-0.00" y="0" font-size="24.4" fill="#000" textLength="82.38" lengthAdjust="spacingAndGlyphs" stroke="#000" stroke-width="0.5">AML026</text>
<text transform="translate(393.5 2619.6) rotate(90)" x="-0.00" y="0" font-size="24.4" fill="#000" textLength="79.35" lengthAdjust="spacingAndGlyphs" stroke="#000" stroke-width="0.5">AML051</text>
<text transform="translate(418 2619.6) rotate(90)" x="-0.00" y="0" font-size="24.4" fill="#000" textLength="82.38" lengthAdjust="spacingAndGlyphs" stroke="#000" stroke-width="0.5">AML038</text>
<text transform="translate(442.6 2619.6) rotate(90)" x="-1.79" y="0" font-size="24.4" fill="#000" textLength="79.21" lengthAdjust="spacingAndGlyphs" stroke="#000" stroke-width="0.5">PAXMIJ</text>
<text transform="translate(467.1 2619.6) rotate(90)" x="-0.00" y="0" font-size="24.4" fill="#000" textLength="82.38" lengthAdjust="spacingAndGlyphs" stroke="#000" stroke-width="0.5">AML073</text>
<text transform="translate(491.7 2619.6) rotate(90)" x="-0.00" y="0" font-size="24.4" fill="#000" textLength="82.49" lengthAdjust="spacingAndGlyphs" stroke="#000" stroke-width="0.5">AML022</text>
<text transform="translate(516.2 2619.6) rotate(90)" x="-0.00" y="0" font-size="24.4" fill="#000" textLength="82.38" lengthAdjust="spacingAndGlyphs" stroke="#000" stroke-width="0.5">AML028</text>
<text transform="translate(540.8 2619.6) rotate(90)" x="-0.00" y="0" font-size="24.4" fill="#000" textLength="82.38" lengthAdjust="spacingAndGlyphs" stroke="#000" stroke-width="0.5">AML003</text>
<text transform="translate(565.3 2619.6) rotate(90)" x="-0.00" y="0" font-size="24.4" fill="#000" textLength="82.49" lengthAdjust="spacingAndGlyphs" stroke="#000" stroke-width="0.5">AML012</text>
<text transform="translate(589.9 2619.6) rotate(90)" x="-0.00" y="0" font-size="24.4" fill="#000" textLength="82.38" lengthAdjust="spacingAndGlyphs" stroke="#000" stroke-width="0.5">AML056</text>
<text transform="translate(614.4 2619.6) rotate(90)" x="-0.00" y="0" font-size="24.4" fill="#000" textLength="82.38" lengthAdjust="spacingAndGlyphs" stroke="#000" stroke-width="0.5">AML008</text>
<text transform="translate(638.9 2619.6) rotate(90)" x="-0.00" y="0" font-size="24.4" fill="#000" textLength="82.38" lengthAdjust="spacingAndGlyphs" stroke="#000" stroke-width="0.5">AML043</text>
<defs><linearGradient id="cb1" x1="0" y1="0" x2="0" y2="1"><stop offset="0%" stop-color="#6E0A22"/><stop offset="6.2%" stop-color="#A00A1C"/><stop offset="12.5%" stop-color="#C6121E"/><stop offset="18.8%" stop-color="#DE3C3A"/><stop offset="25%" stop-color="#EE6A60"/><stop offset="31.2%" stop-color="#F79687"/><stop offset="37.5%" stop-color="#FBC0B2"/><stop offset="43.8%" stop-color="#FDE4DD"/><stop offset="50%" stop-color="#FFFFFF"/><stop offset="56.2%" stop-color="#E4F7F9"/><stop offset="62.5%" stop-color="#C4EEF2"/><stop offset="68.8%" stop-color="#9BE4EC"/><stop offset="75%" stop-color="#69C8E1"/><stop offset="81.2%" stop-color="#46A5E1"/><stop offset="87.5%" stop-color="#2878E8"/><stop offset="93.8%" stop-color="#1850D2"/><stop offset="100%" stop-color="#161E78"/></linearGradient></defs>
<rect x="664.5" y="1892.7" width="13" height="194.3" fill="url(#cb1)"/>
<text x="683.10" y="1894.8" font-size="17.5" fill="#000" textLength="9.25" lengthAdjust="spacingAndGlyphs" stroke="#000" stroke-width="0.3">4</text>
<text x="683.10" y="1945.4" font-size="17.5" fill="#000" textLength="9.25" lengthAdjust="spacingAndGlyphs" stroke="#000" stroke-width="0.3">2</text>
<text x="683.10" y="1994.5" font-size="17.5" fill="#000" textLength="9.25" lengthAdjust="spacingAndGlyphs" stroke="#000" stroke-width="0.3">0</text>
<text x="683.10" y="2044.2" font-size="17.5" fill="#000" textLength="18.96" lengthAdjust="spacingAndGlyphs" stroke="#000" stroke-width="0.3">−2</text>
<text x="683.10" y="2090.3" font-size="17.5" fill="#000" textLength="18.96" lengthAdjust="spacingAndGlyphs" stroke="#000" stroke-width="0.3">−4</text>
<text x="675.38" y="2163.7" font-size="21" fill="#000" textLength="75.05" lengthAdjust="spacingAndGlyphs" stroke="#000" stroke-width="0.3">Max CT</text>
<rect x="677.1" y="2169.5" width="18.4" height="18.6" fill="#3C9BE4"/>
<text x="698.30" y="2183" font-size="18.5" fill="#000" textLength="48.57" lengthAdjust="spacingAndGlyphs" stroke="#000" stroke-width="0.3">HSPC</text>
<rect x="677.1" y="2187.9" width="18.4" height="18.6" fill="#F8533A"/>
<text x="698.05" y="2202" font-size="18.5" fill="#000" textLength="70.90" lengthAdjust="spacingAndGlyphs" stroke="#000" stroke-width="0.3">Myeloid</text>
<text x="677.10" y="2230.6" font-size="21" fill="#000" textLength="107.83" lengthAdjust="spacingAndGlyphs" stroke="#000" stroke-width="0.3">Age group</text>
<rect x="677.1" y="2239" width="18.4" height="18.9" fill="#A6F58A"/>
<text x="697.88" y="2253.2" font-size="18.5" fill="#000" textLength="60.56" lengthAdjust="spacingAndGlyphs" stroke="#000" stroke-width="0.3">Infants</text>
<rect x="677.1" y="2257.8" width="18.4" height="18.9" fill="#6EEC8C"/>
<text x="698.69" y="2271.9" font-size="18.5" fill="#000" textLength="75.21" lengthAdjust="spacingAndGlyphs" stroke="#000" stroke-width="0.3">Children</text>
<rect x="677.1" y="2276.6" width="18.4" height="18.8" fill="#3C9BE4"/>
<text x="699.31" y="2290.8" font-size="18.5" fill="#000" textLength="51.53" lengthAdjust="spacingAndGlyphs" stroke="#000" stroke-width="0.3">Teens</text>
<text x="675.43" y="2315.5" font-size="21" fill="#000" textLength="40.55" lengthAdjust="spacingAndGlyphs" stroke="#000" stroke-width="0.3">Risk</text>
<rect x="677.1" y="2321" width="18.4" height="18.9" fill="#3C9BE4"/>
<text x="698.08" y="2335.1" font-size="18.5" fill="#000" textLength="37.11" lengthAdjust="spacingAndGlyphs" stroke="#000" stroke-width="0.3">Low</text>
<rect x="677.1" y="2339.8" width="18.4" height="18.8" fill="#F99B4B"/>
<text x="697.85" y="2354.1" font-size="18.5" fill="#000" textLength="114.04" lengthAdjust="spacingAndGlyphs" stroke="#000" stroke-width="0.3">Intermediate</text>
<rect x="677.1" y="2358.5" width="18.4" height="18.8" fill="#8E0A4A"/>
<text x="697.99" y="2372.8" font-size="18.5" fill="#000" textLength="44.03" lengthAdjust="spacingAndGlyphs" stroke="#000" stroke-width="0.3">High</text>
<text x="875.70" y="1739.7" font-size="38" fill="#000" textLength="37.98" lengthAdjust="spacingAndGlyphs">G.</text>
<path d="M1043.5 1791.5V1743.6H1069.4V1791.5M1121.2 1791.5V1767.4H1147.1V1791.5M1199 1791.5V1763.8H1224.9V1791.5M1173.1 1791.5V1761.7H1211.9V1763.8M1276.7 1791.5V1764.4H1302.7V1791.5M1250.8 1791.5V1759.9H1289.7V1764.4M1192.5 1761.7V1756.9H1270.3V1759.9M1134.2 1767.4V1750.2H1231.4V1756.9M1095.3 1791.5V1746.6H1182.8V1750.2M1458.2 1791.5V1773.1H1484.1V1791.5M1432.3 1791.5V1767.7H1471.1V1773.1M1406.3 1791.5V1767.1H1451.7V1767.7M1380.4 1791.5V1755.7H1429V1767.1M1354.5 1791.5V1754.8H1404.7V1755.7M1510 1791.5V1753.3H1535.9V1791.5M1379.6 1754.8V1745.7H1523V1753.3M1328.6 1791.5V1739.7H1451.3V1745.7M1139 1746.6V1730.7H1389.9V1739.7M1056.4 1743.6V1720.7H1264.5V1730.7" fill="none" stroke="#1c1c1c" stroke-width="1.25"/>
<path d="M1030.5 1827.1H1014V1830.2H1030.5M1014 1828.6H1011V1833.4H1030.5M1030.5 1836.5H1012.9V1839.7H1030.5M1030.5 1842.8H1010.5V1845.9H1030.5M1012.9 1838.1H1008.1V1844.4H1010.5M1011 1831H1001V1841.2H1008.1M1030.5 1852.2H1013.6V1855.4H1030.5M1013.6 1853.8H1011.4V1858.5H1030.5M1030.5 1849.1H1005.1V1856.2H1011.4M1001 1836.1H995.4V1852.6H1005.1M1030.5 1864.8H1011.1V1868H1030.5M1030.5 1861.7H1008.3V1866.4H1011.1M1008.3 1864H1003.9V1871.1H1030.5M1030.5 1877.4H1014.7V1880.5H1030.5M1030.5 1874.2H1007.7V1879H1014.7M1007.7 1876.6H1005.7V1883.7H1030.5M1003.9 1867.6H1001.9V1880.1H1005.7M995.4 1844.4H993.4V1873.9H1001.9M1030.5 1896.3H1013.4V1899.4H1030.5M1013.4 1897.8H1007.3V1902.5H1030.5M1030.5 1893.1H1005.3V1900.2H1007.3M1030.5 1890H1003.3V1896.7H1005.3M1003.3 1893.3H1001.3V1905.7H1030.5M1030.5 1886.8H999.3V1899.5H1001.3M1030.5 1912H1013.7V1915.1H1030.5M1030.5 1918.3H1010.3V1921.4H1030.5M1010.3 1919.8H1008.3V1924.6H1030.5M1013.7 1913.6H1005.9V1922.2H1008.3M1030.5 1908.8H1003.9V1917.9H1005.9M999.3 1893.2H991.3V1913.4H1003.9M993.4 1859.1H982.9V1903.3H991.3M1030.5 1927.7H1013.5V1930.9H1030.5M1013.5 1929.3H1007.8V1934H1030.5M1007.8 1931.6H1005.8V1937.1H1030.5M1030.5 1940.3H1014.6V1943.4H1030.5M1030.5 1949.7H1013.9V1952.9H1030.5M1030.5 1946.6H1008.9V1951.3H1013.9M1014.6 1941.9H1004V1948.9H1008.9M1005.8 1934.4H996.9V1945.4H1004M996.9 1939.9H994.9V1956H1030.5M1030.5 1962.3H1010.3V1965.4H1030.5M1030.5 1959.2H1008.3V1963.9H1010.3M1030.5 1971.7H1012.7V1974.9H1030.5M1030.5 1968.6H1008.2V1973.3H1012.7M1008.3 1961.5H1002.6V1970.9H1008.2M1030.5 1978H1014.2V1981.2H1030.5M1014.2 1979.6H1011.5V1984.3H1030.5M1030.5 1987.5H1013.9V1990.6H1030.5M1011.5 1982H1005.3V1989H1013.9M1002.6 1966.2H998.7V1985.5H1005.3M994.9 1948H989.1V1975.9H998.7M1030.5 1993.7H1011.4V1996.9H1030.5M1030.5 2000H1012.7V2003.2H1030.5M1011.4 1995.3H1005.8V2001.6H1012.7M989.1 1961.9H983.5V1998.5H1005.8M1030.5 2006.3H1013.1V2009.5H1030.5M1030.5 2012.6H1012.7V2015.8H1030.5M1012.7 2014.2H1010.7V2018.9H1030.5M1030.5 2022H1014.6V2025.2H1030.5M1014.6 2023.6H1011.8V2028.3H1030.5M1010.7 2016.5H1003.9V2026H1011.8M1030.5 2034.6H1012.9V2037.8H1030.5M1030.5 2031.5H1008.3V2036.2H1012.9M1030.5 2040.9H1014.3V2044.1H1030.5M1008.3 2033.8H1006.3V2042.5H1014.3M1030.5 2047.2H1012.4V2050.4H1030.5M1006.3 2038.2H1003.9V2048.8H1012.4M1003.9 2021.3H996.8V2043.5H1003.9M1013.1 2007.9H989.4V2032.4H996.8M1030.5 2053.5H1010.4V2056.6H1030.5M1010.4 2055.1H1008.4V2059.8H1030.5M1030.5 2062.9H1011.6V2066.1H1030.5M1030.5 2069.2H1010.4V2072.4H1030.5M1011.6 2064.5H1008.4V2070.8H1010.4M1008.4 2057.4H999.2V2067.6H1008.4M989.4 2020.1H987.4V2062.5H999.2M1030.5 2075.5H1012.5V2078.7H1030.5M1030.5 2081.8H1011.8V2084.9H1030.5M1030.5 2088.1H1013.6V2091.2H1030.5M1030.5 2097.5H1010.9V2100.7H1030.5M1030.5 2103.8H1012.7V2107H1030.5M1010.9 2099.1H1008.1V2105.4H1012.7M1030.5 2094.4H1003.4V2102.2H1008.1M1013.6 2089.7H1001.4V2098.3H1003.4M1011.8 2083.4H999.4V2094H1001.4M1012.5 2077.1H997.4V2088.7H999.4M987.4 2041.3H981.4V2082.9H997.4M983.5 1980.2H979.4V2062.1H981.4M1030.5 2113.2H1013.6V2116.4H1030.5M1030.5 2110.1H1008.8V2114.8H1013.6M1030.5 2119.5H1014.3V2122.7H1030.5M1008.8 2112.5H1005.3V2121.1H1014.3M1005.3 2116.8H1003.3V2125.8H1030.5M1030.5 2129H1011.2V2132.1H1030.5M1030.5 2135.3H1011.4V2138.4H1030.5M1011.4 2136.8H1009.4V2141.6H1030.5M1009.4 2139.2H1005.1V2144.7H1030.5M1030.5 2147.8H1013.4V2151H1030.5M1005.1 2141.9H1001V2149.4H1013.4M1011.2 2130.5H997.1V2145.7H1001M1030.5 2157.3H1014.7V2160.4H1030.5M1030.5 2154.1H1007V2158.8H1014.7M1030.5 2163.6H1014.3V2166.7H1030.5M1014.3 2165.1H1008V2169.9H1030.5M1007 2156.5H1001.2V2167.5H1008M997.1 2138.1H993.5V2162H1001.2M1030.5 2173H1011.7V2176.1H1030.5M1030.5 2182.4H1013V2185.6H1030.5M1030.5 2179.3H1010.2V2184H1013M1011.7 2174.6H1007.1V2181.6H1010.2M1030.5 2188.7H1010.7V2191.9H1030.5M1007.1 2178.1H999.5V2190.3H1010.7M993.5 2150.1H989.8V2184.2H999.5M1003.3 2121.3H983.4V2167.1H989.8M979.4 2021.1H974.7V2144.2H983.4M1030.5 2198.2H1011.5V2201.3H1030.5M1030.5 2204.4H1011.4V2207.6H1030.5M1011.4 2206H1007.1V2210.7H1030.5M1007.1 2208.4H1005.1V2213.9H1030.5M1011.5 2199.7H1001.4V2211.1H1005.1M1030.5 2217H1010.8V2220.2H1030.5M1030.5 2223.3H1014.4V2226.5H1030.5M1014.4 2224.9H1008.4V2229.6H1030.5M1010.8 2218.6H1005.9V2227.2H1008.4M1001.4 2205.4H996.5V2222.9H1005.9M1030.5 2195H994.1V2214.2H996.5M1030.5 2232.8H1010.7V2235.9H1030.5M1030.5 2239H1010.3V2242.2H1030.5M1010.7 2234.3H1008.3V2240.6H1010.3M994.1 2204.6H991.8V2237.5H1008.3M974.7 2082.7H972.7V2221H991.8M982.9 1881.2H966.9V2151.9H972.7M1030.5 2248.5H1011.6V2251.6H1030.5M1030.5 2245.3H1009.6V2250H1011.6M1030.5 2254.8H1010.8V2257.9H1030.5M1010.8 2256.3H1008.8V2261.1H1030.5M1008.8 2258.7H1005.4V2264.2H1030.5M1030.5 2267.3H1013.6V2270.5H1030.5M1013.6 2268.9H1007.6V2273.6H1030.5M1005.4 2261.4H1003.4V2271.3H1007.6M1009.6 2247.7H1001.4V2266.4H1003.4M1030.5 2276.8H1013.6V2279.9H1030.5M1030.5 2283.1H1014.8V2286.2H1030.5M1013.6 2278.4H1009.5V2284.6H1014.8M1030.5 2295.6H1014.8V2298.8H1030.5M1030.5 2292.5H1009.3V2297.2H1014.8M1030.5 2289.4H1006.1V2294.9H1009.3M1030.5 2301.9H1013.9V2305.1H1030.5M1030.5 2308.2H1010.9V2311.4H1030.5M1013.9 2303.5H1005.6V2309.8H1010.9M1030.5 2314.5H1013.5V2317.7H1030.5M1013.5 2316.1H1007.9V2320.8H1030.5M1005.6 2306.7H1002.2V2318.4H1007.9M1030.5 2324H1010.7V2327.1H1030.5M1030.5 2330.2H1012.3V2333.4H1030.5M1012.3 2331.8H1009.6V2336.5H1030.5M1030.5 2342.8H1014.5V2346H1030.5M1030.5 2339.7H1008V2344.4H1014.5M1030.5 2349.1H1010.5V2352.3H1030.5M1008 2342H1006V2350.7H1010.5M1006 2346.4H1004V2355.4H1030.5M1009.6 2334.2H1002V2350.9H1004M1010.7 2325.5H996.8V2342.5H1002M1002.2 2312.6H988.9V2334H996.8M1006.1 2292.1H986.9V2323.3H988.9M1009.5 2281.5H984.9V2307.7H986.9M1030.5 2358.5H1012.2V2361.7H1030.5M1012.2 2360.1H1007.1V2364.8H1030.5M1007.1 2362.5H1005.1V2368H1030.5M984.9 2294.6H981.6V2365.2H1005.1M1030.5 2371.1H1011.1V2374.3H1030.5M1030.5 2377.4H1013.3V2380.6H1030.5M1030.5 2386.8H1014.5V2390H1030.5M1030.5 2396.3H1013.9V2399.4H1030.5M1030.5 2393.1H1009.2V2397.9H1013.9M1014.5 2388.4H1005.8V2395.5H1009.2M1030.5 2383.7H1003.8V2392H1005.8M1030.5 2402.6H1013.7V2405.7H1030.5M1003.8 2387.8H1001.6V2404.1H1013.7M1013.3 2379H997.6V2396H1001.6M1030.5 2408.9H1014V2412H1030.5M1030.5 2415.2H1012.5V2418.3H1030.5M1012.5 2416.7H1008.7V2421.4H1030.5M1014 2410.4H1006.7V2419.1H1008.7M997.6 2387.5H992.8V2414.8H1006.7M1011.1 2372.7H990.8V2401.1H992.8M981.6 2329.9H977.8V2386.9H990.8M1001.4 2257H975.8V2358.4H977.8M966.9 2016.5H964.9V2307.7H975.8M1030.5 2424.6H1010.4V2427.7H1030.5M1030.5 2430.9H1013.8V2434H1030.5M1010.4 2426.2H1008.4V2432.4H1013.8M1030.5 2437.2H1014.2V2440.3H1030.5M1008.4 2429.3H1004.1V2438.7H1014.2M1030.5 2446.6H1012.7V2449.7H1030.5M1030.5 2443.5H1010.7V2448.2H1012.7M1030.5 2452.9H1010.8V2456H1030.5M1030.5 2459.2H1013.2V2462.3H1030.5M1010.8 2454.5H1004V2460.7H1013.2M1030.5 2468.6H1010.9V2471.8H1030.5M1010.9 2470.2H1008.9V2474.9H1030.5M1030.5 2478H1011V2481.2H1030.5M1030.5 2484.3H1013.7V2487.5H1030.5M1011 2479.6H1007.6V2485.9H1013.7M1030.5 2490.6H1012.4V2493.8H1030.5M1030.5 2496.9H1011.7V2500.1H1030.5M1012.4 2492.2H1006.6V2498.5H1011.7M1007.6 2482.8H997.7V2495.3H1006.6M1008.9 2472.5H995.7V2489.1H997.7M1030.5 2465.5H993.4V2480.8H995.7M1004 2457.6H990.1V2473.1H993.4M1030.5 2506.3H1014V2509.5H1030.5M1030.5 2503.2H1011.5V2507.9H1014M1030.5 2512.6H1012.6V2515.8H1030.5M1012.6 2514.2H1007.9V2518.9H1030.5M1011.5 2505.6H1005.9V2516.6H1007.9M1030.5 2525.2H1013.4V2528.4H1030.5M1030.5 2531.5H1014.7V2534.7H1030.5M1030.5 2537.8H1010.8V2540.9H1030.5M1014.7 2533.1H1006.9V2539.4H1010.8M1013.4 2526.8H1004.1V2536.2H1006.9M1030.5 2544.1H1011.4V2547.2H1030.5M1004.1 2531.5H1002.1V2545.7H1011.4M1030.5 2553.5H1014.5V2556.7H1030.5M1030.5 2550.4H1008V2555.1H1014.5M1002.1 2538.6H1000.1V2552.7H1008M1030.5 2522.1H998.1V2545.7H1000.1M1005.9 2511.1H990.2V2533.9H998.1M990.1 2465.4H979.3V2522.5H990.2M1010.7 2445.8H977.3V2493.9H979.3M1004.1 2434H975.3V2469.9H977.3M1030.5 2563H1013.3V2566.1H1030.5M1030.5 2559.8H1007.2V2564.5H1013.3M1030.5 2569.2H1012.5V2572.4H1030.5M1030.5 2575.5H1011.8V2578.7H1030.5M1012.5 2570.8H1005.2V2577.1H1011.8M1030.5 2581.8H1013.8V2585H1030.5M1030.5 2591.3H1012.5V2594.4H1030.5M1030.5 2588.1H1010.5V2592.8H1012.5M1013.8 2583.4H1002.4V2590.5H1010.5M1005.2 2574H998.4V2586.9H1002.4M1030.5 2597.5H1014.2V2600.7H1030.5M1014.2 2599.1H1007.2V2603.8H1030.5M998.4 2580.4H996.4V2601.5H1007.2M1007.2 2562.2H989.9V2591H996.4M1030.5 2607H1010.8V2610.1H1030.5M989.9 2576.6H987.9V2608.6H1010.8M975.3 2451.9H973.3V2592.6H987.9M964.9 2162.1H961.8V2522.3H973.3" fill="none" stroke="#1c1c1c" stroke-width="1.2"/>
<rect x="1030.5" y="1792.4" width="259.5" height="13" fill="#F8533A"/>
<rect x="1289.7" y="1792.4" width="26.2" height="13" fill="#3C9BE4"/>
<rect x="1315.6" y="1792.4" width="26.2" height="13" fill="#F8533A"/>
<rect x="1341.5" y="1792.4" width="155.8" height="13" fill="#3C9BE4"/>
<rect x="1497.1" y="1792.4" width="26.2" height="13" fill="#F8533A"/>
<rect x="1523" y="1792.4" width="26.2" height="13" fill="#3C9BE4"/>
<rect x="1030.5" y="1808.4" width="129.9" height="13.2" fill="#E0184F"/>
<rect x="1160.1" y="1808.4" width="26.2" height="13.2" fill="#F99B4B"/>
<rect x="1186" y="1808.4" width="26.2" height="13.2" fill="#E0184F"/>
<rect x="1211.9" y="1808.4" width="26.2" height="13.2" fill="#F99B4B"/>
<rect x="1237.9" y="1808.4" width="104" height="13.2" fill="#E0184F"/>
<rect x="1341.5" y="1808.4" width="26.2" height="13.2" fill="#F99B4B"/>
<rect x="1367.5" y="1808.4" width="52.1" height="13.2" fill="#E0184F"/>
<rect x="1419.3" y="1808.4" width="26.2" height="13.2" fill="#F99B4B"/>
<rect x="1445.2" y="1808.4" width="104" height="13.2" fill="#E0184F"/>
<text x="1551.55" y="1803.9" font-size="18.5" fill="#000" textLength="63.62" lengthAdjust="spacingAndGlyphs" stroke="#000" stroke-width="0.3">Max CT</text>
<text x="1553.00" y="1820.4" font-size="18.5" fill="#000" textLength="91.19" lengthAdjust="spacingAndGlyphs" stroke="#000" stroke-width="0.3">Age group</text>
<rect x="1030.5" y="1825.5" width="518.4" height="786.2" fill="#E6F4F6"/>
<g transform="translate(1030.5 1825.5) scale(25.9200 3.1448)" shape-rendering="crispEdges">
<path fill="#378EE4" d="M5 26h1v1h-1zM13 124h1v1h-1z"/>
<path fill="#46A5E1" d="M1 8h1v1h-1zM11 40h1v1h-1zM11 43h1v1h-1zM12 56h1v1h-1zM14 158h1v1h-1z"/>
<path fill="#58B6E1" d="M12 134h1v1h-1zM13 61h1v2h-1zM13 75h1v1h-1zM13 83h1v1h-1zM14 211h1v1h-1zM14 213h1v1h-1zM14 220h1v1h-1zM14 224h1v1h-1z"/>
<path fill="#69C8E1" d="M1 5h1v1h-1zM1 9h1v1h-1zM5 25h1v1h-1zM5 27h1v1h-1zM11 42h1v1h-1zM12 59h1v1h-1zM13 77h1v1h-1zM13 80h1v2h-1zM13 122h1v1h-1zM14 123h1v1h-1zM14 216h1v1h-1z"/>
<path fill="#82D6E6" d="M4 47h1v1h-1zM4 70h1v1h-1zM4 73h1v1h-1zM11 158h1v1h-1zM12 80h1v1h-1zM12 127h1v1h-1zM13 121h1v1h-1zM13 248h1v1h-1zM14 83h1v1h-1zM14 156h1v2h-1zM14 212h1v1h-1zM14 219h1v1h-1zM14 222h1v1h-1zM16 141h1v1h-1zM17 155h1v1h-1z"/>
<path fill="#9BE4EC" d="M1 113h1v1h-1zM3 65h1v1h-1zM3 199h1v1h-1zM4 51h1v1h-1zM4 65h1v1h-1zM4 71h1v1h-1zM5 29h1v1h-1zM11 2h1v1h-1zM11 23h1v1h-1zM11 137h1v1h-1zM11 142h1v1h-1zM11 225h1v1h-1zM11 228h1v1h-1zM11 230h1v1h-1zM12 121h1v1h-1zM12 125h1v1h-1zM12 188h1v1h-1zM12 190h1v1h-1zM12 218h1v1h-1zM12 225h1v1h-1zM12 230h1v1h-1zM12 232h1v1h-1zM13 64h1v1h-1zM13 66h1v1h-1zM13 78h1v1h-1zM13 82h1v1h-1zM13 137h1v1h-1zM13 144h1v1h-1zM13 217h1v1h-1zM13 223h1v1h-1zM13 225h1v1h-1zM13 241h1v1h-1zM14 69h1v1h-1zM14 75h1v1h-1zM14 120h1v1h-1zM14 122h1v1h-1zM14 137h1v1h-1zM14 145h1v2h-1zM14 151h1v1h-1zM14 155h1v1h-1zM14 190h1v1h-1zM14 221h1v1h-1zM14 249h1v1h-1zM15 40h1v1h-1zM15 48h1v1h-1zM15 135h1v1h-1zM15 193h1v1h-1zM15 219h1v1h-1zM15 224h1v1h-1zM15 234h1v1h-1zM15 248h1v1h-1zM16 162h1v1h-1zM16 164h1v1h-1zM16 197h1v1h-1zM16 208h1v1h-1zM16 212h1v2h-1zM16 224h1v1h-1zM16 243h1v1h-1zM17 111h1v1h-1zM17 116h1v1h-1zM17 199h1v1h-1zM17 209h1v1h-1zM17 220h1v3h-1zM17 226h1v2h-1zM17 245h1v1h-1zM19 149h1v1h-1zM19 226h1v1h-1z"/>
<path fill="#B0E9EF" d="M0 26h1v1h-1zM0 129h1v1h-1zM0 168h1v1h-1zM1 43h1v1h-1zM2 63h1v1h-1zM3 0h1v1h-1zM3 187h1v1h-1zM3 245h1v2h-1zM3 248h1v1h-1zM4 40h1v1h-1zM4 46h1v1h-1zM4 67h1v1h-1zM4 69h1v1h-1zM4 77h1v1h-1zM4 79h1v1h-1zM4 85h1v1h-1zM4 207h1v1h-1zM4 209h1v1h-1zM4 245h1v1h-1zM5 0h1v2h-1zM5 3h1v2h-1zM9 186h1v2h-1zM9 191h1v1h-1zM9 193h1v3h-1zM9 197h1v1h-1zM11 35h1v1h-1zM11 41h1v1h-1zM11 45h1v1h-1zM11 86h1v1h-1zM11 130h1v2h-1zM11 133h1v1h-1zM11 139h1v2h-1zM11 144h1v1h-1zM11 146h1v1h-1zM11 229h1v1h-1zM11 233h1v2h-1zM12 78h1v1h-1zM12 87h1v1h-1zM12 100h1v1h-1zM12 102h1v1h-1zM12 122h1v1h-1zM12 144h1v1h-1zM12 147h1v1h-1zM12 149h1v2h-1zM12 185h1v1h-1zM12 187h1v1h-1zM12 219h1v2h-1zM12 223h1v1h-1zM12 227h1v1h-1zM12 229h1v1h-1zM12 236h1v1h-1zM13 26h1v1h-1zM13 29h1v1h-1zM13 63h1v1h-1zM13 76h1v1h-1zM13 79h1v1h-1zM13 84h1v1h-1zM13 89h1v1h-1zM13 120h1v1h-1zM13 133h1v1h-1zM13 139h1v1h-1zM13 141h1v1h-1zM13 143h1v1h-1zM13 210h1v1h-1zM13 213h1v1h-1zM13 215h1v1h-1zM13 221h1v1h-1zM13 228h1v1h-1zM13 230h1v1h-1zM13 235h1v1h-1zM13 240h1v1h-1zM13 249h1v1h-1zM14 30h1v1h-1zM14 66h1v1h-1zM14 73h1v1h-1zM14 80h1v2h-1zM14 84h1v1h-1zM14 100h1v1h-1zM14 104h1v1h-1zM14 131h1v2h-1zM14 135h1v2h-1zM14 139h1v1h-1zM14 144h1v1h-1zM14 150h1v1h-1zM14 161h1v2h-1zM14 186h1v1h-1zM14 189h1v1h-1zM14 191h1v3h-1zM14 202h1v1h-1zM14 205h1v1h-1zM14 208h1v1h-1zM14 210h1v1h-1zM14 214h1v2h-1zM14 217h1v1h-1zM14 223h1v1h-1zM14 234h1v1h-1zM14 237h1v1h-1zM14 239h1v2h-1zM14 242h1v1h-1zM15 47h1v1h-1zM15 121h1v1h-1zM15 123h1v1h-1zM15 130h1v1h-1zM15 133h1v2h-1zM15 139h1v1h-1zM15 141h1v1h-1zM15 144h1v1h-1zM15 182h1v1h-1zM15 191h1v1h-1zM15 194h1v1h-1zM15 216h1v1h-1zM15 218h1v1h-1zM15 220h1v2h-1zM15 223h1v1h-1zM15 236h1v1h-1zM15 238h1v1h-1zM15 249h1v1h-1zM16 144h1v1h-1zM16 163h1v1h-1zM16 196h1v1h-1zM16 210h1v1h-1zM16 215h1v1h-1zM16 218h1v1h-1zM16 220h1v1h-1zM16 228h1v1h-1zM16 241h1v1h-1zM16 245h1v1h-1zM17 110h1v1h-1zM17 112h1v1h-1zM17 138h1v2h-1zM17 141h1v1h-1zM17 156h1v1h-1zM17 159h1v1h-1zM17 211h1v1h-1zM17 213h1v1h-1zM17 218h1v1h-1zM17 229h1v2h-1zM17 235h1v1h-1zM17 241h1v1h-1zM17 248h1v1h-1zM18 26h1v1h-1zM19 21h1v2h-1zM19 105h1v1h-1zM19 107h1v2h-1zM19 137h1v1h-1zM19 141h1v1h-1zM19 145h1v1h-1zM19 234h1v1h-1z"/>
<path fill="#C4EEF2" d="M0 29h1v1h-1zM0 31h1v1h-1zM0 106h1v1h-1zM0 110h1v1h-1zM0 169h1v1h-1zM0 198h1v1h-1zM1 1h1v1h-1zM1 3h1v1h-1zM1 6h1v1h-1zM1 31h1v1h-1zM1 36h1v1h-1zM1 39h1v2h-1zM1 42h1v1h-1zM1 44h1v1h-1zM1 108h1v1h-1zM1 114h1v1h-1zM2 17h1v1h-1zM2 29h1v1h-1zM2 61h1v1h-1zM2 73h1v1h-1zM2 89h1v1h-1zM2 98h1v1h-1zM2 115h1v1h-1zM2 174h1v1h-1zM3 3h1v1h-1zM3 9h1v1h-1zM3 14h1v1h-1zM3 67h1v1h-1zM3 85h1v2h-1zM3 89h1v1h-1zM3 91h1v1h-1zM3 186h1v1h-1zM3 189h1v1h-1zM3 195h1v2h-1zM3 201h1v1h-1zM3 211h1v1h-1zM4 1h1v1h-1zM4 4h1v1h-1zM4 41h1v2h-1zM4 52h1v1h-1zM4 56h1v1h-1zM4 68h1v1h-1zM4 74h1v1h-1zM4 88h1v2h-1zM4 101h1v1h-1zM4 205h1v1h-1zM4 246h1v1h-1zM4 249h1v1h-1zM5 2h1v1h-1zM5 28h1v1h-1zM5 77h1v1h-1zM5 118h1v1h-1zM5 126h1v1h-1zM5 129h1v1h-1zM5 223h1v1h-1zM6 38h1v1h-1zM6 132h1v1h-1zM6 181h1v1h-1zM7 184h1v1h-1zM7 202h1v1h-1zM8 38h1v1h-1zM8 49h1v1h-1zM8 64h1v1h-1zM8 74h1v1h-1zM8 122h1v1h-1zM8 125h1v1h-1zM8 167h1v1h-1zM8 178h1v1h-1zM9 20h1v1h-1zM9 24h1v1h-1zM9 53h1v1h-1zM9 99h1v1h-1zM9 166h1v1h-1zM9 185h1v1h-1zM9 192h1v1h-1zM9 241h1v1h-1zM9 243h1v1h-1zM10 138h1v1h-1zM10 180h1v1h-1zM10 192h1v2h-1zM10 204h1v1h-1zM10 218h1v1h-1zM10 234h1v1h-1zM10 238h1v1h-1zM11 0h1v1h-1zM11 11h1v1h-1zM11 22h1v1h-1zM11 32h1v1h-1zM11 37h1v1h-1zM11 47h1v1h-1zM11 52h1v1h-1zM11 87h1v1h-1zM11 89h1v1h-1zM11 127h1v1h-1zM11 134h1v3h-1zM11 147h1v1h-1zM11 159h1v1h-1zM11 177h1v1h-1zM11 179h1v1h-1zM11 218h1v1h-1zM11 226h1v2h-1zM11 231h1v2h-1zM11 237h1v1h-1zM12 58h1v1h-1zM12 66h1v1h-1zM12 75h1v1h-1zM12 77h1v1h-1zM12 83h1v3h-1zM12 88h1v1h-1zM12 101h1v1h-1zM12 118h1v1h-1zM12 126h1v1h-1zM12 130h1v4h-1zM12 135h1v1h-1zM12 140h1v1h-1zM12 142h1v1h-1zM12 153h1v1h-1zM12 191h1v1h-1zM12 194h1v1h-1zM12 202h1v1h-1zM12 224h1v1h-1zM12 226h1v1h-1zM12 233h1v2h-1zM12 237h1v1h-1zM12 249h1v1h-1zM13 28h1v1h-1zM13 32h1v1h-1zM13 60h1v1h-1zM13 65h1v1h-1zM13 67h1v1h-1zM13 69h1v2h-1zM13 85h1v1h-1zM13 87h1v1h-1zM13 96h1v1h-1zM13 109h1v1h-1zM13 123h1v1h-1zM13 125h1v1h-1zM13 129h1v1h-1zM13 135h1v2h-1zM13 216h1v1h-1zM13 218h1v1h-1zM13 227h1v1h-1zM13 234h1v1h-1zM13 236h1v3h-1zM13 242h1v2h-1zM13 246h1v1h-1zM14 0h1v1h-1zM14 2h1v1h-1zM14 4h1v1h-1zM14 20h1v1h-1zM14 31h1v1h-1zM14 33h1v1h-1zM14 45h1v1h-1zM14 65h1v1h-1zM14 74h1v1h-1zM14 78h1v2h-1zM14 82h1v1h-1zM14 94h1v1h-1zM14 102h1v1h-1zM14 107h1v2h-1zM14 111h1v3h-1zM14 117h1v1h-1zM14 119h1v1h-1zM14 121h1v1h-1zM14 130h1v1h-1zM14 138h1v1h-1zM14 140h1v3h-1zM14 147h1v1h-1zM14 149h1v1h-1zM14 160h1v1h-1zM14 163h1v2h-1zM14 175h1v1h-1zM14 200h1v1h-1zM14 209h1v1h-1zM14 230h1v1h-1zM14 233h1v1h-1zM14 241h1v1h-1zM14 244h1v1h-1zM15 41h1v1h-1zM15 46h1v1h-1zM15 49h1v1h-1zM15 81h1v1h-1zM15 84h1v1h-1zM15 124h1v1h-1zM15 131h1v1h-1zM15 138h1v1h-1zM15 143h1v1h-1zM15 145h1v1h-1zM15 148h1v2h-1zM15 160h1v1h-1zM15 187h1v3h-1zM15 196h1v1h-1zM15 207h1v1h-1zM15 215h1v1h-1zM15 222h1v1h-1zM15 232h1v1h-1zM15 237h1v1h-1zM15 241h1v1h-1zM15 244h1v1h-1zM16 15h1v2h-1zM16 52h1v1h-1zM16 66h1v1h-1zM16 88h1v1h-1zM16 136h1v4h-1zM16 158h1v1h-1zM16 161h1v1h-1zM16 195h1v1h-1zM16 198h1v2h-1zM16 205h1v1h-1zM16 209h1v1h-1zM16 217h1v1h-1zM16 230h1v1h-1zM16 232h1v2h-1zM16 236h1v3h-1zM16 242h1v1h-1zM17 12h1v1h-1zM17 17h1v1h-1zM17 30h1v1h-1zM17 82h1v1h-1zM17 88h1v1h-1zM17 114h1v1h-1zM17 117h1v1h-1zM17 119h1v1h-1zM17 130h1v2h-1zM17 134h1v1h-1zM17 140h1v1h-1zM17 142h1v4h-1zM17 148h1v1h-1zM17 165h1v1h-1zM17 171h1v1h-1zM17 193h1v1h-1zM17 195h1v2h-1zM17 200h1v1h-1zM17 203h1v3h-1zM17 207h1v2h-1zM17 210h1v1h-1zM17 212h1v1h-1zM17 215h1v2h-1zM17 225h1v1h-1zM17 228h1v1h-1zM17 233h1v2h-1zM17 242h1v3h-1zM17 247h1v1h-1zM18 33h1v1h-1zM18 90h1v1h-1zM18 92h1v1h-1zM18 166h1v2h-1zM19 24h1v1h-1zM19 32h1v1h-1zM19 38h1v1h-1zM19 43h1v2h-1zM19 114h1v2h-1zM19 135h1v1h-1zM19 138h1v1h-1zM19 143h1v1h-1zM19 152h1v1h-1zM19 205h1v1h-1zM19 227h1v1h-1zM19 230h1v1h-1zM19 232h1v1h-1z"/>
<path fill="#D4F2F6" d="M0 10h1v1h-1zM0 13h1v2h-1zM0 18h1v1h-1zM0 20h1v1h-1zM0 25h1v1h-1zM0 30h1v1h-1zM0 34h1v1h-1zM0 107h1v1h-1zM0 109h1v1h-1zM0 115h1v2h-1zM0 126h1v3h-1zM0 165h1v2h-1zM0 174h1v1h-1zM0 197h1v1h-1zM0 199h1v1h-1zM1 7h1v1h-1zM1 15h1v2h-1zM1 18h1v1h-1zM1 34h1v1h-1zM1 38h1v1h-1zM1 41h1v1h-1zM1 107h1v1h-1zM1 109h1v3h-1zM1 165h1v3h-1zM2 13h1v2h-1zM2 27h1v1h-1zM2 60h1v1h-1zM2 66h1v2h-1zM2 70h1v1h-1zM2 77h1v2h-1zM2 80h1v1h-1zM2 82h1v2h-1zM2 87h1v1h-1zM2 91h1v1h-1zM2 94h1v1h-1zM2 96h1v2h-1zM2 99h1v2h-1zM2 102h1v2h-1zM3 2h1v1h-1zM3 4h1v1h-1zM3 7h1v1h-1zM3 13h1v1h-1zM3 15h1v1h-1zM3 50h1v3h-1zM3 55h1v3h-1zM3 59h1v1h-1zM3 62h1v2h-1zM3 66h1v1h-1zM3 70h1v1h-1zM3 76h1v2h-1zM3 81h1v3h-1zM3 87h1v1h-1zM3 93h1v1h-1zM3 95h1v2h-1zM3 99h1v1h-1zM3 171h1v1h-1zM3 173h1v1h-1zM3 175h1v1h-1zM3 177h1v1h-1zM3 180h1v2h-1zM3 185h1v1h-1zM3 191h1v4h-1zM3 197h1v2h-1zM3 203h1v1h-1zM3 205h1v1h-1zM3 213h1v2h-1zM3 228h1v1h-1zM3 234h1v1h-1zM3 240h1v1h-1zM3 242h1v2h-1zM4 0h1v1h-1zM4 8h1v1h-1zM4 10h1v2h-1zM4 13h1v1h-1zM4 18h1v1h-1zM4 36h1v1h-1zM4 39h1v1h-1zM4 44h1v2h-1zM4 48h1v1h-1zM4 55h1v1h-1zM4 57h1v2h-1zM4 61h1v1h-1zM4 66h1v1h-1zM4 72h1v1h-1zM4 75h1v2h-1zM4 78h1v1h-1zM4 82h1v1h-1zM4 84h1v1h-1zM4 86h1v1h-1zM4 90h1v2h-1zM4 96h1v2h-1zM4 99h1v2h-1zM4 104h1v1h-1zM4 170h1v1h-1zM4 173h1v2h-1zM4 177h1v4h-1zM4 184h1v3h-1zM4 188h1v1h-1zM4 196h1v1h-1zM4 199h1v1h-1zM4 203h1v1h-1zM4 206h1v1h-1zM4 210h1v2h-1zM4 214h1v4h-1zM4 224h1v3h-1zM4 228h1v1h-1zM4 230h1v1h-1zM4 233h1v3h-1zM4 237h1v1h-1zM4 240h1v2h-1zM4 243h1v2h-1zM4 248h1v1h-1zM5 6h1v1h-1zM5 8h1v1h-1zM5 14h1v1h-1zM5 16h1v4h-1zM5 21h1v1h-1zM5 50h1v1h-1zM5 52h1v1h-1zM5 54h1v1h-1zM5 67h1v3h-1zM5 75h1v2h-1zM5 79h1v1h-1zM5 91h1v2h-1zM5 94h1v1h-1zM5 100h1v1h-1zM5 106h1v1h-1zM5 109h1v1h-1zM5 115h1v2h-1zM5 121h1v1h-1zM5 152h1v1h-1zM5 154h1v2h-1zM5 171h1v1h-1zM5 184h1v1h-1zM5 199h1v1h-1zM5 222h1v1h-1zM6 0h1v1h-1zM6 11h1v1h-1zM6 13h1v2h-1zM6 17h1v2h-1zM6 29h1v1h-1zM6 33h1v1h-1zM6 35h1v1h-1zM6 37h1v1h-1zM6 44h1v1h-1zM6 73h1v1h-1zM6 101h1v1h-1zM6 111h1v1h-1zM6 113h1v1h-1zM6 119h1v1h-1zM6 173h1v1h-1zM6 184h1v1h-1zM6 196h1v1h-1zM6 198h1v1h-1zM7 10h1v3h-1zM7 19h1v1h-1zM7 22h1v1h-1zM7 25h1v1h-1zM7 27h1v2h-1zM7 32h1v1h-1zM7 45h1v3h-1zM7 50h1v1h-1zM7 52h1v1h-1zM7 54h1v1h-1zM7 66h1v1h-1zM7 68h1v1h-1zM7 70h1v1h-1zM7 73h1v1h-1zM7 90h1v3h-1zM7 94h1v1h-1zM7 168h1v1h-1zM7 180h1v2h-1zM7 200h1v2h-1zM7 204h1v1h-1zM8 10h1v2h-1zM8 13h1v1h-1zM8 15h1v2h-1zM8 18h1v1h-1zM8 30h1v1h-1zM8 32h1v1h-1zM8 35h1v1h-1zM8 39h1v2h-1zM8 44h1v1h-1zM8 47h1v1h-1zM8 52h1v1h-1zM8 61h1v1h-1zM8 66h1v2h-1zM8 69h1v1h-1zM8 82h1v3h-1zM8 97h1v1h-1zM8 100h1v2h-1zM8 115h1v1h-1zM8 118h1v1h-1zM8 123h1v1h-1zM8 127h1v1h-1zM8 173h1v1h-1zM8 176h1v2h-1zM8 180h1v1h-1zM8 182h1v1h-1zM8 227h1v1h-1zM8 232h1v1h-1zM9 4h1v1h-1zM9 9h1v1h-1zM9 11h1v1h-1zM9 13h1v1h-1zM9 15h1v1h-1zM9 17h1v1h-1zM9 19h1v1h-1zM9 23h1v1h-1zM9 25h1v1h-1zM9 51h1v1h-1zM9 65h1v1h-1zM9 67h1v2h-1zM9 70h1v1h-1zM9 74h1v6h-1zM9 94h1v2h-1zM9 101h1v1h-1zM9 105h1v1h-1zM9 109h1v1h-1zM9 111h1v2h-1zM9 121h1v1h-1zM9 127h1v3h-1zM9 133h1v1h-1zM9 138h1v1h-1zM9 171h1v1h-1zM9 173h1v2h-1zM9 178h1v1h-1zM9 188h1v2h-1zM9 198h1v2h-1zM9 201h1v2h-1zM9 205h1v1h-1zM9 207h1v1h-1zM9 209h1v1h-1zM9 212h1v2h-1zM9 221h1v1h-1zM9 231h1v1h-1zM9 233h1v2h-1zM9 239h1v2h-1zM9 242h1v1h-1zM9 244h1v1h-1zM9 246h1v2h-1zM10 18h1v1h-1zM10 33h1v2h-1zM10 42h1v1h-1zM10 44h1v1h-1zM10 51h1v1h-1zM10 60h1v1h-1zM10 63h1v2h-1zM10 66h1v1h-1zM10 76h1v1h-1zM10 90h1v3h-1zM10 102h1v1h-1zM10 104h1v1h-1zM10 128h1v1h-1zM10 136h1v1h-1zM10 148h1v1h-1zM10 150h1v1h-1zM10 156h1v2h-1zM10 164h1v1h-1zM10 166h1v1h-1zM10 170h1v2h-1zM10 176h1v2h-1zM10 179h1v1h-1zM10 182h1v1h-1zM10 184h1v5h-1zM10 190h1v1h-1zM10 195h1v3h-1zM10 201h1v1h-1zM10 206h1v1h-1zM10 208h1v1h-1zM10 212h1v1h-1zM10 214h1v1h-1zM10 216h1v1h-1zM10 221h1v1h-1zM10 224h1v1h-1zM10 233h1v1h-1zM10 235h1v1h-1zM10 240h1v1h-1zM10 244h1v1h-1zM10 248h1v1h-1zM11 3h1v2h-1zM11 8h1v1h-1zM11 15h1v1h-1zM11 21h1v1h-1zM11 33h1v2h-1zM11 36h1v1h-1zM11 39h1v1h-1zM11 49h1v1h-1zM11 85h1v1h-1zM11 88h1v1h-1zM11 90h1v2h-1zM11 93h1v1h-1zM11 99h1v1h-1zM11 106h1v1h-1zM11 108h1v2h-1zM11 111h1v1h-1zM11 113h1v1h-1zM11 120h1v2h-1zM11 123h1v2h-1zM11 128h1v2h-1zM11 132h1v1h-1zM11 138h1v1h-1zM11 141h1v1h-1zM11 145h1v1h-1zM11 150h1v1h-1zM11 152h1v1h-1zM11 154h1v1h-1zM11 156h1v2h-1zM11 162h1v1h-1zM11 175h1v1h-1zM11 180h1v1h-1zM11 192h1v1h-1zM11 235h1v1h-1zM11 238h1v1h-1zM11 240h1v2h-1zM11 243h1v4h-1zM12 15h1v1h-1zM12 18h1v2h-1zM12 21h1v1h-1zM12 23h1v2h-1zM12 26h1v1h-1zM12 54h1v2h-1zM12 57h1v1h-1zM12 63h1v1h-1zM12 65h1v1h-1zM12 68h1v1h-1zM12 72h1v1h-1zM12 74h1v1h-1zM12 76h1v1h-1zM12 79h1v1h-1zM12 82h1v1h-1zM12 89h1v1h-1zM12 91h1v1h-1zM12 95h1v1h-1zM12 99h1v1h-1zM12 103h1v4h-1zM12 108h1v2h-1zM12 115h1v1h-1zM12 120h1v1h-1zM12 123h1v2h-1zM12 128h1v2h-1zM12 136h1v3h-1zM12 141h1v1h-1zM12 143h1v1h-1zM12 146h1v1h-1zM12 148h1v1h-1zM12 151h1v1h-1zM12 156h1v1h-1zM12 161h1v1h-1zM12 169h1v1h-1zM12 175h1v2h-1zM12 178h1v1h-1zM12 181h1v1h-1zM12 186h1v1h-1zM12 189h1v1h-1zM12 196h1v1h-1zM12 198h1v2h-1zM12 201h1v1h-1zM12 221h1v2h-1zM12 228h1v1h-1zM12 238h1v4h-1zM12 245h1v2h-1zM12 248h1v1h-1zM13 23h1v3h-1zM13 27h1v1h-1zM13 33h1v1h-1zM13 35h1v1h-1zM13 68h1v1h-1zM13 71h1v4h-1zM13 86h1v1h-1zM13 90h1v1h-1zM13 92h1v1h-1zM13 94h1v1h-1zM13 98h1v1h-1zM13 100h1v1h-1zM13 103h1v2h-1zM13 110h1v1h-1zM13 116h1v2h-1zM13 126h1v2h-1zM13 131h1v1h-1zM13 134h1v1h-1zM13 138h1v1h-1zM13 142h1v1h-1zM13 149h1v1h-1zM13 155h1v1h-1zM13 157h1v2h-1zM13 161h1v1h-1zM13 163h1v2h-1zM13 174h1v1h-1zM13 176h1v1h-1zM13 179h1v3h-1zM13 185h1v3h-1zM13 189h1v1h-1zM13 200h1v1h-1zM13 214h1v1h-1zM13 219h1v2h-1zM13 224h1v1h-1zM13 226h1v1h-1zM13 229h1v1h-1zM13 233h1v1h-1zM13 244h1v2h-1zM13 247h1v1h-1zM14 3h1v1h-1zM14 5h1v2h-1zM14 11h1v1h-1zM14 36h1v5h-1zM14 46h1v1h-1zM14 48h1v1h-1zM14 50h1v3h-1zM14 54h1v2h-1zM14 59h1v2h-1zM14 63h1v2h-1zM14 68h1v1h-1zM14 72h1v1h-1zM14 76h1v2h-1zM14 86h1v2h-1zM14 89h1v2h-1zM14 99h1v1h-1zM14 106h1v1h-1zM14 109h1v1h-1zM14 114h1v3h-1zM14 124h1v1h-1zM14 133h1v1h-1zM14 148h1v1h-1zM14 153h1v1h-1zM14 159h1v1h-1zM14 165h1v2h-1zM14 170h1v1h-1zM14 172h1v1h-1zM14 178h1v2h-1zM14 185h1v1h-1zM14 187h1v2h-1zM14 194h1v1h-1zM14 198h1v2h-1zM14 204h1v1h-1zM14 225h1v2h-1zM14 228h1v2h-1zM14 231h1v2h-1zM14 236h1v1h-1zM14 238h1v1h-1zM14 243h1v1h-1zM14 245h1v4h-1zM15 32h1v1h-1zM15 42h1v1h-1zM15 45h1v1h-1zM15 50h1v1h-1zM15 53h1v1h-1zM15 67h1v1h-1zM15 77h1v1h-1zM15 80h1v1h-1zM15 89h1v1h-1zM15 93h1v2h-1zM15 97h1v1h-1zM15 99h1v1h-1zM15 103h1v1h-1zM15 106h1v1h-1zM15 111h1v1h-1zM15 120h1v1h-1zM15 126h1v2h-1zM15 136h1v2h-1zM15 140h1v1h-1zM15 142h1v1h-1zM15 147h1v1h-1zM15 152h1v1h-1zM15 154h1v1h-1zM15 156h1v1h-1zM15 158h1v1h-1zM15 161h1v2h-1zM15 181h1v1h-1zM15 184h1v2h-1zM15 190h1v1h-1zM15 195h1v1h-1zM15 201h1v1h-1zM15 203h1v1h-1zM15 208h1v1h-1zM15 212h1v1h-1zM15 217h1v1h-1zM15 225h1v3h-1zM15 229h1v1h-1zM15 231h1v1h-1zM15 235h1v1h-1zM15 239h1v1h-1zM15 242h1v2h-1zM15 246h1v2h-1zM16 9h1v1h-1zM16 17h1v1h-1zM16 36h1v1h-1zM16 40h1v1h-1zM16 49h1v1h-1zM16 53h1v1h-1zM16 57h1v1h-1zM16 59h1v6h-1zM16 69h1v1h-1zM16 73h1v1h-1zM16 75h1v3h-1zM16 80h1v1h-1zM16 82h1v2h-1zM16 87h1v1h-1zM16 99h1v1h-1zM16 105h1v1h-1zM16 107h1v1h-1zM16 110h1v1h-1zM16 113h1v1h-1zM16 122h1v1h-1zM16 128h1v2h-1zM16 140h1v1h-1zM16 143h1v1h-1zM16 148h1v1h-1zM16 153h1v2h-1zM16 157h1v1h-1zM16 171h1v1h-1zM16 174h1v2h-1zM16 177h1v1h-1zM16 180h1v1h-1zM16 186h1v1h-1zM16 189h1v2h-1zM16 192h1v2h-1zM16 206h1v1h-1zM16 214h1v1h-1zM16 223h1v1h-1zM16 225h1v1h-1zM16 231h1v1h-1zM16 235h1v1h-1zM16 240h1v1h-1zM16 244h1v1h-1zM16 246h1v4h-1zM17 0h1v1h-1zM17 11h1v1h-1zM17 25h1v2h-1zM17 31h1v1h-1zM17 35h1v3h-1zM17 44h1v1h-1zM17 51h1v1h-1zM17 54h1v1h-1zM17 64h1v3h-1zM17 69h1v1h-1zM17 73h1v1h-1zM17 77h1v1h-1zM17 79h1v1h-1zM17 83h1v1h-1zM17 85h1v3h-1zM17 91h1v1h-1zM17 99h1v1h-1zM17 108h1v2h-1zM17 113h1v1h-1zM17 118h1v1h-1zM17 121h1v1h-1zM17 135h1v3h-1zM17 146h1v2h-1zM17 150h1v1h-1zM17 157h1v1h-1zM17 162h1v2h-1zM17 170h1v1h-1zM17 175h1v2h-1zM17 186h1v2h-1zM17 189h1v4h-1zM17 197h1v2h-1zM17 202h1v1h-1zM17 217h1v1h-1zM17 219h1v1h-1zM17 224h1v1h-1zM17 231h1v2h-1zM17 237h1v1h-1zM17 239h1v1h-1zM17 249h1v1h-1zM18 10h1v1h-1zM18 12h1v1h-1zM18 14h1v1h-1zM18 29h1v2h-1zM18 91h1v1h-1zM18 102h1v3h-1zM18 107h1v2h-1zM18 115h1v1h-1zM18 117h1v1h-1zM18 127h1v1h-1zM18 129h1v3h-1zM18 133h1v1h-1zM18 135h1v1h-1zM18 138h1v2h-1zM18 147h1v2h-1zM18 151h1v1h-1zM18 155h1v1h-1zM18 159h1v1h-1zM18 165h1v1h-1zM18 169h1v1h-1zM18 171h1v2h-1zM18 176h1v2h-1zM18 179h1v1h-1zM18 185h1v1h-1zM18 189h1v1h-1zM18 192h1v2h-1zM18 195h1v2h-1zM18 201h1v1h-1zM18 222h1v2h-1zM18 229h1v1h-1zM18 239h1v1h-1zM19 6h1v1h-1zM19 17h1v1h-1zM19 23h1v1h-1zM19 33h1v1h-1zM19 39h1v1h-1zM19 41h1v1h-1zM19 58h1v1h-1zM19 68h1v1h-1zM19 92h1v2h-1zM19 97h1v1h-1zM19 99h1v1h-1zM19 102h1v1h-1zM19 104h1v1h-1zM19 109h1v1h-1zM19 111h1v1h-1zM19 116h1v1h-1zM19 119h1v2h-1zM19 123h1v2h-1zM19 126h1v1h-1zM19 139h1v2h-1zM19 146h1v3h-1zM19 150h1v1h-1zM19 155h1v2h-1zM19 159h1v1h-1zM19 162h1v1h-1zM19 181h1v1h-1zM19 206h1v1h-1zM19 210h1v1h-1zM19 212h1v1h-1zM19 214h1v1h-1zM19 221h1v3h-1zM19 225h1v1h-1zM19 229h1v1h-1zM19 233h1v1h-1zM19 236h1v1h-1zM19 238h1v1h-1z"/>
<path fill="#E4F7F9" d="M0 7h1v1h-1zM0 11h1v1h-1zM0 15h1v3h-1zM0 19h1v1h-1zM0 21h1v3h-1zM0 27h1v1h-1zM0 32h1v1h-1zM0 50h1v4h-1zM0 57h1v1h-1zM0 111h1v1h-1zM0 114h1v1h-1zM0 117h1v1h-1zM0 145h1v1h-1zM0 150h1v1h-1zM0 153h1v1h-1zM0 170h1v1h-1zM0 172h1v2h-1zM0 176h1v1h-1zM0 183h1v1h-1zM0 188h1v1h-1zM0 190h1v1h-1zM0 195h1v1h-1zM1 0h1v1h-1zM1 2h1v1h-1zM1 4h1v1h-1zM1 10h1v2h-1zM1 17h1v1h-1zM1 19h1v2h-1zM1 32h1v2h-1zM1 35h1v1h-1zM1 37h1v1h-1zM1 105h1v2h-1zM1 112h1v1h-1zM1 140h1v1h-1zM1 146h1v1h-1zM1 168h1v2h-1zM1 203h1v1h-1zM2 10h1v3h-1zM2 15h1v2h-1zM2 18h1v1h-1zM2 25h1v1h-1zM2 41h1v1h-1zM2 47h1v1h-1zM2 52h1v1h-1zM2 55h1v1h-1zM2 57h1v1h-1zM2 59h1v1h-1zM2 62h1v1h-1zM2 64h1v1h-1zM2 69h1v1h-1zM2 71h1v1h-1zM2 74h1v3h-1zM2 79h1v1h-1zM2 81h1v1h-1zM2 84h1v1h-1zM2 88h1v1h-1zM2 90h1v1h-1zM2 92h1v2h-1zM2 95h1v1h-1zM2 104h1v1h-1zM2 116h1v3h-1zM2 120h1v1h-1zM2 123h1v1h-1zM2 136h1v1h-1zM2 165h1v1h-1zM2 168h1v1h-1zM2 170h1v4h-1zM2 185h1v1h-1zM2 237h1v1h-1zM3 1h1v1h-1zM3 5h1v2h-1zM3 8h1v1h-1zM3 10h1v2h-1zM3 16h1v6h-1zM3 24h1v1h-1zM3 43h1v1h-1zM3 47h1v1h-1zM3 53h1v2h-1zM3 58h1v1h-1zM3 68h1v2h-1zM3 71h1v2h-1zM3 74h1v1h-1zM3 78h1v2h-1zM3 88h1v1h-1zM3 90h1v1h-1zM3 97h1v1h-1zM3 165h1v2h-1zM3 168h1v1h-1zM3 172h1v1h-1zM3 174h1v1h-1zM3 176h1v1h-1zM3 178h1v2h-1zM3 184h1v1h-1zM3 202h1v1h-1zM3 204h1v1h-1zM3 206h1v2h-1zM3 209h1v2h-1zM3 217h1v1h-1zM3 221h1v2h-1zM3 225h1v2h-1zM3 229h1v3h-1zM3 233h1v1h-1zM3 235h1v3h-1zM3 241h1v1h-1zM3 244h1v1h-1zM3 247h1v1h-1zM3 249h1v1h-1zM4 3h1v1h-1zM4 5h1v3h-1zM4 9h1v1h-1zM4 12h1v1h-1zM4 14h1v4h-1zM4 35h1v1h-1zM4 37h1v2h-1zM4 43h1v1h-1zM4 49h1v2h-1zM4 54h1v1h-1zM4 62h1v1h-1zM4 64h1v1h-1zM4 80h1v1h-1zM4 83h1v1h-1zM4 87h1v1h-1zM4 92h1v3h-1zM4 98h1v1h-1zM4 102h1v2h-1zM4 137h1v1h-1zM4 155h1v1h-1zM4 164h1v6h-1zM4 171h1v2h-1zM4 175h1v1h-1zM4 182h1v1h-1zM4 187h1v1h-1zM4 195h1v1h-1zM4 197h1v2h-1zM4 200h1v1h-1zM4 202h1v1h-1zM4 204h1v1h-1zM4 208h1v1h-1zM4 212h1v1h-1zM4 219h1v5h-1zM4 229h1v1h-1zM4 231h1v2h-1zM4 236h1v1h-1zM4 238h1v2h-1zM4 242h1v1h-1zM4 247h1v1h-1zM5 10h1v1h-1zM5 12h1v1h-1zM5 20h1v1h-1zM5 23h1v2h-1zM5 31h1v2h-1zM5 34h1v1h-1zM5 51h1v1h-1zM5 53h1v1h-1zM5 58h1v1h-1zM5 65h1v1h-1zM5 78h1v1h-1zM5 90h1v1h-1zM5 93h1v1h-1zM5 99h1v1h-1zM5 101h1v2h-1zM5 104h1v1h-1zM5 108h1v1h-1zM5 112h1v3h-1zM5 117h1v1h-1zM5 119h1v2h-1zM5 124h1v2h-1zM5 127h1v1h-1zM5 145h1v1h-1zM5 148h1v1h-1zM5 150h1v2h-1zM5 156h1v1h-1zM5 158h1v2h-1zM5 172h1v1h-1zM5 175h1v1h-1zM5 177h1v1h-1zM5 179h1v1h-1zM5 181h1v3h-1zM5 195h1v3h-1zM5 205h1v2h-1zM5 216h1v1h-1zM5 220h1v2h-1zM5 224h1v1h-1zM5 235h1v1h-1zM5 239h1v3h-1zM6 2h1v2h-1zM6 7h1v4h-1zM6 22h1v1h-1zM6 25h1v4h-1zM6 31h1v2h-1zM6 34h1v1h-1zM6 36h1v1h-1zM6 41h1v3h-1zM6 50h1v5h-1zM6 57h1v1h-1zM6 65h1v1h-1zM6 68h1v1h-1zM6 70h1v3h-1zM6 92h1v1h-1zM6 102h1v3h-1zM6 106h1v1h-1zM6 109h1v2h-1zM6 112h1v1h-1zM6 114h1v2h-1zM6 117h1v1h-1zM6 125h1v1h-1zM6 128h1v1h-1zM6 130h1v2h-1zM6 133h1v2h-1zM6 151h1v1h-1zM6 172h1v1h-1zM6 180h1v1h-1zM6 182h1v2h-1zM6 199h1v1h-1zM6 205h1v3h-1zM6 228h1v1h-1zM6 230h1v1h-1zM6 248h1v1h-1zM7 0h1v2h-1zM7 3h1v5h-1zM7 13h1v3h-1zM7 17h1v2h-1zM7 21h1v1h-1zM7 24h1v1h-1zM7 26h1v1h-1zM7 29h1v1h-1zM7 41h1v2h-1zM7 44h1v1h-1zM7 51h1v1h-1zM7 53h1v1h-1zM7 65h1v1h-1zM7 67h1v1h-1zM7 69h1v1h-1zM7 72h1v1h-1zM7 74h1v1h-1zM7 87h1v1h-1zM7 93h1v1h-1zM7 165h1v3h-1zM7 169h1v1h-1zM7 173h1v2h-1zM7 176h1v3h-1zM7 183h1v1h-1zM7 186h1v1h-1zM7 189h1v1h-1zM7 193h1v1h-1zM7 203h1v1h-1zM7 226h1v1h-1zM8 12h1v1h-1zM8 14h1v1h-1zM8 17h1v1h-1zM8 19h1v3h-1zM8 31h1v1h-1zM8 33h1v2h-1zM8 37h1v1h-1zM8 42h1v2h-1zM8 45h1v2h-1zM8 48h1v1h-1zM8 50h1v1h-1zM8 53h1v1h-1zM8 55h1v2h-1zM8 58h1v3h-1zM8 62h1v1h-1zM8 65h1v1h-1zM8 68h1v1h-1zM8 70h1v2h-1zM8 73h1v1h-1zM8 81h1v1h-1zM8 94h1v1h-1zM8 98h1v2h-1zM8 104h1v1h-1zM8 116h1v2h-1zM8 119h1v3h-1zM8 124h1v1h-1zM8 126h1v1h-1zM8 129h1v1h-1zM8 131h1v1h-1zM8 141h1v3h-1zM8 155h1v1h-1zM8 165h1v2h-1zM8 168h1v3h-1zM8 175h1v1h-1zM8 179h1v1h-1zM8 183h1v2h-1zM8 186h1v1h-1zM8 189h1v1h-1zM8 204h1v1h-1zM8 221h1v1h-1zM8 226h1v1h-1zM8 228h1v1h-1zM8 238h1v1h-1zM8 243h1v1h-1zM9 0h1v4h-1zM9 5h1v2h-1zM9 10h1v1h-1zM9 12h1v1h-1zM9 14h1v1h-1zM9 16h1v1h-1zM9 18h1v1h-1zM9 21h1v2h-1zM9 27h1v1h-1zM9 52h1v1h-1zM9 54h1v1h-1zM9 56h1v1h-1zM9 58h1v3h-1zM9 62h1v3h-1zM9 66h1v1h-1zM9 69h1v1h-1zM9 72h1v2h-1zM9 80h1v1h-1zM9 83h1v1h-1zM9 85h1v9h-1zM9 96h1v1h-1zM9 98h1v1h-1zM9 100h1v1h-1zM9 102h1v1h-1zM9 104h1v1h-1zM9 106h1v1h-1zM9 108h1v1h-1zM9 110h1v1h-1zM9 113h1v2h-1zM9 120h1v1h-1zM9 122h1v1h-1zM9 124h1v1h-1zM9 126h1v1h-1zM9 130h1v1h-1zM9 132h1v1h-1zM9 134h1v1h-1zM9 137h1v1h-1zM9 144h1v1h-1zM9 150h1v2h-1zM9 165h1v1h-1zM9 167h1v4h-1zM9 172h1v1h-1zM9 176h1v1h-1zM9 179h1v2h-1zM9 182h1v1h-1zM9 184h1v1h-1zM9 190h1v1h-1zM9 196h1v1h-1zM9 200h1v1h-1zM9 203h1v2h-1zM9 210h1v2h-1zM9 214h1v1h-1zM9 220h1v1h-1zM9 222h1v1h-1zM9 224h1v1h-1zM9 232h1v1h-1zM9 236h1v3h-1zM9 245h1v1h-1zM9 248h1v2h-1zM10 15h1v2h-1zM10 19h1v1h-1zM10 30h1v2h-1zM10 35h1v1h-1zM10 40h1v2h-1zM10 49h1v2h-1zM10 52h1v4h-1zM10 57h1v2h-1zM10 65h1v1h-1zM10 67h1v3h-1zM10 75h1v1h-1zM10 77h1v3h-1zM10 93h1v2h-1zM10 96h1v1h-1zM10 98h1v4h-1zM10 119h1v2h-1zM10 124h1v4h-1zM10 129h1v1h-1zM10 133h1v1h-1zM10 137h1v1h-1zM10 139h1v1h-1zM10 144h1v1h-1zM10 152h1v2h-1zM10 158h1v2h-1zM10 162h1v1h-1zM10 165h1v1h-1zM10 167h1v1h-1zM10 172h1v4h-1zM10 178h1v1h-1zM10 181h1v1h-1zM10 183h1v1h-1zM10 189h1v1h-1zM10 191h1v1h-1zM10 194h1v1h-1zM10 198h1v3h-1zM10 202h1v2h-1zM10 205h1v1h-1zM10 207h1v1h-1zM10 209h1v1h-1zM10 211h1v1h-1zM10 215h1v1h-1zM10 217h1v1h-1zM10 220h1v1h-1zM10 222h1v2h-1zM10 232h1v1h-1zM10 239h1v1h-1zM10 241h1v3h-1zM10 247h1v1h-1zM10 249h1v1h-1zM11 1h1v1h-1zM11 5h1v3h-1zM11 9h1v2h-1zM11 13h1v2h-1zM11 17h1v3h-1zM11 24h1v1h-1zM11 30h1v1h-1zM11 38h1v1h-1zM11 44h1v1h-1zM11 46h1v1h-1zM11 48h1v1h-1zM11 50h1v2h-1zM11 53h1v2h-1zM11 77h1v1h-1zM11 92h1v1h-1zM11 95h1v2h-1zM11 98h1v1h-1zM11 102h1v4h-1zM11 107h1v1h-1zM11 112h1v1h-1zM11 114h1v1h-1zM11 116h1v1h-1zM11 122h1v1h-1zM11 143h1v1h-1zM11 148h1v2h-1zM11 155h1v1h-1zM11 164h1v1h-1zM11 176h1v1h-1zM11 178h1v1h-1zM11 181h1v1h-1zM11 183h1v1h-1zM11 202h1v1h-1zM11 204h1v1h-1zM11 216h1v1h-1zM11 219h1v1h-1zM11 236h1v1h-1zM11 239h1v1h-1zM11 242h1v1h-1zM11 247h1v2h-1zM12 12h1v1h-1zM12 17h1v1h-1zM12 20h1v1h-1zM12 22h1v1h-1zM12 27h1v2h-1zM12 50h1v2h-1zM12 53h1v1h-1zM12 60h1v3h-1zM12 64h1v1h-1zM12 67h1v1h-1zM12 69h1v3h-1zM12 81h1v1h-1zM12 92h1v1h-1zM12 94h1v1h-1zM12 96h1v3h-1zM12 107h1v1h-1zM12 111h1v1h-1zM12 114h1v1h-1zM12 116h1v2h-1zM12 119h1v1h-1zM12 139h1v1h-1zM12 145h1v1h-1zM12 154h1v2h-1zM12 157h1v4h-1zM12 162h1v3h-1zM12 166h1v3h-1zM12 177h1v1h-1zM12 179h1v2h-1zM12 182h1v3h-1zM12 192h1v1h-1zM12 195h1v1h-1zM12 197h1v1h-1zM12 203h1v2h-1zM12 215h1v3h-1zM12 235h1v1h-1zM12 242h1v2h-1zM12 247h1v1h-1zM13 20h1v2h-1zM13 30h1v2h-1zM13 34h1v1h-1zM13 37h1v7h-1zM13 56h1v1h-1zM13 58h1v2h-1zM13 88h1v1h-1zM13 91h1v1h-1zM13 93h1v1h-1zM13 95h1v1h-1zM13 97h1v1h-1zM13 101h1v2h-1zM13 105h1v4h-1zM13 113h1v2h-1zM13 118h1v2h-1zM13 128h1v1h-1zM13 130h1v1h-1zM13 132h1v1h-1zM13 145h1v2h-1zM13 148h1v1h-1zM13 152h1v3h-1zM13 156h1v1h-1zM13 159h1v2h-1zM13 162h1v1h-1zM13 169h1v4h-1zM13 177h1v2h-1zM13 182h1v2h-1zM13 191h1v1h-1zM13 193h1v1h-1zM13 204h1v1h-1zM13 206h1v4h-1zM13 211h1v2h-1zM13 222h1v1h-1zM13 231h1v1h-1zM13 239h1v1h-1zM14 8h1v2h-1zM14 13h1v2h-1zM14 21h1v1h-1zM14 24h1v1h-1zM14 28h1v1h-1zM14 32h1v1h-1zM14 34h1v2h-1zM14 42h1v3h-1zM14 47h1v1h-1zM14 49h1v1h-1zM14 53h1v1h-1zM14 58h1v1h-1zM14 62h1v1h-1zM14 67h1v1h-1zM14 71h1v1h-1zM14 85h1v1h-1zM14 88h1v1h-1zM14 91h1v3h-1zM14 95h1v2h-1zM14 103h1v1h-1zM14 118h1v1h-1zM14 125h1v5h-1zM14 134h1v1h-1zM14 143h1v1h-1zM14 152h1v1h-1zM14 154h1v1h-1zM14 167h1v3h-1zM14 173h1v2h-1zM14 181h1v1h-1zM14 183h1v2h-1zM14 195h1v3h-1zM14 201h1v1h-1zM14 203h1v1h-1zM14 206h1v2h-1zM14 235h1v1h-1zM15 12h1v1h-1zM15 15h1v2h-1zM15 18h1v2h-1zM15 35h1v2h-1zM15 39h1v1h-1zM15 43h1v2h-1zM15 51h1v1h-1zM15 54h1v5h-1zM15 60h1v1h-1zM15 62h1v1h-1zM15 64h1v1h-1zM15 68h1v2h-1zM15 72h1v1h-1zM15 74h1v3h-1zM15 78h1v2h-1zM15 83h1v1h-1zM15 85h1v1h-1zM15 87h1v2h-1zM15 91h1v2h-1zM15 95h1v2h-1zM15 98h1v1h-1zM15 100h1v2h-1zM15 108h1v1h-1zM15 112h1v3h-1zM15 116h1v1h-1zM15 118h1v2h-1zM15 122h1v1h-1zM15 129h1v1h-1zM15 132h1v1h-1zM15 146h1v1h-1zM15 150h1v1h-1zM15 153h1v1h-1zM15 155h1v1h-1zM15 159h1v1h-1zM15 163h1v2h-1zM15 166h1v2h-1zM15 169h1v1h-1zM15 180h1v1h-1zM15 183h1v1h-1zM15 192h1v1h-1zM15 198h1v3h-1zM15 202h1v1h-1zM15 204h1v2h-1zM15 209h1v1h-1zM15 213h1v2h-1zM15 228h1v1h-1zM15 230h1v1h-1zM15 233h1v1h-1zM15 240h1v1h-1zM15 245h1v1h-1zM16 7h1v1h-1zM16 18h1v2h-1zM16 26h1v3h-1zM16 32h1v4h-1zM16 39h1v1h-1zM16 41h1v2h-1zM16 44h1v5h-1zM16 54h1v2h-1zM16 58h1v1h-1zM16 65h1v1h-1zM16 67h1v2h-1zM16 70h1v2h-1zM16 79h1v1h-1zM16 81h1v1h-1zM16 84h1v2h-1zM16 90h1v1h-1zM16 93h1v1h-1zM16 95h1v1h-1zM16 97h1v1h-1zM16 100h1v1h-1zM16 102h1v1h-1zM16 109h1v1h-1zM16 111h1v2h-1zM16 114h1v5h-1zM16 121h1v1h-1zM16 124h1v4h-1zM16 133h1v1h-1zM16 135h1v1h-1zM16 142h1v1h-1zM16 145h1v3h-1zM16 149h1v1h-1zM16 151h1v2h-1zM16 155h1v2h-1zM16 159h1v2h-1zM16 170h1v1h-1zM16 173h1v1h-1zM16 179h1v1h-1zM16 181h1v2h-1zM16 184h1v2h-1zM16 187h1v1h-1zM16 191h1v1h-1zM16 194h1v1h-1zM16 200h1v3h-1zM16 204h1v1h-1zM16 207h1v1h-1zM16 211h1v1h-1zM16 216h1v1h-1zM16 219h1v1h-1zM16 221h1v2h-1zM16 226h1v2h-1zM16 229h1v1h-1zM16 234h1v1h-1zM16 239h1v1h-1zM17 1h1v1h-1zM17 4h1v1h-1zM17 6h1v2h-1zM17 9h1v2h-1zM17 13h1v1h-1zM17 15h1v2h-1zM17 19h1v1h-1zM17 27h1v2h-1zM17 33h1v2h-1zM17 38h1v6h-1zM17 46h1v1h-1zM17 50h1v1h-1zM17 60h1v3h-1zM17 67h1v2h-1zM17 70h1v2h-1zM17 74h1v1h-1zM17 76h1v1h-1zM17 80h1v2h-1zM17 90h1v1h-1zM17 92h1v5h-1zM17 98h1v1h-1zM17 101h1v1h-1zM17 103h1v2h-1zM17 106h1v2h-1zM17 115h1v1h-1zM17 120h1v1h-1zM17 122h1v3h-1zM17 149h1v1h-1zM17 153h1v2h-1zM17 160h1v2h-1zM17 164h1v1h-1zM17 166h1v1h-1zM17 169h1v1h-1zM17 173h1v2h-1zM17 177h1v2h-1zM17 185h1v1h-1zM17 188h1v1h-1zM17 194h1v1h-1zM17 201h1v1h-1zM17 206h1v1h-1zM17 214h1v1h-1zM17 236h1v1h-1zM17 238h1v1h-1zM17 240h1v1h-1zM17 246h1v1h-1zM18 5h1v3h-1zM18 9h1v1h-1zM18 11h1v1h-1zM18 13h1v1h-1zM18 27h1v2h-1zM18 32h1v1h-1zM18 34h1v1h-1zM18 100h1v2h-1zM18 105h1v2h-1zM18 109h1v4h-1zM18 114h1v1h-1zM18 118h1v2h-1zM18 121h1v2h-1zM18 124h1v3h-1zM18 134h1v1h-1zM18 136h1v2h-1zM18 145h1v2h-1zM18 154h1v1h-1zM18 156h1v3h-1zM18 161h1v1h-1zM18 168h1v1h-1zM18 170h1v1h-1zM18 173h1v1h-1zM18 175h1v1h-1zM18 178h1v1h-1zM18 181h1v1h-1zM18 184h1v1h-1zM18 186h1v1h-1zM18 190h1v1h-1zM18 197h1v1h-1zM18 199h1v2h-1zM18 207h1v1h-1zM18 212h1v2h-1zM18 220h1v1h-1zM18 225h1v2h-1zM18 228h1v1h-1zM18 235h1v2h-1zM18 238h1v1h-1zM18 242h1v2h-1zM19 5h1v1h-1zM19 8h1v1h-1zM19 16h1v1h-1zM19 20h1v1h-1zM19 27h1v1h-1zM19 30h1v2h-1zM19 34h1v1h-1zM19 36h1v2h-1zM19 40h1v1h-1zM19 42h1v1h-1zM19 45h1v1h-1zM19 47h1v3h-1zM19 55h1v2h-1zM19 59h1v2h-1zM19 63h1v4h-1zM19 69h1v1h-1zM19 91h1v1h-1zM19 95h1v2h-1zM19 98h1v1h-1zM19 100h1v1h-1zM19 103h1v1h-1zM19 106h1v1h-1zM19 110h1v1h-1zM19 112h1v1h-1zM19 117h1v1h-1zM19 121h1v2h-1zM19 136h1v1h-1zM19 142h1v1h-1zM19 144h1v1h-1zM19 151h1v1h-1zM19 153h1v1h-1zM19 158h1v1h-1zM19 160h1v1h-1zM19 163h1v1h-1zM19 175h1v1h-1zM19 177h1v2h-1zM19 180h1v1h-1zM19 182h1v2h-1zM19 207h1v1h-1zM19 213h1v1h-1zM19 215h1v6h-1zM19 224h1v1h-1zM19 228h1v1h-1zM19 231h1v1h-1zM19 237h1v1h-1zM19 244h1v1h-1z"/>
<path fill="#F2FBFC" d="M0 0h1v1h-1zM0 2h1v1h-1zM0 5h1v2h-1zM0 24h1v1h-1zM0 28h1v1h-1zM0 33h1v1h-1zM0 45h1v3h-1zM0 49h1v1h-1zM0 54h1v1h-1zM0 58h1v1h-1zM0 105h1v1h-1zM0 108h1v1h-1zM0 113h1v1h-1zM0 119h1v3h-1zM0 123h1v1h-1zM0 125h1v1h-1zM0 135h1v1h-1zM0 147h1v1h-1zM0 154h1v1h-1zM0 167h1v1h-1zM0 171h1v1h-1zM0 177h1v2h-1zM0 180h1v1h-1zM0 193h1v2h-1zM0 196h1v1h-1zM1 12h1v3h-1zM1 21h1v1h-1zM1 30h1v1h-1zM1 144h1v2h-1zM1 148h1v1h-1zM1 175h1v1h-1zM1 200h1v1h-1zM1 202h1v1h-1zM1 204h1v1h-1zM2 19h1v1h-1zM2 28h1v1h-1zM2 44h1v1h-1zM2 48h1v1h-1zM2 50h1v1h-1zM2 53h1v1h-1zM2 65h1v1h-1zM2 68h1v1h-1zM2 72h1v1h-1zM2 85h1v2h-1zM2 101h1v1h-1zM2 109h1v1h-1zM2 119h1v1h-1zM2 121h1v2h-1zM2 124h1v1h-1zM2 135h1v1h-1zM2 137h1v1h-1zM2 166h1v1h-1zM2 169h1v1h-1zM2 201h1v1h-1zM2 203h1v2h-1zM2 206h1v4h-1zM2 239h1v1h-1zM2 246h1v3h-1zM3 12h1v1h-1zM3 29h1v1h-1zM3 35h1v1h-1zM3 42h1v1h-1zM3 45h1v2h-1zM3 60h1v1h-1zM3 75h1v1h-1zM3 80h1v1h-1zM3 84h1v1h-1zM3 92h1v1h-1zM3 94h1v1h-1zM3 98h1v1h-1zM3 122h1v1h-1zM3 164h1v1h-1zM3 167h1v1h-1zM3 169h1v2h-1zM3 182h1v2h-1zM3 190h1v1h-1zM3 200h1v1h-1zM3 208h1v1h-1zM3 212h1v1h-1zM3 232h1v1h-1zM3 238h1v2h-1zM4 2h1v1h-1zM4 32h1v1h-1zM4 34h1v1h-1zM4 53h1v1h-1zM4 60h1v1h-1zM4 63h1v1h-1zM4 81h1v1h-1zM4 95h1v1h-1zM4 156h1v1h-1zM4 159h1v1h-1zM4 161h1v2h-1zM4 181h1v1h-1zM4 183h1v1h-1zM4 189h1v2h-1zM4 193h1v1h-1zM4 201h1v1h-1zM4 213h1v1h-1zM4 218h1v1h-1zM4 227h1v1h-1zM5 5h1v1h-1zM5 7h1v1h-1zM5 11h1v1h-1zM5 13h1v1h-1zM5 22h1v1h-1zM5 30h1v1h-1zM5 33h1v1h-1zM5 36h1v1h-1zM5 55h1v2h-1zM5 66h1v1h-1zM5 96h1v3h-1zM5 103h1v1h-1zM5 105h1v1h-1zM5 107h1v1h-1zM5 111h1v1h-1zM5 122h1v2h-1zM5 128h1v1h-1zM5 133h1v2h-1zM5 139h1v1h-1zM5 146h1v1h-1zM5 153h1v1h-1zM5 157h1v1h-1zM5 167h1v1h-1zM5 170h1v1h-1zM5 173h1v2h-1zM5 176h1v1h-1zM5 178h1v1h-1zM5 180h1v1h-1zM5 198h1v1h-1zM5 200h1v1h-1zM5 209h1v2h-1zM5 215h1v1h-1zM5 219h1v1h-1zM5 231h1v1h-1zM5 237h1v1h-1zM6 1h1v1h-1zM6 4h1v1h-1zM6 6h1v1h-1zM6 15h1v2h-1zM6 19h1v1h-1zM6 23h1v2h-1zM6 30h1v1h-1zM6 39h1v2h-1zM6 46h1v1h-1zM6 55h1v1h-1zM6 67h1v1h-1zM6 74h1v1h-1zM6 91h1v1h-1zM6 93h1v2h-1zM6 100h1v1h-1zM6 105h1v1h-1zM6 107h1v2h-1zM6 116h1v1h-1zM6 118h1v1h-1zM6 121h1v1h-1zM6 126h1v1h-1zM6 154h1v1h-1zM6 165h1v1h-1zM6 167h1v1h-1zM6 170h1v2h-1zM6 174h1v1h-1zM6 195h1v1h-1zM6 197h1v1h-1zM6 216h1v1h-1zM6 226h1v1h-1zM6 231h1v2h-1zM6 234h1v1h-1zM7 2h1v1h-1zM7 8h1v1h-1zM7 16h1v1h-1zM7 20h1v1h-1zM7 23h1v1h-1zM7 31h1v1h-1zM7 33h1v2h-1zM7 40h1v1h-1zM7 43h1v1h-1zM7 48h1v2h-1zM7 60h1v1h-1zM7 63h1v1h-1zM7 71h1v1h-1zM7 86h1v1h-1zM7 103h1v1h-1zM7 170h1v1h-1zM7 175h1v1h-1zM7 179h1v1h-1zM7 182h1v1h-1zM7 188h1v1h-1zM7 192h1v1h-1zM8 36h1v1h-1zM8 41h1v1h-1zM8 51h1v1h-1zM8 54h1v1h-1zM8 57h1v1h-1zM8 63h1v1h-1zM8 72h1v1h-1zM8 75h1v2h-1zM8 79h1v2h-1zM8 86h1v2h-1zM8 93h1v1h-1zM8 96h1v1h-1zM8 102h1v2h-1zM8 128h1v1h-1zM8 140h1v1h-1zM8 150h1v1h-1zM8 158h1v1h-1zM8 164h1v1h-1zM8 181h1v1h-1zM8 195h1v1h-1zM8 200h1v1h-1zM8 203h1v1h-1zM8 220h1v1h-1zM8 222h1v1h-1zM8 224h1v2h-1zM8 231h1v1h-1zM8 234h1v1h-1zM8 236h1v2h-1zM8 242h1v1h-1zM8 244h1v1h-1zM9 7h1v2h-1zM9 26h1v1h-1zM9 28h1v2h-1zM9 50h1v1h-1zM9 55h1v1h-1zM9 57h1v1h-1zM9 61h1v1h-1zM9 71h1v1h-1zM9 81h1v2h-1zM9 84h1v1h-1zM9 97h1v1h-1zM9 103h1v1h-1zM9 123h1v1h-1zM9 125h1v1h-1zM9 131h1v1h-1zM9 135h1v2h-1zM9 139h1v1h-1zM9 142h1v1h-1zM9 146h1v2h-1zM9 152h1v3h-1zM9 162h1v1h-1zM9 175h1v1h-1zM9 177h1v1h-1zM9 181h1v1h-1zM9 183h1v1h-1zM9 206h1v1h-1zM9 208h1v1h-1zM9 223h1v1h-1zM9 230h1v1h-1zM10 8h1v1h-1zM10 10h1v1h-1zM10 13h1v2h-1zM10 17h1v1h-1zM10 25h1v1h-1zM10 28h1v1h-1zM10 32h1v1h-1zM10 36h1v3h-1zM10 43h1v1h-1zM10 45h1v4h-1zM10 56h1v1h-1zM10 59h1v1h-1zM10 61h1v2h-1zM10 87h1v1h-1zM10 95h1v1h-1zM10 97h1v1h-1zM10 103h1v1h-1zM10 117h1v1h-1zM10 121h1v1h-1zM10 123h1v1h-1zM10 130h1v1h-1zM10 135h1v1h-1zM10 146h1v1h-1zM10 151h1v1h-1zM10 154h1v2h-1zM10 160h1v2h-1zM10 163h1v1h-1zM10 168h1v2h-1zM10 210h1v1h-1zM10 213h1v1h-1zM10 219h1v1h-1zM10 230h1v2h-1zM10 236h1v2h-1zM10 245h1v2h-1zM11 12h1v1h-1zM11 16h1v1h-1zM11 20h1v1h-1zM11 31h1v1h-1zM11 75h1v1h-1zM11 94h1v1h-1zM11 97h1v1h-1zM11 100h1v2h-1zM11 125h1v2h-1zM11 151h1v1h-1zM11 153h1v1h-1zM11 160h1v2h-1zM11 163h1v1h-1zM11 182h1v1h-1zM11 184h1v1h-1zM11 190h1v2h-1zM11 193h1v2h-1zM11 201h1v1h-1zM11 203h1v1h-1zM11 215h1v1h-1zM11 217h1v1h-1zM12 11h1v1h-1zM12 14h1v1h-1zM12 16h1v1h-1zM12 46h1v2h-1zM12 52h1v1h-1zM12 86h1v1h-1zM12 90h1v1h-1zM12 93h1v1h-1zM12 110h1v1h-1zM12 152h1v1h-1zM12 165h1v1h-1zM12 193h1v1h-1zM12 200h1v1h-1zM12 231h1v1h-1zM13 22h1v1h-1zM13 36h1v1h-1zM13 44h1v1h-1zM13 55h1v1h-1zM13 57h1v1h-1zM13 99h1v1h-1zM13 111h1v2h-1zM13 115h1v1h-1zM13 147h1v1h-1zM13 150h1v2h-1zM13 167h1v1h-1zM13 173h1v1h-1zM13 175h1v1h-1zM13 184h1v1h-1zM13 188h1v1h-1zM13 190h1v1h-1zM13 192h1v1h-1zM13 203h1v1h-1zM13 205h1v1h-1zM13 232h1v1h-1zM14 1h1v1h-1zM14 7h1v1h-1zM14 10h1v1h-1zM14 12h1v1h-1zM14 17h1v2h-1zM14 22h1v2h-1zM14 41h1v1h-1zM14 56h1v2h-1zM14 61h1v1h-1zM14 70h1v1h-1zM14 97h1v2h-1zM14 101h1v1h-1zM14 105h1v1h-1zM14 110h1v1h-1zM14 171h1v1h-1zM14 176h1v2h-1zM14 180h1v1h-1zM14 182h1v1h-1zM14 218h1v1h-1zM14 227h1v1h-1zM15 11h1v1h-1zM15 13h1v1h-1zM15 17h1v1h-1zM15 30h1v1h-1zM15 37h1v2h-1zM15 52h1v1h-1zM15 59h1v1h-1zM15 61h1v1h-1zM15 63h1v1h-1zM15 65h1v2h-1zM15 70h1v2h-1zM15 86h1v1h-1zM15 90h1v1h-1zM15 102h1v1h-1zM15 110h1v1h-1zM15 115h1v1h-1zM15 117h1v1h-1zM15 125h1v1h-1zM15 128h1v1h-1zM15 151h1v1h-1zM15 157h1v1h-1zM15 165h1v1h-1zM15 168h1v1h-1zM15 173h1v1h-1zM15 176h1v1h-1zM15 178h1v2h-1zM15 197h1v1h-1zM15 206h1v1h-1zM15 210h1v2h-1zM16 25h1v1h-1zM16 29h1v1h-1zM16 31h1v1h-1zM16 37h1v2h-1zM16 43h1v1h-1zM16 50h1v2h-1zM16 56h1v1h-1zM16 72h1v1h-1zM16 74h1v1h-1zM16 78h1v1h-1zM16 86h1v1h-1zM16 89h1v1h-1zM16 91h1v2h-1zM16 96h1v1h-1zM16 98h1v1h-1zM16 104h1v1h-1zM16 106h1v1h-1zM16 108h1v1h-1zM16 119h1v2h-1zM16 123h1v1h-1zM16 130h1v2h-1zM16 134h1v1h-1zM16 150h1v1h-1zM16 172h1v1h-1zM16 176h1v1h-1zM16 178h1v1h-1zM16 183h1v1h-1zM16 188h1v1h-1zM16 203h1v1h-1zM17 2h1v2h-1zM17 5h1v1h-1zM17 8h1v1h-1zM17 14h1v1h-1zM17 18h1v1h-1zM17 29h1v1h-1zM17 45h1v1h-1zM17 52h1v2h-1zM17 72h1v1h-1zM17 75h1v1h-1zM17 78h1v1h-1zM17 84h1v1h-1zM17 89h1v1h-1zM17 97h1v1h-1zM17 100h1v1h-1zM17 102h1v1h-1zM17 105h1v1h-1zM17 125h1v1h-1zM17 128h1v1h-1zM17 132h1v2h-1zM17 151h1v2h-1zM17 158h1v1h-1zM17 167h1v2h-1zM17 172h1v1h-1zM17 223h1v1h-1zM18 0h1v1h-1zM18 2h1v1h-1zM18 4h1v1h-1zM18 15h1v1h-1zM18 18h1v1h-1zM18 25h1v1h-1zM18 31h1v1h-1zM18 65h1v1h-1zM18 93h1v2h-1zM18 113h1v1h-1zM18 116h1v1h-1zM18 120h1v1h-1zM18 123h1v1h-1zM18 128h1v1h-1zM18 132h1v1h-1zM18 144h1v1h-1zM18 153h1v1h-1zM18 160h1v1h-1zM18 164h1v1h-1zM18 174h1v1h-1zM18 187h1v2h-1zM18 191h1v1h-1zM18 194h1v1h-1zM18 198h1v1h-1zM18 202h1v4h-1zM18 208h1v1h-1zM18 210h1v1h-1zM18 221h1v1h-1zM18 227h1v1h-1zM18 231h1v1h-1zM18 237h1v1h-1zM19 0h1v1h-1zM19 2h1v1h-1zM19 7h1v1h-1zM19 9h1v1h-1zM19 15h1v1h-1zM19 18h1v2h-1zM19 28h1v1h-1zM19 35h1v1h-1zM19 46h1v1h-1zM19 52h1v1h-1zM19 57h1v1h-1zM19 62h1v1h-1zM19 67h1v1h-1zM19 75h1v1h-1zM19 80h1v1h-1zM19 101h1v1h-1zM19 113h1v1h-1zM19 118h1v1h-1zM19 125h1v1h-1zM19 154h1v1h-1zM19 157h1v1h-1zM19 161h1v1h-1zM19 164h1v1h-1zM19 176h1v1h-1zM19 179h1v1h-1zM19 184h1v1h-1zM19 208h1v2h-1zM19 235h1v1h-1zM19 242h1v1h-1z"/>
<path fill="#FFFFFF" d="M0 9h1v1h-1zM0 12h1v1h-1zM0 112h1v1h-1zM0 118h1v1h-1zM0 134h1v1h-1zM0 137h1v1h-1zM0 152h1v1h-1zM0 181h1v1h-1zM0 187h1v1h-1zM0 223h1v1h-1zM1 25h1v1h-1zM1 91h1v1h-1zM1 149h1v1h-1zM1 172h1v1h-1zM1 174h1v1h-1zM1 211h1v1h-1zM2 2h1v1h-1zM2 22h1v1h-1zM2 26h1v1h-1zM2 39h1v1h-1zM2 58h1v1h-1zM2 139h1v1h-1zM2 213h1v1h-1zM2 216h1v1h-1zM2 238h1v1h-1zM2 245h1v1h-1zM3 25h1v1h-1zM3 41h1v1h-1zM3 61h1v1h-1zM3 64h1v1h-1zM3 73h1v1h-1zM3 136h1v1h-1zM3 148h1v1h-1zM3 188h1v1h-1zM3 227h1v1h-1zM4 19h1v1h-1zM4 25h1v1h-1zM4 59h1v1h-1zM4 123h1v1h-1zM4 136h1v1h-1zM4 138h1v2h-1zM4 145h1v1h-1zM4 160h1v1h-1zM4 176h1v1h-1zM4 192h1v1h-1zM5 15h1v1h-1zM5 39h1v1h-1zM5 95h1v1h-1zM5 147h1v1h-1zM5 149h1v1h-1zM5 186h1v1h-1zM5 202h1v1h-1zM5 204h1v1h-1zM5 214h1v1h-1zM5 217h1v1h-1zM5 238h1v1h-1zM5 244h1v1h-1zM5 246h1v1h-1zM5 248h1v1h-1zM6 5h1v1h-1zM6 12h1v1h-1zM6 47h1v1h-1zM6 49h1v1h-1zM6 64h1v1h-1zM6 83h1v1h-1zM6 90h1v1h-1zM6 129h1v1h-1zM6 148h1v1h-1zM6 177h1v1h-1zM6 208h1v2h-1zM6 212h1v1h-1zM6 247h1v1h-1zM7 9h1v1h-1zM7 39h1v1h-1zM7 85h1v1h-1zM7 97h1v1h-1zM7 101h1v1h-1zM7 129h1v1h-1zM7 157h1v1h-1zM7 172h1v1h-1zM7 225h1v1h-1zM7 242h1v1h-1zM7 249h1v1h-1zM8 22h1v1h-1zM8 85h1v1h-1zM8 95h1v1h-1zM8 106h1v1h-1zM8 133h1v1h-1zM8 144h1v1h-1zM8 149h1v1h-1zM8 159h1v1h-1zM8 162h1v2h-1zM8 172h1v1h-1zM8 185h1v1h-1zM8 196h1v1h-1zM8 229h1v1h-1zM9 35h1v1h-1zM9 37h1v1h-1zM9 45h1v1h-1zM9 47h1v1h-1zM9 107h1v1h-1zM9 161h1v1h-1zM9 235h1v1h-1zM10 3h1v2h-1zM10 6h1v1h-1zM10 26h1v2h-1zM10 39h1v1h-1zM10 85h1v1h-1zM10 116h1v1h-1zM10 122h1v1h-1zM11 27h1v1h-1zM11 56h1v1h-1zM11 110h1v1h-1zM11 200h1v1h-1zM11 224h1v1h-1zM11 249h1v1h-1zM12 13h1v1h-1zM12 73h1v1h-1zM12 113h1v1h-1zM12 205h1v1h-1zM12 244h1v1h-1zM13 46h1v2h-1zM13 140h1v1h-1zM14 16h1v1h-1zM14 27h1v1h-1zM15 28h1v2h-1zM15 82h1v1h-1zM15 104h1v1h-1zM15 107h1v1h-1zM15 186h1v1h-1zM16 30h1v1h-1zM16 94h1v1h-1zM16 103h1v1h-1zM16 132h1v1h-1zM16 166h1v1h-1zM17 32h1v1h-1zM17 63h1v1h-1zM17 126h1v2h-1zM17 179h1v1h-1zM18 8h1v1h-1zM18 17h1v1h-1zM18 66h1v1h-1zM18 75h1v1h-1zM18 140h1v1h-1zM18 143h1v1h-1zM18 149h1v2h-1zM18 152h1v1h-1zM18 163h1v1h-1zM18 182h1v1h-1zM18 216h1v1h-1zM18 219h1v1h-1zM18 224h1v1h-1zM19 1h1v1h-1zM19 3h1v1h-1zM19 26h1v1h-1zM19 71h1v1h-1zM19 76h1v2h-1zM19 82h1v1h-1zM19 90h1v1h-1zM19 94h1v1h-1zM19 127h1v1h-1zM19 133h1v1h-1zM19 167h1v1h-1zM19 189h1v1h-1zM19 211h1v1h-1zM19 239h1v1h-1z"/>
<path fill="#FEF2EE" d="M0 1h1v1h-1zM0 8h1v1h-1zM0 59h1v1h-1zM0 82h1v2h-1zM0 131h1v1h-1zM0 136h1v1h-1zM0 141h1v1h-1zM0 144h1v1h-1zM0 146h1v1h-1zM0 221h1v2h-1zM1 26h1v1h-1zM1 93h1v1h-1zM1 156h1v1h-1zM1 178h1v1h-1zM1 206h1v1h-1zM1 208h1v2h-1zM1 213h1v1h-1zM2 20h1v1h-1zM2 32h1v1h-1zM2 35h1v1h-1zM2 56h1v1h-1zM2 110h1v1h-1zM2 188h1v1h-1zM2 198h1v1h-1zM2 222h1v1h-1zM2 226h1v1h-1zM2 229h1v2h-1zM2 234h1v1h-1zM2 240h1v1h-1zM3 26h1v1h-1zM3 38h1v1h-1zM3 40h1v1h-1zM3 44h1v1h-1zM3 110h1v1h-1zM3 120h1v1h-1zM3 125h1v1h-1zM3 134h1v1h-1zM3 137h1v2h-1zM3 143h1v1h-1zM3 224h1v1h-1zM4 29h1v1h-1zM4 143h1v1h-1zM4 146h1v1h-1zM5 37h1v1h-1zM5 81h1v1h-1zM5 83h1v1h-1zM5 86h1v1h-1zM5 144h1v1h-1zM5 161h1v1h-1zM5 163h1v2h-1zM5 194h1v1h-1zM5 211h1v1h-1zM5 232h1v1h-1zM6 45h1v1h-1zM6 59h1v1h-1zM6 69h1v1h-1zM6 81h1v1h-1zM6 88h1v2h-1zM6 96h1v1h-1zM6 122h1v1h-1zM6 124h1v1h-1zM6 159h1v1h-1zM6 185h1v1h-1zM6 187h1v2h-1zM6 191h1v1h-1zM6 210h1v1h-1zM6 213h1v2h-1zM6 235h1v2h-1zM6 239h1v1h-1zM6 242h1v3h-1zM7 55h1v2h-1zM7 95h1v1h-1zM7 106h1v1h-1zM7 120h1v2h-1zM7 135h1v1h-1zM7 158h1v1h-1zM7 162h1v1h-1zM7 198h1v1h-1zM7 207h1v1h-1zM7 210h1v2h-1zM7 214h1v1h-1zM7 224h1v1h-1zM7 243h1v1h-1zM8 23h1v1h-1zM8 92h1v1h-1zM8 114h1v1h-1zM8 160h1v1h-1zM8 193h1v2h-1zM8 211h1v1h-1zM8 217h1v3h-1zM8 245h1v1h-1zM8 248h1v1h-1zM9 30h1v1h-1zM9 33h1v1h-1zM9 39h1v1h-1zM9 116h1v2h-1zM9 149h1v1h-1zM9 158h1v3h-1zM9 218h1v1h-1zM10 0h1v2h-1zM10 9h1v1h-1zM10 73h1v1h-1zM10 81h1v3h-1zM11 55h1v1h-1zM11 57h1v2h-1zM11 76h1v1h-1zM11 207h1v1h-1zM13 5h1v1h-1zM13 45h1v1h-1zM13 197h1v2h-1zM14 29h1v1h-1zM16 22h1v1h-1zM16 167h1v2h-1zM17 49h1v1h-1zM17 56h1v1h-1zM17 181h1v2h-1zM18 21h1v2h-1zM18 24h1v1h-1zM18 37h1v1h-1zM18 62h1v1h-1zM18 70h1v1h-1zM18 76h1v1h-1zM18 95h1v1h-1zM18 249h1v1h-1zM19 53h1v1h-1zM19 72h1v1h-1zM19 134h1v1h-1zM19 166h1v1h-1zM19 169h1v2h-1zM19 172h1v3h-1zM19 200h1v1h-1zM19 241h1v1h-1zM19 245h1v2h-1zM19 248h1v1h-1z"/>
<path fill="#FDE4DD" d="M0 39h1v1h-1zM0 56h1v1h-1zM0 122h1v1h-1zM0 185h1v1h-1zM0 218h1v1h-1zM0 227h1v1h-1zM1 23h1v1h-1zM1 28h1v2h-1zM1 94h1v1h-1zM1 118h1v1h-1zM1 130h1v1h-1zM1 147h1v1h-1zM1 176h1v1h-1zM1 179h1v1h-1zM1 205h1v1h-1zM1 214h1v1h-1zM2 0h1v2h-1zM2 21h1v1h-1zM2 40h1v1h-1zM2 42h1v1h-1zM2 49h1v1h-1zM2 54h1v1h-1zM2 106h1v1h-1zM2 113h1v1h-1zM2 186h1v1h-1zM2 190h1v1h-1zM2 199h1v2h-1zM2 231h1v1h-1zM2 236h1v1h-1zM2 243h1v1h-1zM2 249h1v1h-1zM3 48h1v2h-1zM3 118h1v1h-1zM3 124h1v1h-1zM3 126h1v1h-1zM3 149h1v1h-1zM3 160h1v1h-1zM3 163h1v1h-1zM3 218h1v1h-1zM3 223h1v1h-1zM4 21h1v2h-1zM4 30h1v1h-1zM4 33h1v1h-1zM4 120h1v2h-1zM4 135h1v1h-1zM4 163h1v1h-1zM5 49h1v1h-1zM5 61h1v1h-1zM5 63h1v1h-1zM5 70h1v2h-1zM5 84h1v1h-1zM5 88h1v1h-1zM5 110h1v1h-1zM5 130h1v1h-1zM5 132h1v1h-1zM5 165h1v2h-1zM5 168h1v1h-1zM5 189h1v5h-1zM5 201h1v1h-1zM5 208h1v1h-1zM5 213h1v1h-1zM5 234h1v1h-1zM5 236h1v1h-1zM5 245h1v1h-1zM6 20h1v1h-1zM6 63h1v1h-1zM6 87h1v1h-1zM6 145h1v1h-1zM6 149h1v1h-1zM6 158h1v1h-1zM6 162h1v1h-1zM6 166h1v1h-1zM6 176h1v1h-1zM6 211h1v1h-1zM6 225h1v1h-1zM6 227h1v1h-1zM6 229h1v1h-1zM6 237h1v1h-1zM6 240h1v1h-1zM6 246h1v1h-1zM6 249h1v1h-1zM7 36h1v1h-1zM7 61h1v2h-1zM7 64h1v1h-1zM7 88h1v2h-1zM7 98h1v1h-1zM7 111h1v1h-1zM7 115h1v3h-1zM7 123h1v1h-1zM7 150h1v1h-1zM7 156h1v1h-1zM7 160h1v1h-1zM7 185h1v1h-1zM7 187h1v1h-1zM7 190h1v1h-1zM7 205h1v1h-1zM7 229h1v2h-1zM7 246h1v1h-1zM8 3h1v1h-1zM8 6h1v1h-1zM8 88h1v2h-1zM8 105h1v1h-1zM8 107h1v1h-1zM8 109h1v1h-1zM8 111h1v1h-1zM8 130h1v1h-1zM8 134h1v2h-1zM8 148h1v1h-1zM8 154h1v1h-1zM8 156h1v1h-1zM8 161h1v1h-1zM8 171h1v1h-1zM8 192h1v1h-1zM8 201h1v2h-1zM8 230h1v1h-1zM8 233h1v1h-1zM8 239h1v2h-1zM8 249h1v1h-1zM9 48h1v1h-1zM9 140h1v1h-1zM9 148h1v1h-1zM9 155h1v1h-1zM9 164h1v1h-1zM10 11h1v1h-1zM10 21h1v1h-1zM10 29h1v1h-1zM10 70h1v1h-1zM10 86h1v1h-1zM10 115h1v1h-1zM10 131h1v2h-1zM10 142h1v1h-1zM10 145h1v1h-1zM11 29h1v1h-1zM11 78h1v1h-1zM11 117h1v2h-1zM11 188h1v1h-1zM11 220h1v1h-1zM12 10h1v1h-1zM12 29h1v1h-1zM12 41h1v2h-1zM12 48h1v2h-1zM12 112h1v1h-1zM12 207h1v1h-1zM13 165h1v2h-1zM13 195h1v1h-1zM14 15h1v1h-1zM14 19h1v1h-1zM15 14h1v1h-1zM15 27h1v1h-1zM15 170h1v3h-1zM16 2h1v1h-1zM16 6h1v1h-1zM16 14h1v1h-1zM16 23h1v1h-1zM17 58h1v1h-1zM17 180h1v1h-1zM17 184h1v1h-1zM18 1h1v1h-1zM18 40h1v1h-1zM18 60h1v1h-1zM18 68h1v2h-1zM18 71h1v1h-1zM18 183h1v1h-1zM18 206h1v1h-1zM18 209h1v1h-1zM18 211h1v1h-1zM18 215h1v1h-1zM18 217h1v1h-1zM18 230h1v1h-1zM18 241h1v1h-1zM18 244h1v1h-1zM19 25h1v1h-1zM19 29h1v1h-1zM19 50h1v1h-1zM19 61h1v1h-1zM19 74h1v1h-1zM19 131h1v1h-1zM19 199h1v1h-1zM19 203h1v1h-1z"/>
<path fill="#FCD2C8" d="M0 4h1v1h-1zM0 38h1v1h-1zM0 44h1v1h-1zM0 48h1v1h-1zM0 60h1v2h-1zM0 79h1v1h-1zM0 81h1v1h-1zM0 87h1v2h-1zM0 142h1v1h-1zM0 148h1v2h-1zM0 151h1v1h-1zM0 155h1v1h-1zM0 157h1v1h-1zM0 162h1v1h-1zM0 164h1v1h-1zM0 175h1v1h-1zM0 179h1v1h-1zM0 182h1v1h-1zM0 184h1v1h-1zM0 186h1v1h-1zM0 191h1v2h-1zM0 212h1v1h-1zM0 220h1v1h-1zM0 224h1v1h-1zM0 228h1v1h-1zM0 231h1v1h-1zM0 233h1v1h-1zM1 24h1v1h-1zM1 48h1v1h-1zM1 72h1v1h-1zM1 117h1v1h-1zM1 127h1v1h-1zM1 141h1v3h-1zM1 170h1v2h-1zM1 173h1v1h-1zM1 177h1v1h-1zM1 196h1v1h-1zM1 218h1v2h-1zM2 34h1v1h-1zM2 36h1v1h-1zM2 43h1v1h-1zM2 45h1v2h-1zM2 51h1v1h-1zM2 105h1v1h-1zM2 114h1v1h-1zM2 138h1v1h-1zM2 143h1v2h-1zM2 167h1v1h-1zM2 187h1v1h-1zM2 193h1v1h-1zM2 202h1v1h-1zM2 205h1v1h-1zM2 218h1v1h-1zM2 227h1v1h-1zM2 233h1v1h-1zM3 22h1v2h-1zM3 39h1v1h-1zM3 112h1v1h-1zM3 123h1v1h-1zM3 132h1v1h-1zM3 142h1v1h-1zM3 151h1v5h-1zM3 162h1v1h-1zM3 219h1v2h-1zM4 24h1v1h-1zM4 26h1v1h-1zM4 28h1v1h-1zM4 31h1v1h-1zM4 122h1v1h-1zM4 158h1v1h-1zM4 191h1v1h-1zM4 194h1v1h-1zM5 9h1v1h-1zM5 35h1v1h-1zM5 38h1v1h-1zM5 47h1v2h-1zM5 57h1v1h-1zM5 59h1v2h-1zM5 62h1v1h-1zM5 64h1v1h-1zM5 85h1v1h-1zM5 87h1v1h-1zM5 136h1v1h-1zM5 138h1v1h-1zM5 140h1v1h-1zM5 142h1v1h-1zM5 160h1v1h-1zM5 169h1v1h-1zM5 185h1v1h-1zM5 203h1v1h-1zM5 207h1v1h-1zM5 212h1v1h-1zM5 218h1v1h-1zM5 242h1v2h-1zM6 21h1v1h-1zM6 48h1v1h-1zM6 56h1v1h-1zM6 58h1v1h-1zM6 60h1v1h-1zM6 66h1v1h-1zM6 75h1v1h-1zM6 120h1v1h-1zM6 127h1v1h-1zM6 141h1v1h-1zM6 152h1v2h-1zM6 157h1v1h-1zM6 164h1v1h-1zM6 168h1v2h-1zM6 193h1v2h-1zM6 245h1v1h-1zM7 30h1v1h-1zM7 80h1v1h-1zM7 82h1v1h-1zM7 118h1v2h-1zM7 124h1v2h-1zM7 130h1v1h-1zM7 141h1v1h-1zM7 143h1v1h-1zM7 151h1v1h-1zM7 171h1v1h-1zM7 191h1v1h-1zM7 215h1v1h-1zM7 221h1v1h-1zM7 223h1v1h-1zM7 227h1v1h-1zM7 241h1v1h-1zM8 1h1v1h-1zM8 24h1v1h-1zM8 78h1v1h-1zM8 90h1v2h-1zM8 108h1v1h-1zM8 112h1v1h-1zM8 132h1v1h-1zM8 151h1v2h-1zM8 174h1v1h-1zM8 187h1v2h-1zM8 197h1v2h-1zM8 209h1v1h-1zM8 223h1v1h-1zM8 235h1v1h-1zM8 241h1v1h-1zM9 34h1v1h-1zM9 38h1v1h-1zM9 41h1v1h-1zM9 115h1v1h-1zM9 141h1v1h-1zM9 216h1v1h-1zM9 227h1v1h-1zM9 229h1v1h-1zM10 12h1v1h-1zM10 84h1v1h-1zM10 88h1v1h-1zM10 109h1v1h-1zM10 118h1v1h-1zM10 134h1v1h-1zM10 140h1v2h-1zM10 143h1v1h-1zM10 147h1v1h-1zM10 149h1v1h-1zM10 225h1v1h-1zM10 228h1v1h-1zM11 25h1v1h-1zM11 59h1v1h-1zM11 119h1v1h-1zM11 185h1v1h-1zM11 205h1v1h-1zM11 221h1v1h-1zM12 2h1v1h-1zM12 25h1v1h-1zM12 39h1v1h-1zM12 43h1v1h-1zM12 213h1v1h-1zM13 4h1v1h-1zM13 8h1v1h-1zM13 48h1v1h-1zM13 53h1v2h-1zM13 202h1v1h-1zM14 25h1v1h-1zM15 10h1v1h-1zM15 33h1v1h-1zM15 174h1v1h-1zM15 177h1v1h-1zM16 5h1v1h-1zM16 8h1v1h-1zM16 13h1v1h-1zM17 48h1v1h-1zM18 3h1v1h-1zM18 16h1v1h-1zM18 19h1v1h-1zM18 41h1v1h-1zM18 58h1v1h-1zM18 67h1v1h-1zM18 74h1v1h-1zM18 77h1v3h-1zM18 81h1v1h-1zM18 86h1v2h-1zM18 99h1v1h-1zM18 141h1v1h-1zM18 180h1v1h-1zM18 218h1v1h-1zM18 232h1v1h-1zM18 234h1v1h-1zM19 4h1v1h-1zM19 12h1v2h-1zM19 54h1v1h-1zM19 78h1v2h-1zM19 81h1v1h-1zM19 83h1v3h-1zM19 128h1v1h-1zM19 130h1v1h-1zM19 185h1v1h-1zM19 193h1v1h-1zM19 201h1v1h-1zM19 240h1v1h-1z"/>
<path fill="#FBC0B2" d="M0 37h1v1h-1zM0 55h1v1h-1zM0 72h1v1h-1zM0 80h1v1h-1zM0 124h1v1h-1zM0 130h1v1h-1zM0 138h1v1h-1zM0 189h1v1h-1zM0 210h1v2h-1zM0 229h1v1h-1zM1 22h1v1h-1zM1 27h1v1h-1zM1 70h1v1h-1zM1 75h1v1h-1zM1 77h1v1h-1zM1 86h1v3h-1zM1 90h1v1h-1zM1 92h1v1h-1zM1 132h1v3h-1zM1 151h1v1h-1zM1 153h1v1h-1zM1 155h1v1h-1zM1 157h1v1h-1zM1 164h1v1h-1zM1 201h1v1h-1zM1 207h1v1h-1zM1 210h1v1h-1zM1 216h1v1h-1zM2 23h1v1h-1zM2 30h1v1h-1zM2 33h1v1h-1zM2 38h1v1h-1zM2 107h1v2h-1zM2 111h1v2h-1zM2 127h1v1h-1zM2 129h1v1h-1zM2 140h1v1h-1zM2 151h1v2h-1zM2 155h1v2h-1zM2 189h1v1h-1zM2 191h1v1h-1zM2 196h1v1h-1zM2 214h1v1h-1zM2 217h1v1h-1zM2 219h1v1h-1zM2 221h1v1h-1zM2 225h1v1h-1zM2 228h1v1h-1zM2 232h1v1h-1zM2 235h1v1h-1zM2 241h1v2h-1zM3 27h1v1h-1zM3 36h1v2h-1zM3 102h1v3h-1zM3 113h1v2h-1zM3 119h1v1h-1zM3 121h1v1h-1zM3 127h1v1h-1zM3 130h1v1h-1zM3 135h1v1h-1zM3 139h1v1h-1zM3 141h1v1h-1zM3 144h1v1h-1zM3 150h1v1h-1zM3 157h1v1h-1zM3 161h1v1h-1zM3 215h1v2h-1zM4 140h1v2h-1zM4 147h1v2h-1zM4 157h1v1h-1zM5 40h1v1h-1zM5 43h1v2h-1zM5 73h1v1h-1zM5 80h1v1h-1zM5 82h1v1h-1zM5 131h1v1h-1zM5 135h1v1h-1zM5 137h1v1h-1zM5 141h1v1h-1zM5 187h1v2h-1zM5 230h1v1h-1zM5 233h1v1h-1zM5 247h1v1h-1zM5 249h1v1h-1zM6 61h1v1h-1zM6 82h1v1h-1zM6 84h1v2h-1zM6 140h1v1h-1zM6 146h1v1h-1zM6 150h1v1h-1zM6 156h1v1h-1zM6 161h1v1h-1zM6 186h1v1h-1zM6 192h1v1h-1zM6 215h1v1h-1zM6 218h1v1h-1zM6 221h1v1h-1zM6 233h1v1h-1zM7 35h1v1h-1zM7 37h1v1h-1zM7 57h1v2h-1zM7 77h1v2h-1zM7 96h1v1h-1zM7 100h1v1h-1zM7 102h1v1h-1zM7 104h1v2h-1zM7 107h1v4h-1zM7 112h1v2h-1zM7 127h1v1h-1zM7 152h1v1h-1zM7 159h1v1h-1zM7 164h1v1h-1zM7 194h1v1h-1zM7 196h1v1h-1zM7 199h1v1h-1zM7 206h1v1h-1zM7 209h1v1h-1zM7 212h1v1h-1zM7 218h1v1h-1zM7 228h1v1h-1zM7 231h1v1h-1zM7 234h1v1h-1zM7 247h1v1h-1zM8 2h1v1h-1zM8 4h1v2h-1zM8 8h1v1h-1zM8 77h1v1h-1zM8 113h1v1h-1zM8 136h1v1h-1zM8 146h1v1h-1zM8 157h1v1h-1zM8 199h1v1h-1zM8 206h1v1h-1zM8 215h1v2h-1zM8 246h1v1h-1zM9 31h1v1h-1zM9 36h1v1h-1zM9 43h1v1h-1zM9 119h1v1h-1zM9 143h1v1h-1zM9 145h1v1h-1zM9 156h1v1h-1zM9 163h1v1h-1zM9 217h1v1h-1zM9 219h1v1h-1zM10 5h1v1h-1zM10 20h1v1h-1zM10 71h1v1h-1zM10 74h1v1h-1zM10 80h1v1h-1zM10 89h1v1h-1zM10 106h1v1h-1zM10 229h1v1h-1zM11 79h1v1h-1zM11 82h1v1h-1zM11 186h1v1h-1zM11 209h1v2h-1zM11 222h1v2h-1zM12 3h1v1h-1zM12 5h1v1h-1zM12 40h1v1h-1zM12 44h1v2h-1zM12 206h1v1h-1zM12 209h1v1h-1zM12 211h1v2h-1zM13 3h1v1h-1zM13 168h1v1h-1zM13 194h1v1h-1zM13 196h1v1h-1zM13 199h1v1h-1zM13 201h1v1h-1zM15 26h1v1h-1zM15 31h1v1h-1zM15 34h1v1h-1zM15 73h1v1h-1zM15 105h1v1h-1zM15 109h1v1h-1zM16 1h1v1h-1zM16 10h1v3h-1zM16 20h1v2h-1zM16 101h1v1h-1zM17 47h1v1h-1zM17 57h1v1h-1zM17 59h1v1h-1zM17 129h1v1h-1zM18 38h1v1h-1zM18 43h1v2h-1zM18 57h1v1h-1zM18 61h1v1h-1zM18 64h1v1h-1zM18 80h1v1h-1zM18 83h1v1h-1zM18 142h1v1h-1zM18 214h1v1h-1zM18 233h1v1h-1zM18 240h1v1h-1zM18 245h1v3h-1zM19 14h1v1h-1zM19 51h1v1h-1zM19 70h1v1h-1zM19 88h1v1h-1zM19 168h1v1h-1zM19 171h1v1h-1zM19 188h1v1h-1zM19 197h1v1h-1zM19 202h1v1h-1zM19 243h1v1h-1zM19 247h1v1h-1z"/>
<path fill="#F9AB9C" d="M0 3h1v1h-1zM0 36h1v1h-1zM0 77h1v1h-1zM0 84h1v1h-1zM0 103h1v1h-1zM0 132h1v2h-1zM0 139h1v2h-1zM0 143h1v1h-1zM0 163h1v1h-1zM0 232h1v1h-1zM0 236h1v1h-1zM0 245h1v1h-1zM1 45h1v1h-1zM1 49h1v1h-1zM1 71h1v1h-1zM1 76h1v1h-1zM1 78h1v2h-1zM1 82h1v1h-1zM1 85h1v1h-1zM1 129h1v1h-1zM1 131h1v1h-1zM1 139h1v1h-1zM1 158h1v1h-1zM1 160h1v1h-1zM1 162h1v1h-1zM1 192h1v1h-1zM1 217h1v1h-1zM1 222h1v1h-1zM1 224h1v1h-1zM1 239h1v1h-1zM1 242h1v1h-1zM2 3h1v2h-1zM2 7h1v1h-1zM2 9h1v1h-1zM2 24h1v1h-1zM2 37h1v1h-1zM2 141h1v1h-1zM2 145h1v1h-1zM2 159h1v1h-1zM2 195h1v1h-1zM2 197h1v1h-1zM2 210h1v3h-1zM2 223h1v2h-1zM2 244h1v1h-1zM3 28h1v1h-1zM3 31h1v1h-1zM3 100h1v2h-1zM3 111h1v1h-1zM3 128h1v2h-1zM3 131h1v1h-1zM3 140h1v1h-1zM3 145h1v1h-1zM3 147h1v1h-1zM4 20h1v1h-1zM4 27h1v1h-1zM4 106h1v1h-1zM4 124h1v1h-1zM4 142h1v1h-1zM4 149h1v1h-1zM4 151h1v1h-1zM4 154h1v1h-1zM5 42h1v1h-1zM5 74h1v1h-1zM5 89h1v1h-1zM5 143h1v1h-1zM5 162h1v1h-1zM6 62h1v1h-1zM6 77h1v1h-1zM6 80h1v1h-1zM6 86h1v1h-1zM6 95h1v1h-1zM6 97h1v3h-1zM6 123h1v1h-1zM6 142h1v1h-1zM6 147h1v1h-1zM6 160h1v1h-1zM6 163h1v1h-1zM6 175h1v1h-1zM6 178h1v2h-1zM6 189h1v2h-1zM6 217h1v1h-1zM6 238h1v1h-1zM6 241h1v1h-1zM7 38h1v1h-1zM7 59h1v1h-1zM7 81h1v1h-1zM7 99h1v1h-1zM7 114h1v1h-1zM7 122h1v1h-1zM7 128h1v1h-1zM7 131h1v4h-1zM7 161h1v1h-1zM7 163h1v1h-1zM7 195h1v1h-1zM7 197h1v1h-1zM7 208h1v1h-1zM7 213h1v1h-1zM7 222h1v1h-1zM7 244h1v1h-1zM7 248h1v1h-1zM8 0h1v1h-1zM8 27h1v1h-1zM8 110h1v1h-1zM8 138h1v1h-1zM8 145h1v1h-1zM8 147h1v1h-1zM8 190h1v2h-1zM8 210h1v1h-1zM8 212h1v1h-1zM9 32h1v1h-1zM9 44h1v1h-1zM9 46h1v1h-1zM9 49h1v1h-1zM9 157h1v1h-1zM9 215h1v1h-1zM9 225h1v1h-1zM10 2h1v1h-1zM10 7h1v1h-1zM10 72h1v1h-1zM10 226h1v1h-1zM11 28h1v1h-1zM11 62h1v1h-1zM11 189h1v1h-1zM11 197h1v1h-1zM11 199h1v1h-1zM11 211h1v1h-1zM12 1h1v1h-1zM12 36h1v1h-1zM12 38h1v1h-1zM13 0h1v1h-1zM13 6h1v2h-1zM13 49h1v1h-1zM14 26h1v1h-1zM15 4h1v1h-1zM15 8h1v1h-1zM15 175h1v1h-1zM16 4h1v1h-1zM17 22h1v1h-1zM17 55h1v1h-1zM17 183h1v1h-1zM18 42h1v1h-1zM18 63h1v1h-1zM18 72h1v2h-1zM18 82h1v1h-1zM18 88h1v1h-1zM18 96h1v1h-1zM18 98h1v1h-1zM18 162h1v1h-1zM18 248h1v1h-1zM19 73h1v1h-1zM19 129h1v1h-1zM19 132h1v1h-1zM19 165h1v1h-1zM19 187h1v1h-1zM19 196h1v1h-1zM19 204h1v1h-1zM19 249h1v1h-1z"/>
<path fill="#F79687" d="M0 40h1v1h-1zM0 43h1v1h-1zM0 62h1v2h-1zM0 66h1v1h-1zM0 70h1v2h-1zM0 73h1v1h-1zM0 75h1v1h-1zM0 85h1v1h-1zM0 160h1v1h-1zM0 200h1v1h-1zM0 214h1v1h-1zM0 226h1v1h-1zM0 230h1v1h-1zM0 239h1v1h-1zM0 244h1v1h-1zM1 47h1v1h-1zM1 51h1v1h-1zM1 69h1v1h-1zM1 81h1v1h-1zM1 102h1v1h-1zM1 119h1v4h-1zM1 125h1v2h-1zM1 135h1v2h-1zM1 152h1v1h-1zM1 159h1v1h-1zM1 163h1v1h-1zM1 197h1v2h-1zM1 212h1v1h-1zM1 220h1v1h-1zM1 237h1v1h-1zM2 5h1v1h-1zM2 31h1v1h-1zM2 157h1v1h-1zM2 181h1v1h-1zM2 192h1v1h-1zM2 194h1v1h-1zM2 215h1v1h-1zM2 220h1v1h-1zM3 30h1v1h-1zM3 115h1v1h-1zM3 133h1v1h-1zM3 146h1v1h-1zM4 23h1v1h-1zM4 107h1v1h-1zM4 118h1v1h-1zM4 128h1v2h-1zM4 144h1v1h-1zM4 150h1v1h-1zM5 72h1v1h-1zM5 226h1v2h-1zM5 229h1v1h-1zM6 79h1v1h-1zM6 155h1v1h-1zM6 220h1v1h-1zM6 224h1v1h-1zM7 76h1v1h-1zM7 79h1v1h-1zM7 126h1v1h-1zM7 137h1v2h-1zM7 144h1v1h-1zM7 217h1v1h-1zM7 219h1v2h-1zM7 232h1v2h-1zM7 240h1v1h-1zM7 245h1v1h-1zM8 7h1v1h-1zM8 9h1v1h-1zM8 29h1v1h-1zM8 137h1v1h-1zM8 139h1v1h-1zM8 153h1v1h-1zM8 213h1v2h-1zM8 247h1v1h-1zM10 23h1v1h-1zM10 105h1v1h-1zM10 107h1v1h-1zM10 113h1v1h-1zM10 227h1v1h-1zM11 26h1v1h-1zM11 70h1v1h-1zM11 84h1v1h-1zM11 115h1v1h-1zM11 187h1v1h-1zM11 198h1v1h-1zM11 213h1v1h-1zM12 0h1v1h-1zM12 4h1v1h-1zM12 35h1v1h-1zM12 171h1v1h-1zM12 208h1v1h-1zM12 210h1v1h-1zM13 1h1v1h-1zM13 9h1v1h-1zM13 52h1v1h-1zM15 1h1v2h-1zM15 5h1v2h-1zM15 21h1v1h-1zM15 24h1v2h-1zM16 24h1v1h-1zM16 165h1v1h-1zM16 169h1v1h-1zM17 23h1v2h-1zM18 20h1v1h-1zM18 23h1v1h-1zM18 36h1v1h-1zM18 59h1v1h-1zM18 89h1v1h-1zM18 97h1v1h-1zM19 11h1v1h-1zM19 87h1v1h-1zM19 186h1v1h-1zM19 190h1v1h-1z"/>
<path fill="#F28074" d="M0 41h1v1h-1zM0 74h1v1h-1zM0 78h1v1h-1zM0 86h1v1h-1zM0 95h1v1h-1zM0 156h1v1h-1zM0 159h1v1h-1zM0 205h1v1h-1zM0 213h1v1h-1zM0 215h1v1h-1zM0 225h1v1h-1zM0 234h1v2h-1zM0 247h1v1h-1zM1 60h1v1h-1zM1 65h1v1h-1zM1 67h1v1h-1zM1 74h1v1h-1zM1 80h1v1h-1zM1 89h1v1h-1zM1 95h1v1h-1zM1 115h1v1h-1zM1 123h1v2h-1zM1 128h1v1h-1zM1 137h1v1h-1zM1 154h1v1h-1zM1 191h1v1h-1zM1 194h1v2h-1zM1 215h1v1h-1zM1 223h1v1h-1zM1 236h1v1h-1zM2 6h1v1h-1zM2 8h1v1h-1zM2 125h1v2h-1zM2 128h1v1h-1zM2 130h1v1h-1zM2 153h1v1h-1zM3 32h1v1h-1zM3 34h1v1h-1zM3 107h1v1h-1zM3 116h1v2h-1zM3 158h1v2h-1zM4 105h1v1h-1zM4 109h1v1h-1zM4 126h1v1h-1zM4 130h1v4h-1zM4 152h1v2h-1zM5 41h1v1h-1zM5 45h1v2h-1zM5 228h1v1h-1zM6 78h1v1h-1zM6 200h1v1h-1zM6 204h1v1h-1zM6 223h1v1h-1zM7 84h1v1h-1zM7 136h1v1h-1zM7 139h1v1h-1zM7 153h1v3h-1zM8 205h1v1h-1zM8 207h1v2h-1zM9 118h1v1h-1zM10 24h1v1h-1zM10 111h1v1h-1zM10 114h1v1h-1zM11 80h1v2h-1zM11 83h1v1h-1zM11 208h1v1h-1zM11 214h1v1h-1zM12 6h1v4h-1zM12 30h1v1h-1zM12 37h1v1h-1zM12 172h1v1h-1zM12 174h1v1h-1zM12 214h1v1h-1zM13 50h1v1h-1zM15 0h1v1h-1zM15 3h1v1h-1zM15 7h1v1h-1zM15 9h1v1h-1zM15 20h1v1h-1zM15 22h1v2h-1zM16 0h1v1h-1zM17 21h1v1h-1zM18 35h1v1h-1zM18 39h1v1h-1zM18 51h1v1h-1zM18 56h1v1h-1zM18 84h1v2h-1zM19 86h1v1h-1zM19 194h1v2h-1z"/>
<path fill="#EE6A60" d="M0 35h1v1h-1zM0 42h1v1h-1zM0 64h1v1h-1zM0 69h1v1h-1zM0 76h1v1h-1zM0 93h1v1h-1zM0 96h1v1h-1zM0 161h1v1h-1zM0 202h1v1h-1zM0 217h1v1h-1zM0 219h1v1h-1zM0 237h1v2h-1zM0 240h1v2h-1zM0 243h1v1h-1zM1 46h1v1h-1zM1 54h1v1h-1zM1 56h1v1h-1zM1 61h1v1h-1zM1 73h1v1h-1zM1 83h1v1h-1zM1 96h1v1h-1zM1 100h1v2h-1zM1 116h1v1h-1zM1 138h1v1h-1zM1 150h1v1h-1zM1 161h1v1h-1zM1 190h1v1h-1zM1 199h1v1h-1zM1 240h1v1h-1zM1 247h1v1h-1zM2 134h1v1h-1zM2 142h1v1h-1zM2 149h1v2h-1zM2 154h1v1h-1zM3 33h1v1h-1zM3 105h1v1h-1zM3 156h1v1h-1zM4 127h1v1h-1zM4 134h1v1h-1zM5 225h1v1h-1zM6 76h1v1h-1zM6 143h1v2h-1zM6 219h1v1h-1zM6 222h1v1h-1zM7 75h1v1h-1zM7 140h1v1h-1zM7 142h1v1h-1zM8 25h1v1h-1zM9 42h1v1h-1zM9 226h1v1h-1zM9 228h1v1h-1zM10 22h1v1h-1zM10 108h1v1h-1zM10 110h1v1h-1zM10 112h1v1h-1zM11 63h1v1h-1zM11 196h1v1h-1zM11 206h1v1h-1zM11 212h1v1h-1zM12 31h1v1h-1zM12 34h1v1h-1zM12 170h1v1h-1zM12 173h1v1h-1zM13 51h1v1h-1zM16 3h1v1h-1zM17 20h1v1h-1zM18 55h1v1h-1zM19 10h1v1h-1zM19 89h1v1h-1zM19 191h1v2h-1zM19 198h1v1h-1z"/>
<path fill="#E6534D" d="M0 67h1v1h-1zM0 89h1v1h-1zM0 94h1v1h-1zM0 99h1v2h-1zM0 158h1v1h-1zM0 208h1v2h-1zM0 216h1v1h-1zM0 242h1v1h-1zM1 50h1v1h-1zM1 53h1v1h-1zM1 55h1v1h-1zM1 62h1v1h-1zM1 66h1v1h-1zM1 84h1v1h-1zM1 97h1v1h-1zM1 103h1v1h-1zM1 185h1v1h-1zM1 193h1v1h-1zM1 221h1v1h-1zM1 227h1v1h-1zM1 238h1v1h-1zM1 246h1v1h-1zM2 131h1v1h-1zM2 146h1v1h-1zM2 148h1v1h-1zM3 106h1v1h-1zM3 108h1v1h-1zM4 111h1v1h-1zM6 135h1v1h-1zM6 137h1v2h-1zM6 201h1v1h-1zM7 83h1v1h-1zM7 147h1v2h-1zM7 216h1v1h-1zM7 235h1v1h-1zM7 237h1v3h-1zM8 26h1v1h-1zM9 40h1v1h-1zM11 68h1v2h-1zM11 71h1v3h-1zM11 172h1v1h-1zM11 195h1v1h-1zM12 32h1v2h-1zM13 2h1v1h-1zM13 10h1v2h-1zM18 53h1v1h-1z"/>
<path fill="#DE3C3A" d="M0 65h1v1h-1zM0 68h1v1h-1zM0 97h1v1h-1zM0 102h1v1h-1zM0 104h1v1h-1zM0 203h1v2h-1zM0 248h1v1h-1zM1 58h1v2h-1zM1 68h1v1h-1zM1 99h1v1h-1zM1 182h1v1h-1zM1 228h1v1h-1zM1 248h1v1h-1zM2 133h1v1h-1zM2 147h1v1h-1zM2 158h1v1h-1zM2 160h1v1h-1zM2 164h1v1h-1zM2 178h1v1h-1zM2 182h1v1h-1zM4 108h1v1h-1zM4 113h1v1h-1zM4 116h1v1h-1zM4 119h1v1h-1zM4 125h1v1h-1zM6 136h1v1h-1zM6 139h1v1h-1zM7 145h1v1h-1zM7 149h1v1h-1zM7 236h1v1h-1zM11 60h1v2h-1zM11 64h1v1h-1zM11 66h1v1h-1zM11 74h1v1h-1zM13 12h1v1h-1z"/>
<path fill="#D2272C" d="M0 92h1v1h-1zM0 201h1v1h-1zM0 206h1v2h-1zM1 52h1v1h-1zM1 57h1v1h-1zM1 63h1v2h-1zM1 98h1v1h-1zM1 104h1v1h-1zM1 181h1v1h-1zM1 226h1v1h-1zM1 234h1v2h-1zM1 241h1v1h-1zM1 243h1v2h-1zM2 132h1v1h-1zM2 161h1v2h-1zM3 109h1v1h-1zM4 110h1v1h-1zM4 114h1v1h-1zM7 146h1v1h-1zM8 28h1v1h-1zM11 65h1v1h-1zM11 169h1v1h-1zM11 174h1v1h-1zM18 46h1v1h-1zM18 50h1v1h-1zM18 54h1v1h-1z"/>
<path fill="#C6121E" d="M0 90h1v1h-1zM0 101h1v1h-1zM0 246h1v1h-1zM0 249h1v1h-1zM1 183h1v2h-1zM1 187h1v3h-1zM1 225h1v1h-1zM1 231h1v3h-1zM1 249h1v1h-1zM2 163h1v1h-1zM2 180h1v1h-1zM2 183h1v2h-1zM4 117h1v1h-1zM6 203h1v1h-1zM11 67h1v1h-1zM11 165h1v1h-1zM11 171h1v1h-1zM11 173h1v1h-1zM18 47h1v2h-1z"/>
<path fill="#B30E1D" d="M1 180h1v1h-1zM1 229h1v2h-1zM1 245h1v1h-1zM2 176h1v1h-1zM4 112h1v1h-1zM13 18h1v1h-1zM18 49h1v1h-1zM18 52h1v1h-1z"/>
<path fill="#A00A1C" d="M0 91h1v1h-1zM0 98h1v1h-1zM4 115h1v1h-1zM6 202h1v1h-1zM11 168h1v1h-1zM13 13h1v2h-1zM13 16h1v1h-1zM18 45h1v1h-1z"/>
<path fill="#870A1F" d="M1 186h1v1h-1zM2 175h1v1h-1zM11 166h1v2h-1zM11 170h1v1h-1z"/>
<path fill="#6E0A22" d="M13 19h1v1h-1z"/>
<path fill="#6E0A22" d="M13 17h1v1h-1z"/>
<path fill="#6E0A22" d="M2 179h1v1h-1z"/>
<path fill="#6E0A22" d="M13 15h1v1h-1z"/>
<path fill="#6E0A22" d="M2 177h1v1h-1z"/>
</g>
<text transform="translate(1038 2616.6) rotate(90)" x="-0.00" y="0" font-size="22.2" fill="#000" textLength="87.74" lengthAdjust="spacingAndGlyphs" stroke="#000" stroke-width="0.5">AML1371</text>
<text transform="translate(1063.9 2616.6) rotate(90)" x="-0.00" y="0" font-size="22.2" fill="#000" textLength="87.74" lengthAdjust="spacingAndGlyphs" stroke="#000" stroke-width="0.5">AML0024</text>
<text transform="translate(1089.8 2616.6) rotate(90)" x="-0.00" y="0" font-size="22.2" fill="#000" textLength="87.74" lengthAdjust="spacingAndGlyphs" stroke="#000" stroke-width="0.5">AML4897</text>
<text transform="translate(1115.8 2616.6) rotate(90)" x="-0.00" y="0" font-size="22.2" fill="#000" textLength="87.74" lengthAdjust="spacingAndGlyphs" stroke="#000" stroke-width="0.5">AML0310</text>
<text transform="translate(1141.7 2616.6) rotate(90)" x="-0.00" y="0" font-size="22.2" fill="#000" textLength="87.74" lengthAdjust="spacingAndGlyphs" stroke="#000" stroke-width="0.5">AML0048</text>
<text transform="translate(1167.6 2616.6) rotate(90)" x="-0.00" y="0" font-size="22.2" fill="#000" textLength="87.74" lengthAdjust="spacingAndGlyphs" stroke="#000" stroke-width="0.5">AML3730</text>
<text transform="translate(1193.5 2616.6) rotate(90)" x="-0.00" y="0" font-size="22.2" fill="#000" textLength="87.74" lengthAdjust="spacingAndGlyphs" stroke="#000" stroke-width="0.5">AML0160</text>
<text transform="translate(1219.4 2616.6) rotate(90)" x="-0.00" y="0" font-size="22.2" fill="#000" textLength="87.74" lengthAdjust="spacingAndGlyphs" stroke="#000" stroke-width="0.5">AML3133</text>
<text transform="translate(1245.4 2616.6) rotate(90)" x="-0.00" y="0" font-size="22.2" fill="#000" textLength="87.74" lengthAdjust="spacingAndGlyphs" stroke="#000" stroke-width="0.5">AML2451</text>
<text transform="translate(1271.3 2616.6) rotate(90)" x="-0.00" y="0" font-size="22.2" fill="#000" textLength="87.74" lengthAdjust="spacingAndGlyphs" stroke="#000" stroke-width="0.5">AML0361</text>
<text transform="translate(1297.2 2616.6) rotate(90)" x="-0.00" y="0" font-size="22.2" fill="#000" textLength="87.74" lengthAdjust="spacingAndGlyphs" stroke="#000" stroke-width="0.5">AML4340</text>
<text transform="translate(1323.1 2616.6) rotate(90)" x="-0.00" y="0" font-size="22.2" fill="#000" textLength="87.74" lengthAdjust="spacingAndGlyphs" stroke="#000" stroke-width="0.5">AML3050</text>
<text transform="translate(1349 2616.6) rotate(90)" x="-0.00" y="0" font-size="22.2" fill="#000" textLength="87.74" lengthAdjust="spacingAndGlyphs" stroke="#000" stroke-width="0.5">AML3266</text>
<text transform="translate(1375 2616.6) rotate(90)" x="-0.00" y="0" font-size="22.2" fill="#000" textLength="87.74" lengthAdjust="spacingAndGlyphs" stroke="#000" stroke-width="0.5">AML0693</text>
<text transform="translate(1400.9 2616.6) rotate(90)" x="-0.00" y="0" font-size="22.2" fill="#000" textLength="87.74" lengthAdjust="spacingAndGlyphs" stroke="#000" stroke-width="0.5">AML2123</text>
<text transform="translate(1426.8 2616.6) rotate(90)" x="-0.00" y="0" font-size="22.2" fill="#000" textLength="86.22" lengthAdjust="spacingAndGlyphs" stroke="#000" stroke-width="0.5">AML0114</text>
<text transform="translate(1452.7 2616.6) rotate(90)" x="-0.00" y="0" font-size="22.2" fill="#000" textLength="87.74" lengthAdjust="spacingAndGlyphs" stroke="#000" stroke-width="0.5">AML0612</text>
<text transform="translate(1478.6 2616.6) rotate(90)" x="-0.00" y="0" font-size="22.2" fill="#000" textLength="87.74" lengthAdjust="spacingAndGlyphs" stroke="#000" stroke-width="0.5">AML3762</text>
<text transform="translate(1504.6 2616.6) rotate(90)" x="-0.00" y="0" font-size="22.2" fill="#000" textLength="87.74" lengthAdjust="spacingAndGlyphs" stroke="#000" stroke-width="0.5">AML2910</text>
<text transform="translate(1530.5 2616.6) rotate(90)" x="-0.00" y="0" font-size="22.2" fill="#000" textLength="87.74" lengthAdjust="spacingAndGlyphs" stroke="#000" stroke-width="0.5">AML3948</text>
<defs><linearGradient id="cb2" x1="0" y1="0" x2="0" y2="1"><stop offset="0%" stop-color="#6E0A22"/><stop offset="6.2%" stop-color="#A00A1C"/><stop offset="12.5%" stop-color="#C6121E"/><stop offset="18.8%" stop-color="#DE3C3A"/><stop offset="25%" stop-color="#EE6A60"/><stop offset="31.2%" stop-color="#F79687"/><stop offset="37.5%" stop-color="#FBC0B2"/><stop offset="43.8%" stop-color="#FDE4DD"/><stop offset="50%" stop-color="#FFFFFF"/><stop offset="56.2%" stop-color="#E4F7F9"/><stop offset="62.5%" stop-color="#C4EEF2"/><stop offset="68.8%" stop-color="#9BE4EC"/><stop offset="75%" stop-color="#69C8E1"/><stop offset="81.2%" stop-color="#46A5E1"/><stop offset="87.5%" stop-color="#2878E8"/><stop offset="93.8%" stop-color="#1850D2"/><stop offset="100%" stop-color="#161E78"/></linearGradient></defs>
<rect x="1591.6" y="2095.5" width="14" height="201.5" fill="url(#cb2)"/>
<text x="1610.80" y="2100.4" font-size="18" fill="#000" textLength="9.51" lengthAdjust="spacingAndGlyphs" stroke="#000" stroke-width="0.3">4</text>
<text x="1610.80" y="2150.7" font-size="18" fill="#000" textLength="9.51" lengthAdjust="spacingAndGlyphs" stroke="#000" stroke-width="0.3">2</text>
<text x="1610.80" y="2200.4" font-size="18" fill="#000" textLength="9.51" lengthAdjust="spacingAndGlyphs" stroke="#000" stroke-width="0.3">0</text>
<text x="1610.80" y="2250.7" font-size="18" fill="#000" textLength="19.50" lengthAdjust="spacingAndGlyphs" stroke="#000" stroke-width="0.3">−2</text>
<text x="1610.80" y="2300.7" font-size="18" fill="#000" textLength="19.50" lengthAdjust="spacingAndGlyphs" stroke="#000" stroke-width="0.3">−4</text>
<text x="1586.00" y="1902.3" font-size="21" fill="#000" textLength="74.43" lengthAdjust="spacingAndGlyphs" stroke="#000" stroke-width="0.3">Max CT</text>
<rect x="1587" y="1909" width="19" height="19.1" fill="#3C9BE4"/>
<text x="1609.70" y="1922.5" font-size="18.5" fill="#000" textLength="48.57" lengthAdjust="spacingAndGlyphs" stroke="#000" stroke-width="0.3">HSPC</text>
<rect x="1587" y="1928" width="19" height="18.8" fill="#F8533A"/>
<text x="1609.44" y="1942.4" font-size="18.5" fill="#000" textLength="71.32" lengthAdjust="spacingAndGlyphs" stroke="#000" stroke-width="0.3">Myeloid</text>
<text x="1587.70" y="1969.5" font-size="21" fill="#000" textLength="106.22" lengthAdjust="spacingAndGlyphs" stroke="#000" stroke-width="0.3">Age group</text>
<rect x="1587" y="1976.1" width="19" height="19.1" fill="#F99B4B"/>
<text x="1611.10" y="1988.2" font-size="18.5" fill="#000" textLength="90.22" lengthAdjust="spacingAndGlyphs" stroke="#000" stroke-width="0.3">Adult &lt; 60</text>
<rect x="1587" y="1995.1" width="19" height="19.3" fill="#E0184F"/>
<text x="1611.10" y="2006.3" font-size="18.5" fill="#000" textLength="90.22" lengthAdjust="spacingAndGlyphs" stroke="#000" stroke-width="0.3">Adult &gt; 60</text>
</svg>
</body></html>
